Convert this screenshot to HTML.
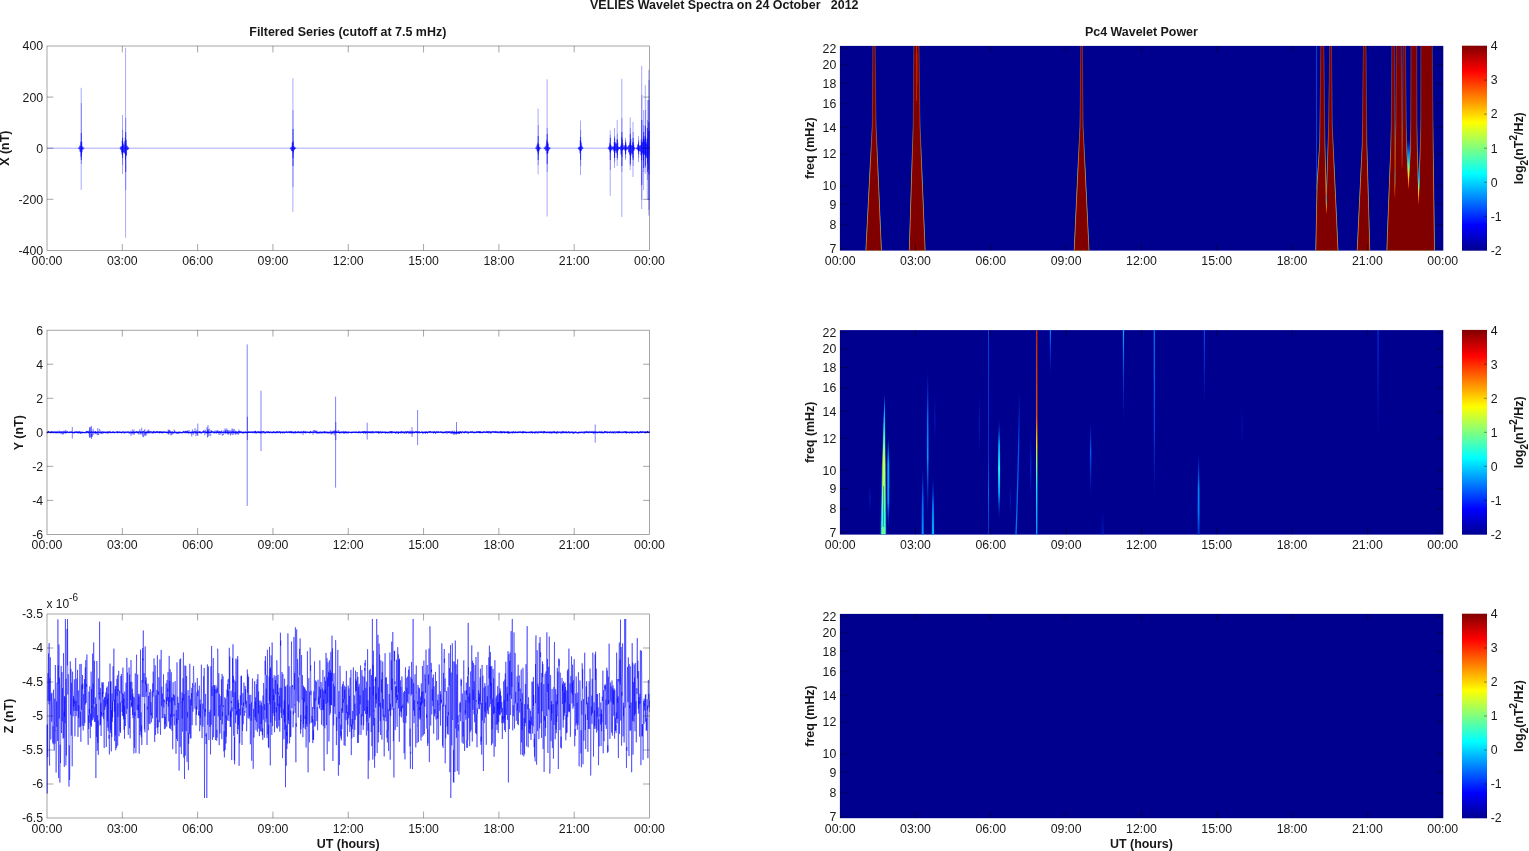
<!DOCTYPE html>
<html lang="en"><head><meta charset="utf-8"><title>VELIES Wavelet Spectra on 24 October 2012</title>
<style>html,body{margin:0;padding:0;background:#fff;}body{width:1529px;height:851px;overflow:hidden;}svg{display:block;}text{font-family:'Liberation Sans', Arial, Helvetica, sans-serif;fill:#181818;}</style>
</head><body>
<svg width="1529" height="851" viewBox="0 0 1529 851">
<rect width="1529" height="851" fill="#fff"/>
<defs>
<linearGradient id="jet" x1="0" y1="1" x2="0" y2="0">
<stop offset="0" stop-color="#00008f"/>
<stop offset="0.125" stop-color="#0000ff"/>
<stop offset="0.375" stop-color="#00ffff"/>
<stop offset="0.625" stop-color="#ffff00"/>
<stop offset="0.875" stop-color="#ff0000"/>
<stop offset="1" stop-color="#800000"/>
</linearGradient>
</defs>
<text x="724.3" y="9.2" text-anchor="middle" font-size="12.45" font-weight="bold">VELIES Wavelet Spectra on 24 October&#160;&#160; 2012</text>
<text x="347.8" y="36.4" text-anchor="middle" font-size="12.45" font-weight="bold">Filtered Series (cutoff at 7.5 mHz)</text>
<text x="1141.4" y="36.4" text-anchor="middle" font-size="12.45" font-weight="bold">Pc4 Wavelet Power</text>
<path d="M47 148.2H649.5M81.2 87.8V189.9M122.5 115V174M125.6 47.8V237.7M292.9 78.2V211.8M538.1 108.5V174.4M547.1 79.3V216.5M580.5 120.6V175.1M610.2 130.4V195.8M614.5 128V168M617.2 120V166M621.8 78.8V217M625.5 138V160M630.2 117.5V170M633 122V177M638.5 136V162M641.7 65.8V209M643.6 110V190M645.3 85V174M647.3 100V200M648.8 69.7V215.7" fill="none" stroke="#0000ff" stroke-width="0.5" stroke-opacity="0.68"/><path d="M81.35 103V164M122.65 130V165M125.75 118V190M293.05 110V187M538.25 125V165M547.25 128V172M580.65 130V166M610.35 135V170M614.65 136V162M617.35 134V160M621.95 118V172M625.65 140V158M630.35 128V166M633.15 132V166M638.65 140V158M641.85 95V200M643.75 125V172M645.45 110V168M647.45 120V180M648.95 80V210" fill="none" stroke="#0000ff" stroke-width="0.55" stroke-opacity="0.6"/><path d="M81.3 133V160M122.6 138V158M125.7 132V172M293 129V166M538.2 136V160M547.2 134V164M580.6 137V160M610.3 138V160M614.6 138V158M617.3 140V158M621.9 132V166M625.6 142V154M630.3 134V164M633.1 138V160M638.6 142V154M641.8 120V185M643.7 132V168M645.4 126V166M647.4 128V172M648.9 100V200" fill="none" stroke="#0000ff" stroke-width="0.75" stroke-opacity="0.85"/><path d="M78.25 148.2L78.5 148.57L78.75 147.52L79 149.29L79.25 147.44L79.5 149.09L79.75 145.57L80 151.8L80.25 145.99L80.5 152.14L80.75 141.7L81 156.91L81.25 143.76L81.5 155.17L81.75 141.77L82 152.22L82.25 146.32L82.5 149.31L82.75 146.93L83 149.82L83.25 147.75L83.5 148.5L83.75 147.82L84 148.37L84.25 148.2M119.75 148.2L120 148.39L120.25 147.65L120.5 149.33L120.75 146.83L121 150.05L121.25 146.07L121.5 152.22L121.75 146.09L122 154.51L122.25 140.76L122.5 154.98L122.75 141.68L123 152.11L123.25 145.46L123.5 152.64L123.75 143.66L124 152.2L124.25 145.16L124.5 153.11L124.75 141.14L125 154.01L125.25 137.52L125.5 159.46L125.75 143.2L126 155.6L126.25 139.86L126.5 155.34L126.75 145.92L127 149.96L127.25 145.83L127.5 150.08L127.75 147.16L128 149.72L128.25 147.64L128.5 148.92L128.75 147.65L129 148.2M290 148.2L290.25 147.91L290.5 148.96L290.75 147.53L291 149.76L291.25 147.29L291.5 150.79L291.75 146.43L292 151.23L292.25 142.24L292.5 151.19L292.75 143.03L293 158.05L293.25 141.22L293.5 152.38L293.75 146.3L294 150.2L294.25 147.2L294.5 149.93L294.75 146.71L295 148.84L295.25 147.87L295.5 148.65L295.75 147.78L296 148.2M535.25 148.2L535.5 148.56L535.75 147.64L536 148.67L536.25 147.62L536.5 149.03L536.75 145.74L537 150.61L537.25 144.34L537.5 152.39L537.75 142.86L538 150.98L538.25 144.63L538.5 154.44L538.75 144.03L539 151.28L539.25 146.91L539.5 149.81L539.75 146.89L540 148.56L540.25 147.91L540.5 148.59L540.75 147.95L541 148.2M543.75 148.2L544 148.46L544.25 147.6L544.5 149L544.75 147.74L545 149.24L545.25 146.18L545.5 150.65L545.75 146.76L546 149.73L546.25 144.39L546.5 150.7L546.75 139.72L547 153.94L547.25 142.42L547.5 153.75L547.75 141.79L548 152.93L548.25 143.71L548.5 150.91L548.75 146.97L549 149.65L549.25 147.53L549.5 149.29L549.75 147.45L550 148.57L550.25 147.88L550.5 148.2M577.75 148.2L578 148.44L578.25 147.86L578.5 149.2L578.75 147.25L579 149.68L579.25 146.74L579.5 150.55L579.75 146.66L580 153.46L580.25 140.31L580.5 151.67L580.75 141.34L581 150.61L581.25 143.17L581.5 150.46L581.75 145.6L582 149.21L582.25 146.82L582.5 148.97L582.75 147.51L583 148.56L583.25 148.2M607.75 148.2L608 148.4L608.25 147.7L608.5 148.67L608.75 147.06L609 149.99L609.25 145.92L609.5 149.7L609.75 143.16L610 151.88L610.25 144.34L610.5 152.96L610.75 145.12L611 150.94L611.25 145.84L611.5 149.81L611.75 147.28L612 149.45L612.25 146.81L612.5 148.67L612.75 146.58L613 150.3L613.25 146.8L613.5 149.93L613.75 146.19L614 151.66L614.25 142.19L614.5 157.77L614.75 142.54L615 153.04L615.25 142.16L615.5 150.58L615.75 143.97L616 150.83L616.25 143.3L616.5 152.91L616.75 144.42L617 151.52L617.25 139.16L617.5 154.74L617.75 142.86L618 150.6L618.25 146.67L618.5 149.82L618.75 147.4L619 148.81L619.25 146.99L619.5 148.97L619.75 147.09L620 148.87L620.25 146.94L620.5 150.03L620.75 145.65L621 154.48L621.25 144.52L621.5 153.28L621.75 136.94L622 157.15L622.25 139.52L622.5 150.59L622.75 142.88L623 149.8L623.25 145.23L623.5 149.26L623.75 147.39L624 149.19L624.25 146.91L624.5 149.45L624.75 145.25L625 150.78L625.25 145.15L625.5 154.06L625.75 143.28L626 149.6L626.25 145.41L626.5 150.24L626.75 147.24L627 149.07L627.25 146.84L627.5 149.49L627.75 147.58L628 148.97L628.25 145.98L628.5 151.81L628.75 145.23L629 152.71L629.25 145.21L629.5 154.75L629.75 143.15L630 152.29L630.25 141.27L630.5 159.75L630.75 138.86L631 155.58L631.25 145.01L631.5 153.47L631.75 145.63L632 152.89L632.25 145.41L632.5 154.23L632.75 142.29L633 157.89L633.25 142.34L633.5 150.77L633.75 144.73L634 150.78L634.25 147.37L634.5 149.19L634.75 147.49L635 148.53L635.25 148.2M635.75 148.2L636 148.46L636.25 147.96L636.5 148.69L636.75 147.67L637 149.61L637.25 146.91L637.5 149.43L637.75 144.48L638 150.59L638.25 144.48L638.5 151.33L638.75 145.31L639 151.51L639.25 146.22L639.5 150.94L639.75 145.64L640 150.71L640.25 145.06L640.5 151.73L640.75 145.68L641 155.21L641.25 139.54L641.5 160.25L641.75 143.3L642 154.79L642.25 142.41L642.5 152.78L642.75 141.53L643 153.56L643.25 138.74L643.5 160.4L643.75 136.63L644 154L644.25 141.71L644.5 154.62L644.75 138.86L645 154.6L645.25 135.95L645.5 157.05L645.75 139.31L646 155.39L646.25 142.4L646.5 158.14L646.75 144.05L647 156.21L647.25 137.83L647.5 163.72L647.75 139.4L648 158.31L648.25 131.07L648.5 169.51L648.75 122.08L649 174.61L649.2 130.91L649.2 155.23" fill="none" stroke="#0000ff" stroke-width="0.4" stroke-linejoin="bevel" stroke-opacity="0.9"/>
<path d="M47 432.79L47.5 432.22L48 432.16L48.5 431.56L49 432.3L49.5 432.21L50 432.15L50.5 432.39L51 432.42L51.5 432L52 432.05L52.5 432.17L53 432.49L53.5 432.46L54 431.93L54.5 431.99L55 432.51L55.5 432.74L56 432.29L56.5 432.11L57 432.61L57.5 432.21L58 432.5L58.5 432.73L59 432.48L59.5 432.32L60 432.51L60.5 432.12L61 432.25L61.5 432.14L62 432.24L62.5 432.16L63 432.25L63.5 432.19L64 432.32L64.5 432.32L65 432.38L65.5 432.69L66 431.87L66.5 432.66L67 432.23L67.5 431.95L68 432.25L68.5 432.33L69 432.6L69.5 432L70 432.36L70.5 432.33L71 431.83L71.5 431.97L72 432.47L72.5 432.49L73 432.6L73.5 432.45L74 432.41L74.5 432.33L75 432.64L75.5 432.06L76 432.26L76.5 432.41L77 431.86L77.5 432.67L78 432.08L78.5 432.28L79 432.9L79.5 432.07L80 432.15L80.5 432.74L81 432L81.5 432.18L82 432.44L82.5 432.43L83 432.47L83.5 432.4L84 432.68L84.5 432.58L85 432.47L85.5 432.11L86 432.1L86.5 431.77L87 432.49L87.5 431.79L88 432.55L88.5 432.82L89 432L89.5 432.11L90 432.17L90.5 432.53L91 432.06L91.5 432.26L92 432.15L92.5 432.23L93 432.66L93.5 432.03L94 432.32L94.5 432.38L95 432.54L95.5 431.95L96 432.61L96.5 432.42L97 432.54L97.5 432.32L98 431.84L98.5 432.12L99 432.53L99.5 432.31L100 432.29L100.5 432.8L101 432.92L101.5 432.29L102 432.84L102.5 431.74L103 431.73L103.5 432.54L104 432.23L104.5 432.46L105 432.44L105.5 432.27L106 432.49L106.5 432.34L107 431.87L107.5 432.36L108 432.35L108.5 432.81L109 431.98L109.5 432.3L110 432.18L110.5 432.26L111 432.76L111.5 432.41L112 432.17L112.5 432.34L113 432.51L113.5 432.02L114 432.23L114.5 432.73L115 432.54L115.5 432.29L116 432.17L116.5 432.26L117 431.87L117.5 432.56L118 432.4L118.5 432.34L119 431.94L119.5 432.1L120 432.44L120.5 432.37L121 432.16L121.5 432.44L122 432.56L122.5 432.11L123 432.15L123.5 432.06L124 431.98L124.5 432.52L125 432.44L125.5 432.39L126 431.97L126.5 432.01L127 432.28L127.5 432.18L128 432.33L128.5 432.1L129 432.48L129.5 432.8L130 432.73L130.5 432.75L131 432.32L131.5 432.56L132 432.19L132.5 432.56L133 432.19L133.5 432.16L134 432.12L134.5 432.5L135 432.38L135.5 432.35L136 431.98L136.5 432.34L137 431.9L137.5 432.71L138 432.26L138.5 432.35L139 432.27L139.5 431.86L140 431.92L140.5 432.29L141 432.72L141.5 431.99L142 432.1L142.5 432.29L143 431.83L143.5 431.82L144 432.18L144.5 432.29L145 432.19L145.5 432.73L146 432.25L146.5 432.4L147 432.75L147.5 432.78L148 431.85L148.5 432.19L149 432.63L149.5 431.91L150 432.04L150.5 431.94L151 431.92L151.5 431.98L152 432.35L152.5 432.66L153 432.73L153.5 432.3L154 431.75L154.5 432.28L155 432.21L155.5 432.4L156 432.26L156.5 431.8L157 432.42L157.5 431.72L158 432.11L158.5 432.39L159 432.4L159.5 432.74L160 431.64L160.5 432.4L161 432.49L161.5 432.21L162 432.48L162.5 431.99L163 432.48L163.5 432.45L164 432.03L164.5 432.11L165 432.25L165.5 432.12L166 432.59L166.5 432.35L167 432.67L167.5 432.63L168 432.32L168.5 432.25L169 432.03L169.5 432.07L170 432.08L170.5 432.4L171 432.05L171.5 432.32L172 432.35L172.5 432.16L173 432.25L173.5 432.7L174 432.75L174.5 432.08L175 432.25L175.5 432.2L176 432.22L176.5 432.73L177 432.49L177.5 432.65L178 432.8L178.5 432.18L179 432.25L179.5 432.31L180 432.59L180.5 432.27L181 432.48L181.5 432.63L182 432.63L182.5 432.43L183 432.08L183.5 431.86L184 432.61L184.5 432.43L185 432.04L185.5 432.16L186 432.17L186.5 431.83L187 432.37L187.5 432.08L188 432.22L188.5 432.51L189 432.27L189.5 432.45L190 432.42L190.5 432.31L191 432.31L191.5 432.82L192 432.25L192.5 432.76L193 432.04L193.5 432.5L194 432.35L194.5 432.1L195 431.56L195.5 432.75L196 431.98L196.5 432.03L197 432.34L197.5 432.32L198 432.38L198.5 432.23L199 431.88L199.5 432.54L200 432.05L200.5 432.36L201 432.46L201.5 432.63L202 432.24L202.5 432.21L203 432.23L203.5 431.78L204 432.09L204.5 432.02L205 431.98L205.5 432.35L206 432.21L206.5 432.75L207 432.72L207.5 431.77L208 432.33L208.5 432.02L209 432.46L209.5 432.34L210 432.56L210.5 432.39L211 432.51L211.5 432.22L212 431.6L212.5 431.97L213 432.06L213.5 432.16L214 432.02L214.5 432.76L215 432.25L215.5 432.66L216 432.21L216.5 432.76L217 431.96L217.5 432.47L218 431.93L218.5 432.42L219 432.74L219.5 431.84L220 432.06L220.5 432.37L221 432.25L221.5 431.92L222 432.62L222.5 432.31L223 432.66L223.5 432.39L224 431.98L224.5 432.17L225 432.69L225.5 431.91L226 432.17L226.5 432.47L227 432.58L227.5 432.53L228 431.89L228.5 432.88L229 432.25L229.5 432.3L230 432.3L230.5 432.24L231 432.03L231.5 432.21L232 432.67L232.5 431.92L233 431.62L233.5 432.45L234 432.39L234.5 432.5L235 432.78L235.5 432.1L236 432.35L236.5 432.44L237 432.64L237.5 432.59L238 432.06L238.5 431.91L239 432.22L239.5 431.85L240 432.61L240.5 432.19L241 432.2L241.5 432.05L242 432.73L242.5 432.38L243 432.18L243.5 432.47L244 432.28L244.5 432.47L245 432.67L245.5 432.23L246 432.44L246.5 432.43L247 432.62L247.5 432.47L248 432.31L248.5 432.12L249 432.38L249.5 432.01L250 432.48L250.5 432.32L251 432.45L251.5 432.15L252 432.08L252.5 432.04L253 432.61L253.5 432.24L254 432.24L254.5 431.8L255 432.28L255.5 431.33L256 432.68L256.5 432.23L257 432.31L257.5 431.9L258 431.99L258.5 432.47L259 432.24L259.5 432.42L260 432.66L260.5 432.49L261 431.77L261.5 432.02L262 431.98L262.5 432.05L263 431.72L263.5 431.73L264 432.09L264.5 432.13L265 432.44L265.5 432.21L266 432.7L266.5 431.79L267 431.91L267.5 432.37L268 432.22L268.5 432.02L269 432.51L269.5 432.6L270 432.67L270.5 432.19L271 432.3L271.5 432.36L272 432.32L272.5 432.59L273 432.16L273.5 432.4L274 431.68L274.5 432.51L275 432.76L275.5 432.29L276 432.59L276.5 431.83L277 432.21L277.5 431.87L278 432.39L278.5 432.45L279 431.92L279.5 432.06L280 432.14L280.5 432.98L281 432.28L281.5 432.33L282 432.4L282.5 432.38L283 432.23L283.5 431.93L284 432.11L284.5 432.76L285 432.37L285.5 432.2L286 431.92L286.5 432.28L287 432.31L287.5 432.12L288 432.55L288.5 432.13L289 432.25L289.5 432.54L290 432.36L290.5 432.61L291 432.24L291.5 432.18L292 432.43L292.5 432.36L293 432.63L293.5 432.41L294 432.29L294.5 432.43L295 432.48L295.5 431.99L296 432.26L296.5 432.21L297 432.64L297.5 432.16L298 432.6L298.5 431.95L299 432.28L299.5 432.6L300 432.23L300.5 432.62L301 431.73L301.5 432.31L302 432.35L302.5 432.26L303 431.88L303.5 432.49L304 431.65L304.5 432.57L305 432.38L305.5 432.58L306 432.23L306.5 431.99L307 432.16L307.5 432.17L308 432.47L308.5 432.21L309 432.42L309.5 432.44L310 432.7L310.5 431.74L311 432.19L311.5 432.49L312 432.49L312.5 432.15L313 432.23L313.5 432.28L314 432.34L314.5 432.15L315 432.12L315.5 431.99L316 432.2L316.5 432.69L317 432.04L317.5 432.57L318 432.85L318.5 432.36L319 432.97L319.5 432.27L320 432.77L320.5 432.29L321 431.97L321.5 432.41L322 432.84L322.5 432.14L323 432.44L323.5 432.03L324 432.06L324.5 432.44L325 432.26L325.5 432.47L326 432.67L326.5 431.98L327 432.12L327.5 432.33L328 432.96L328.5 432.22L329 432.18L329.5 432.44L330 432.91L330.5 432.15L331 432.23L331.5 432.33L332 432.53L332.5 432.93L333 431.97L333.5 431.85L334 432.36L334.5 432.47L335 431.7L335.5 432.15L336 432.59L336.5 432.18L337 432.46L337.5 432.37L338 432.51L338.5 432.45L339 432.4L339.5 432.67L340 432.17L340.5 432.36L341 432.64L341.5 432.17L342 432.22L342.5 432.12L343 432.07L343.5 432.89L344 432.46L344.5 432.85L345 432.53L345.5 432.35L346 432.25L346.5 432.4L347 432.32L347.5 432.58L348 432.09L348.5 432.38L349 432.46L349.5 432.27L350 432.26L350.5 432.48L351 432.49L351.5 432.3L352 432.33L352.5 432.17L353 432.48L353.5 432.3L354 431.89L354.5 432.24L355 432.5L355.5 432.41L356 432.08L356.5 432.53L357 432.49L357.5 432.49L358 432.75L358.5 432.23L359 432.49L359.5 432.25L360 432.6L360.5 432.64L361 432.46L361.5 432.53L362 432.09L362.5 432.49L363 431.98L363.5 432.92L364 432.64L364.5 431.89L365 431.57L365.5 432.68L366 432.07L366.5 432.46L367 431.95L367.5 432.33L368 432.13L368.5 432.47L369 432.21L369.5 432.72L370 432.09L370.5 432.66L371 432.3L371.5 432.45L372 431.86L372.5 431.81L373 432.6L373.5 431.96L374 432.21L374.5 432.21L375 432.05L375.5 432.36L376 431.91L376.5 431.97L377 432.56L377.5 432.08L378 432.51L378.5 432.49L379 432.73L379.5 432.43L380 431.79L380.5 432.12L381 432.19L381.5 432.64L382 432.4L382.5 432.16L383 432.42L383.5 432.2L384 432.45L384.5 432.34L385 432.61L385.5 432.39L386 432.58L386.5 432.3L387 432.5L387.5 432.26L388 432.48L388.5 432.36L389 432.27L389.5 432.18L390 432.22L390.5 432.43L391 431.66L391.5 432.65L392 431.64L392.5 432.25L393 432.21L393.5 432.51L394 432.37L394.5 432.29L395 432.32L395.5 432.56L396 432.96L396.5 432.41L397 431.72L397.5 432.18L398 432.42L398.5 433.23L399 432.09L399.5 432.2L400 432.46L400.5 432.39L401 431.93L401.5 432.57L402 431.93L402.5 432.23L403 432.67L403.5 431.93L404 432.2L404.5 432.77L405 432.23L405.5 432.01L406 432.14L406.5 432.53L407 431.86L407.5 432.12L408 431.89L408.5 431.98L409 432.66L409.5 432.28L410 432.18L410.5 432.42L411 432.1L411.5 431.96L412 432.62L412.5 432.55L413 432.06L413.5 432.5L414 432.71L414.5 432.44L415 432.44L415.5 431.95L416 432.26L416.5 431.77L417 432.61L417.5 432.25L418 432.67L418.5 432.08L419 432.55L419.5 431.85L420 432.19L420.5 432.45L421 432.4L421.5 432.28L422 431.84L422.5 432.67L423 432.49L423.5 432.62L424 432.62L424.5 432.19L425 432.41L425.5 433.05L426 432.06L426.5 432.41L427 432.14L427.5 432.79L428 432.35L428.5 432.01L429 432.13L429.5 431.9L430 431.65L430.5 431.53L431 432.09L431.5 431.98L432 432.34L432.5 432.07L433 432.36L433.5 432.8L434 431.97L434.5 431.96L435 432.58L435.5 432.96L436 432.05L436.5 431.82L437 432.22L437.5 432.18L438 432.5L438.5 432L439 432.22L439.5 432.21L440 431.85L440.5 431.85L441 432.43L441.5 432.45L442 432.07L442.5 432.74L443 432.56L443.5 432.43L444 432.47L444.5 432.4L445 432.5L445.5 432.54L446 432.32L446.5 431.72L447 432.25L447.5 432.06L448 431.96L448.5 432.47L449 431.79L449.5 432.53L450 432.12L450.5 431.95L451 432.05L451.5 432.96L452 432.72L452.5 432.22L453 432.6L453.5 432.81L454 432.05L454.5 432.22L455 432.56L455.5 432.41L456 432.19L456.5 432.76L457 432.44L457.5 432.52L458 432.98L458.5 432.44L459 433.05L459.5 432.39L460 432.25L460.5 432.33L461 432.55L461.5 432.49L462 432.4L462.5 431.87L463 431.99L463.5 432.22L464 432.51L464.5 432.71L465 431.61L465.5 432.25L466 432.17L466.5 432.27L467 432.36L467.5 432.05L468 431.92L468.5 432.59L469 432.51L469.5 432.18L470 432.26L470.5 432.1L471 431.89L471.5 432.48L472 432.1L472.5 431.97L473 432.12L473.5 432.76L474 432.42L474.5 432.36L475 432.32L475.5 432.54L476 432.5L476.5 431.92L477 432.23L477.5 432.11L478 432.36L478.5 432.28L479 431.72L479.5 432.62L480 432.37L480.5 431.8L481 432.62L481.5 432.33L482 432.43L482.5 432.3L483 432.34L483.5 432.15L484 431.81L484.5 432.11L485 432.34L485.5 432.3L486 432.47L486.5 432.26L487 431.64L487.5 432.5L488 432.05L488.5 431.9L489 432.19L489.5 431.89L490 432.39L490.5 432.02L491 432.84L491.5 432.21L492 432.12L492.5 432.09L493 431.66L493.5 432.03L494 432.06L494.5 432.18L495 431.65L495.5 432.29L496 432.65L496.5 432.16L497 432.27L497.5 432.4L498 432.05L498.5 432.16L499 432.55L499.5 432.34L500 431.93L500.5 431.78L501 432.94L501.5 432.41L502 431.83L502.5 432.33L503 432.48L503.5 432.32L504 431.76L504.5 432.81L505 432.46L505.5 432.24L506 432.49L506.5 432.23L507 432.2L507.5 432.55L508 431.73L508.5 432.58L509 432.41L509.5 432.51L510 432.56L510.5 432.74L511 432.71L511.5 432.55L512 432.19L512.5 432.5L513 432.17L513.5 432.03L514 432.43L514.5 432.41L515 432.64L515.5 431.7L516 432.48L516.5 432.5L517 432.34L517.5 432.73L518 432.06L518.5 432.4L519 432.2L519.5 432.31L520 432.03L520.5 432.27L521 432.5L521.5 432.34L522 432.41L522.5 432.09L523 432.76L523.5 432.11L524 432.32L524.5 432.48L525 432.26L525.5 432.53L526 432.37L526.5 432.8L527 432.47L527.5 432.42L528 432.08L528.5 432.44L529 432.6L529.5 432.43L530 432.05L530.5 432.16L531 432.24L531.5 432.32L532 431.92L532.5 432.84L533 432.28L533.5 432.34L534 432.18L534.5 432.3L535 432.85L535.5 432.04L536 432.16L536.5 432.01L537 432.15L537.5 432.74L538 432.13L538.5 432.18L539 431.79L539.5 432.2L540 432.37L540.5 432.17L541 432.19L541.5 432.53L542 432.45L542.5 432.28L543 432.08L543.5 431.88L544 432.78L544.5 431.87L545 432.49L545.5 432.25L546 432.1L546.5 432.56L547 432.1L547.5 432.66L548 432.02L548.5 432.45L549 432.67L549.5 432.03L550 432.9L550.5 432.55L551 431.68L551.5 432.7L552 432.84L552.5 432.23L553 432.25L553.5 432.41L554 431.77L554.5 432.35L555 432.57L555.5 432.15L556 432.62L556.5 432.93L557 431.75L557.5 431.8L558 432.11L558.5 432.48L559 432.41L559.5 432.05L560 431.99L560.5 432.1L561 432.78L561.5 432.04L562 432.14L562.5 432.57L563 432.23L563.5 432.03L564 432.71L564.5 432.4L565 432.11L565.5 432.2L566 432.57L566.5 432.2L567 432.38L567.5 432.56L568 432.59L568.5 431.79L569 432.17L569.5 432.22L570 432.34L570.5 432.53L571 432.64L571.5 432.18L572 432L572.5 432.37L573 432.14L573.5 432.8L574 432.41L574.5 432.33L575 432.59L575.5 432.13L576 432.22L576.5 432.27L577 432.5L577.5 432.68L578 432.54L578.5 432.53L579 432.25L579.5 432.42L580 432.25L580.5 432.64L581 432.14L581.5 432.3L582 432.38L582.5 432.54L583 432.11L583.5 432.25L584 432.08L584.5 431.94L585 432.62L585.5 432.44L586 431.89L586.5 432.04L587 432.47L587.5 432.14L588 432.02L588.5 432.67L589 432.18L589.5 432.21L590 432.47L590.5 432.11L591 432.32L591.5 432.36L592 432.52L592.5 432.1L593 432.62L593.5 432.41L594 432.82L594.5 432.37L595 432.16L595.5 432.16L596 431.99L596.5 432.31L597 432.29L597.5 432.56L598 432.33L598.5 432.07L599 432.6L599.5 432.19L600 432.38L600.5 432.72L601 432.66L601.5 432.1L602 432.27L602.5 432.68L603 432.58L603.5 432.46L604 432.55L604.5 431.7L605 432.22L605.5 431.9L606 432.12L606.5 432.19L607 432.43L607.5 432.63L608 432.52L608.5 432.37L609 432.2L609.5 432.66L610 432.37L610.5 431.79L611 432.27L611.5 432.43L612 432.02L612.5 432.35L613 432.72L613.5 432.22L614 432.27L614.5 432.27L615 432.01L615.5 432.15L616 432L616.5 432.2L617 432.06L617.5 432.55L618 432.25L618.5 432.52L619 431.92L619.5 432.27L620 432.44L620.5 432.48L621 432.1L621.5 432.25L622 432.31L622.5 432.18L623 432.16L623.5 432.43L624 431.94L624.5 431.77L625 432.14L625.5 432.36L626 431.63L626.5 432.66L627 432.31L627.5 432.44L628 432.04L628.5 432.27L629 432.8L629.5 432.81L630 432.46L630.5 432.2L631 432.25L631.5 432.66L632 432.08L632.5 432.02L633 432.24L633.5 432.54L634 431.98L634.5 432.38L635 432.39L635.5 432.32L636 432.24L636.5 432.54L637 432.44L637.5 431.86L638 432.73L638.5 432.41L639 432.36L639.5 432.17L640 432.19L640.5 431.56L641 432.21L641.5 432.44L642 432.44L642.5 432.08L643 431.6L643.5 431.95L644 432.18L644.5 432.63L645 431.81L645.5 432.27L646 432.43L646.5 432.44L647 432.24L647.5 431.48L648 432.44L648.5 432.3L649 432.42L649.5 432" fill="none" stroke="#0000ff" stroke-width="1.15" stroke-linejoin="round" stroke-opacity="0.92"/><path d="M47 431.9L47.2 433.3L47.5 432.2L47.8 432.2L48 431.7L48.2 433.1L48.5 431L48.8 431.9L49 432.6L49.2 432.2L49.5 432.9L49.8 432.6L50 433.3L50.2 432.1L50.5 432.2L50.8 432.5L51 431L51.2 433.3L51.5 431.6L51.8 433.1L52 433.3L52.2 433L52.5 432.4L52.8 431.8L53 430.9L53.2 432.7L53.5 432.1L53.8 433.5L54 432.1L54.2 432.7L54.5 432L54.8 432.6L55 432L55.2 432.2L55.5 430.9L55.8 431.8L56 432.2L56.2 433.2L56.5 432.5L56.8 431.4L57 433.4L57.2 432.5L57.5 433.1L57.8 431.6L58 430.9L58.2 431.6L58.5 431.3L58.8 432.5L59 430.7L59.2 431.3L59.5 430.8L59.8 432.4L60 431.2L60.2 433.9L60.5 433.3L60.8 433.3L61 432L61.2 432.6L61.5 433.4L61.8 431.1L62 434L62.2 432.2L62.5 434L62.8 435L63 434.5L63.2 430.8L63.5 434L63.8 431.9L64 431.7L64.2 432L64.5 430.7L64.8 432.6L65 431.4L65.2 433.7L65.5 432.7L65.8 429.9L66 431.2L66.2 431.1L66.5 431.5L66.8 431.6L67 432.5L67.2 432.1L67.5 431.3L67.8 432.7L68 433L68.2 432.3L68.5 433.2L68.8 432.6L69 431.9L69.2 432L69.5 432.3L69.8 432.7L70 432.4L70.2 433L70.5 433.1L70.8 431.6L71 431.4L71.2 432.2L71.5 432.6L71.8 433L72 432.8L72.2 432.7L72.5 431.6L72.8 432.6L73 431.8L73.2 432.6L73.5 432.9L73.8 431.8L74 432.1L74.2 433.7L74.5 431.7L74.8 431.9L75 431.5L75.2 431.2L75.5 433L75.8 431.8L76 431.8L76.2 431.7L76.5 430.9L76.8 432.8L77 431.9L77.2 432.3L77.5 433.3L77.8 432.2L78 432.4L78.2 432.4L78.5 433.2L78.8 431.3L79 431.9L79.2 430.9L79.5 432.3L79.8 432.8L80 432L80.2 433.7L80.5 433L80.8 433.7L81 432.4L81.2 433.6L81.5 431.9L81.8 432.6L82 432.4L82.2 432L82.5 433.5L82.8 433.3L83 431.8L83.2 432.8L83.5 432.4L83.8 432.5L84 432.8L84.2 432L84.5 432.5L84.8 432.6L85 431.9L85.2 432L85.5 433L85.8 432.4L86 433.7L86.2 433.7L86.5 431.8L86.8 432.6L87 430.9L87.2 431.9L87.5 431.7L87.8 431.8L88 430.9L88.2 432.7L88.5 432.6L88.8 430.7L89 432.1L89.2 434.7L89.5 436.7L89.8 428.4L90 437.2L90.2 426.8L90.5 429.6L90.8 431L91 437.4L91.2 434.3L91.5 434.2L91.8 437.2L92 433L92.2 431L92.5 436.3L92.8 431.7L93 429.3L93.2 428.7L93.5 432.6L93.8 434.8L94 432.8L94.2 432.3L94.5 433.2L94.8 431.2L95 432.6L95.2 431.7L95.5 434L95.8 431.1L96 433.5L96.2 432.6L96.5 432.3L96.8 433.6L97 432L97.2 435.1L97.5 431.9L97.8 428.3L98 435.2L98.2 435L98.5 433.3L98.8 435L99 433.6L99.2 430.8L99.5 428.9L99.8 430.6L100 431.9L100.2 433L100.5 430.5L100.8 431.4L101 433.4L101.2 431.8L101.5 431.8L101.8 431.6L102 433.5L102.2 432.9L102.5 432.9L102.8 433.5L103 433L103.2 433.3L103.5 432.6L103.8 432.9L104 432.8L104.2 432.8L104.5 431.4L104.8 432.1L105 432L105.2 431.8L105.5 432.3L105.8 433.6L106 433L106.2 432.4L106.5 432.5L106.8 433.3L107 431.4L107.2 432.6L107.5 433.5L107.8 433.6L108 432.9L108.2 432.7L108.5 431L108.8 431.8L109 432.3L109.2 432.6L109.5 432.6L109.8 430.9L110 431.9L110.2 432.5L110.5 431.7L110.8 432.1L111 432.7L111.2 432.5L111.5 432.4L111.8 432.8L112 433.1L112.2 432.1L112.5 431.5L112.8 431.8L113 431.9L113.2 432.3L113.5 431.2L113.8 431.7L114 432.1L114.2 433.3L114.5 432.7L114.8 432.2L115 432.9L115.2 432.4L115.5 432.5L115.8 433.1L116 432.5L116.2 432.4L116.5 432.8L116.8 431.9L117 432.3L117.2 430.9L117.5 432L117.8 433.4L118 432L118.2 432.3L118.5 432L118.8 431.6L119 432.6L119.2 432.3L119.5 433.1L119.8 431.7L120 432.3L120.2 432.1L120.5 431.9L120.8 433.1L121 431.8L121.2 431.8L121.5 433.7L121.8 432.2L122 432.2L122.2 432.6L122.5 431.6L122.8 432.6L123 431.5L123.2 432L123.5 431.9L123.8 433.3L124 432.8L124.2 433.6L124.5 433.5L124.8 431.8L125 432.7L125.2 432L125.5 431.8L125.8 433.2L126 433.3L126.2 432.4L126.5 432.5L126.8 432.5L127 432.5L127.2 432.6L127.5 431.6L127.8 432.7L128 431.8L128.2 431.1L128.5 432.1L128.8 432.7L129 433.6L129.2 432.9L129.5 432.8L129.8 431.1L130 433.1L130.2 432.7L130.5 432.9L130.8 430.7L131 435.9L131.2 433.9L131.5 433.8L131.8 432.5L132 431.7L132.2 434.3L132.5 429.6L132.8 431.4L133 431.7L133.2 433.4L133.5 431.8L133.8 434.6L134 429.6L134.2 434.5L134.5 432.7L134.8 433.3L135 431.9L135.2 433L135.5 432.1L135.8 432.5L136 431.2L136.2 432.7L136.5 432.4L136.8 430.9L137 432.2L137.2 432.1L137.5 432.9L137.8 431.8L138 432.4L138.2 433.6L138.5 431.3L138.8 434.7L139 432.6L139.2 431.9L139.5 430.1L139.8 429.2L140 434L140.2 431.4L140.5 431.1L140.8 434.5L141 433.7L141.2 432.5L141.5 429L141.8 427.8L142 434.5L142.2 432.2L142.5 431.7L142.8 436.9L143 431.3L143.2 433.2L143.5 437.2L143.8 433.8L144 430.9L144.2 430.2L144.5 435.3L144.8 429.2L145 434.3L145.2 436.2L145.5 432.1L145.8 434.3L146 432.5L146.2 435.5L146.5 432.9L146.8 430.8L147 433.1L147.2 432.6L147.5 431.1L147.8 431.9L148 430.1L148.2 430.9L148.5 433.4L148.8 429.5L149 432.7L149.2 432.3L149.5 431.6L149.8 433.7L150 432.8L150.2 431.9L150.5 432.5L150.8 433L151 431.2L151.2 432.5L151.5 432.1L151.8 432.6L152 433.7L152.2 431.8L152.5 432.1L152.8 431.4L153 432.5L153.2 432.8L153.5 430.9L153.8 433.4L154 433.5L154.2 430.9L154.5 431.2L154.8 432.7L155 432.4L155.2 433.2L155.5 432.1L155.8 433.2L156 431.3L156.2 432.6L156.5 432L156.8 432L157 431L157.2 432L157.5 433.3L157.8 431.9L158 432.2L158.2 432.4L158.5 431.6L158.8 432.5L159 432.7L159.2 432.2L159.5 431L159.8 433.4L160 432.4L160.2 432.3L160.5 432.2L160.8 431.9L161 431.1L161.2 432.3L161.5 432.4L161.8 433L162 433.5L162.2 431.8L162.5 433.5L162.8 432.4L163 432.8L163.2 431.6L163.5 432.6L163.8 431.7L164 432.8L164.2 431.4L164.5 432.4L164.8 432L165 432.6L165.2 432.5L165.5 432.5L165.8 432L166 433L166.2 432.9L166.5 431.6L166.8 433.2L167 431.6L167.2 432.5L167.5 432.3L167.8 432.3L168 433.5L168.2 429.8L168.5 434.3L168.8 429.7L169 434.4L169.2 433.3L169.5 430L169.8 433L170 431.9L170.2 430.5L170.5 434.5L170.8 434.4L171 433.1L171.2 435.3L171.5 432.7L171.8 432L172 434.7L172.2 431.3L172.5 433.8L172.8 434.3L173 432.8L173.2 432.6L173.5 433.2L173.8 432.8L174 431.5L174.2 429.6L174.5 431.8L174.8 430.7L175 433.6L175.2 431.9L175.5 432.7L175.8 433.1L176 433.1L176.2 431.7L176.5 433.7L176.8 433.1L177 432.9L177.2 431.7L177.5 433.7L177.8 432.9L178 433.2L178.2 432.2L178.5 433.7L178.8 433.5L179 432.3L179.2 433.7L179.5 431.6L179.8 433L180 432.9L180.2 432.9L180.5 431.9L180.8 432.1L181 433.1L181.2 433.2L181.5 432.3L181.8 432.2L182 432L182.2 433.3L182.5 432.2L182.8 432L183 431L183.2 431L183.5 431.5L183.8 430.9L184 432L184.2 432.1L184.5 431.6L184.8 432L185 432.2L185.2 431L185.5 432.8L185.8 430.9L186 433.7L186.2 430.9L186.5 432.3L186.8 431.9L187 432.8L187.2 431.3L187.5 433L187.8 430L188 433.5L188.2 431.8L188.5 432.9L188.8 434.1L189 430.2L189.2 431.2L189.5 430.9L189.8 432.1L190 432.6L190.2 433.7L190.5 432.7L190.8 432L191 433.4L191.2 434.5L191.5 434.4L191.8 436.5L192 430.9L192.2 432.8L192.5 429.4L192.8 430.8L193 433.7L193.2 435L193.5 431.2L193.8 433.3L194 432.5L194.2 433.4L194.5 432.8L194.8 431.3L195 428.2L195.2 429.2L195.5 433.1L195.8 432.1L196 436.2L196.2 432.4L196.5 434L196.8 430.2L197 429.8L197.2 432.7L197.5 435.1L197.8 433L198 431.8L198.2 432.9L198.5 433.2L198.8 432.9L199 432.3L199.2 431.1L199.5 431.1L199.8 431.8L200 432.2L200.2 431.3L200.5 433.5L200.8 432.7L201 431.9L201.2 432.9L201.5 433.7L201.8 432.5L202 432.5L202.2 433.1L202.5 431.3L202.8 431.9L203 431.7L203.2 433.1L203.5 430.1L203.8 432.8L204 431.5L204.2 431.8L204.5 431.2L204.8 435.3L205 430.5L205.2 429.6L205.5 433L205.8 430.9L206 433.6L206.2 432.2L206.5 432.4L206.8 432.4L207 427.8L207.2 427L207.5 437.6L207.8 429.2L208 433.7L208.2 429.4L208.5 432.1L208.8 431.6L209 435.9L209.2 431.8L209.5 428.7L209.8 429.1L210 432.9L210.2 434.1L210.5 436.1L210.8 435.8L211 430L211.2 432.1L211.5 430.7L211.8 432.6L212 432.9L212.2 431L212.5 432.9L212.8 432.8L213 432.1L213.2 431.9L213.5 433.5L213.8 432.2L214 431.5L214.2 432.4L214.5 433.2L214.8 432.9L215 430.4L215.2 430.9L215.5 431.9L215.8 432.5L216 432.5L216.2 430.8L216.5 433.4L216.8 432.9L217 430.3L217.2 431L217.5 432.1L217.8 430.2L218 432.3L218.2 432.5L218.5 431.7L218.8 433.1L219 435L219.2 431.3L219.5 433L219.8 431.6L220 434.7L220.2 434.3L220.5 432.3L220.8 431.3L221 433.6L221.2 432.2L221.5 430.2L221.8 430.6L222 432L222.2 435.8L222.5 434.2L222.8 434.8L223 434L223.2 434.8L223.5 435.1L223.8 430.3L224 433.4L224.2 433.5L224.5 433.2L224.8 433.1L225 428.5L225.2 432.7L225.5 429.7L225.8 434.2L226 431.3L226.2 431.8L226.5 432.2L226.8 428.4L227 432L227.2 429.8L227.5 434.2L227.8 431.2L228 430L228.2 434.8L228.5 431.7L228.8 430.3L229 432.1L229.2 431.9L229.5 432.8L229.8 430.3L230 434.4L230.2 432.9L230.5 435.5L230.8 433.4L231 430.3L231.2 434.4L231.5 431.8L231.8 432.5L232 428.4L232.2 429.8L232.5 435L232.8 434.5L233 428.9L233.2 432.9L233.5 433L233.8 434.7L234 430.2L234.2 429L234.5 432.9L234.8 431.1L235 431.2L235.2 430.7L235.5 434.6L235.8 430.7L236 434.1L236.2 433.4L236.5 431.2L236.8 434L237 434.5L237.2 432.9L237.5 431.9L237.8 433.6L238 431.1L238.2 433.1L238.5 434.8L238.8 430.2L239 429.5L239.2 433.5L239.5 431L239.8 431.6L240 432.5L240.2 431.4L240.5 432.5L240.8 430.9L241 431.6L241.2 432.2L241.5 433.1L241.8 431.8L242 432.8L242.2 433.1L242.5 432.9L242.8 432.2L243 433.8L243.2 431.5L243.5 433.4L243.8 433.3L244 433.2L244.2 431.8L244.5 433.2L244.8 432.7L245 431.5L245.2 432.1L245.5 431.4L245.8 432.6L246 433.3L246.2 433L246.5 431.6L246.8 431.6L247 432.2L247.2 432.2L247.5 432.9L247.8 432.1L248 433.1L248.2 431.9L248.5 433.1L248.8 431.3L249 431.9L249.2 432.4L249.5 432.9L249.8 432.7L250 431.7L250.2 431.4L250.5 432.3L250.8 432.3L251 432L251.2 432.3L251.5 431.4L251.8 432.7L252 433L252.2 431.7L252.5 431.7L252.8 433.2L253 433.1L253.2 431.8L253.5 431.8L253.8 431.1L254 432.7L254.2 432.5L254.5 432.3L254.8 433.7L255 432.2L255.2 432.2L255.5 432.5L255.8 432.2L256 433.1L256.2 432.2L256.5 432.4L256.8 433.7L257 431.9L257.2 431.5L257.5 432.4L257.8 431.9L258 431.9L258.2 432.5L258.5 432.9L258.8 431.2L259 432.2L259.2 430.9L259.5 433L259.8 431.6L260 432.8L260.2 433.6L260.5 433.3L260.8 432.6L261 430.9L261.2 433.7L261.5 432L261.8 432.9L262 431.9L262.2 432.1L262.5 433.5L262.8 431.1L263 431.4L263.2 432.1L263.5 433.1L263.8 430.9L264 433.2L264.2 432L264.5 432.8L264.8 433.7L265 432.7L265.2 433.1L265.5 433.3L265.8 432.1L266 432.4L266.2 432.2L266.5 432.5L266.8 432.1L267 431.9L267.2 431.9L267.5 432.9L267.8 431.3L268 432.4L268.2 433.3L268.5 431.3L268.8 431L269 432.8L269.2 431.7L269.5 431.8L269.8 432.8L270 432.5L270.2 431.8L270.5 432.1L270.8 431.2L271 431.9L271.2 432.2L271.5 432.7L271.8 432.7L272 433.6L272.2 432.3L272.5 433L272.8 432.5L273 431.6L273.2 432.5L273.5 432.6L273.8 432.8L274 432.7L274.2 432.4L274.5 431.7L274.8 432.1L275 432.5L275.2 432.8L275.5 432.9L275.8 432.6L276 432.8L276.2 433.3L276.5 432.5L276.8 431.9L277 431.3L277.2 432.3L277.5 432.7L277.8 432L278 433.4L278.2 431.7L278.5 432L278.8 432.3L279 431.4L279.2 433L279.5 431.8L279.8 431.4L280 431L280.2 432.9L280.5 433.2L280.8 431.6L281 431.3L281.2 432L281.5 432.3L281.8 431.9L282 432.6L282.2 431.5L282.5 433.7L282.8 432.5L283 433L283.2 432L283.5 433L283.8 433.5L284 431.8L284.2 432.4L284.5 433L284.8 432.6L285 431.7L285.2 432L285.5 432.7L285.8 432.5L286 431.8L286.2 432.5L286.5 430.9L286.8 432.3L287 433L287.2 433L287.5 432L287.8 432.5L288 432.5L288.2 432.2L288.5 431.7L288.8 431.2L289 431.8L289.2 431.4L289.5 430.9L289.8 433.1L290 431.2L290.2 431.7L290.5 431.7L290.8 430.9L291 432.4L291.2 430.9L291.5 433.4L291.8 431.1L292 431.5L292.2 432L292.5 432L292.8 432.1L293 432.9L293.2 433.1L293.5 433.7L293.8 431.4L294 433.1L294.2 432.8L294.5 432.1L294.8 431.4L295 433.7L295.2 433.2L295.5 431.1L295.8 433.5L296 432.7L296.2 432.5L296.5 432.9L296.8 431.9L297 432.3L297.2 433L297.5 431.5L297.8 431.4L298 431.1L298.2 432.9L298.5 431.6L298.8 432.1L299 432L299.2 432.8L299.5 432.6L299.8 431.7L300 433.3L300.2 432.9L300.5 432.9L300.8 431.5L301 431.6L301.2 431.8L301.5 432.4L301.8 433.4L302 433.4L302.2 431.7L302.5 432.1L302.8 434L303 434.9L303.2 434.7L303.5 432.3L303.8 430.7L304 432.4L304.2 432.4L304.5 432.4L304.8 432.7L305 432L305.2 432.4L305.5 430.9L305.8 433.6L306 432.3L306.2 432.1L306.5 432.7L306.8 432.1L307 431.8L307.2 432.9L307.5 432.4L307.8 431.8L308 432.8L308.2 432.6L308.5 432.6L308.8 432.1L309 433.1L309.2 431.7L309.5 432.9L309.8 433.4L310 431.6L310.2 432.5L310.5 431L310.8 432.3L311 431.1L311.2 431.3L311.5 432.4L311.8 433.1L312 432.7L312.2 432.1L312.5 431.5L312.8 432.3L313 434.7L313.2 434.1L313.5 430.5L313.8 431.3L314 430.2L314.2 433.1L314.5 431.8L314.8 429.9L315 432L315.2 431.5L315.5 430.7L315.8 431.8L316 433.6L316.2 431L316.5 431.8L316.8 430.4L317 431.8L317.2 433.8L317.5 432.9L317.8 431.6L318 431.9L318.2 433.2L318.5 432.2L318.8 431.9L319 433.1L319.2 432L319.5 431.8L319.8 432.6L320 431.4L320.2 432L320.5 431.8L320.8 432.4L321 432.3L321.2 433.7L321.5 432.8L321.8 432.4L322 432.8L322.2 432.2L322.5 432.5L322.8 432.8L323 432.7L323.2 433.4L323.5 432.8L323.8 431.9L324 432.6L324.2 431.5L324.5 433.7L324.8 431L325 432.3L325.2 432.7L325.5 431.7L325.8 432L326 433.1L326.2 431.5L326.5 433L326.8 432.2L327 432.1L327.2 433.7L327.5 432.9L327.8 432.6L328 432.2L328.2 432.5L328.5 432.2L328.8 433.7L329 432.5L329.2 431.8L329.5 432L329.8 432.6L330 431.6L330.2 431.7L330.5 430.8L330.8 430.3L331 434.4L331.2 432.1L331.5 434.5L331.8 433.1L332 432.8L332.2 431L332.5 432.4L332.8 432.7L333 431.1L333.2 433.5L333.5 434.2L333.8 433.1L334 432.8L334.2 429.9L334.5 435.3L334.8 433.6L335 430.6L335.2 430.7L335.5 431.4L335.8 430.9L336 432.5L336.2 431.2L336.5 432.6L336.8 431.8L337 432L337.2 430.8L337.5 432.7L337.8 432.8L338 431.4L338.2 430.4L338.5 432.5L338.8 430.3L339 431.5L339.2 432.8L339.5 433.6L339.8 432.1L340 432.6L340.2 433.3L340.5 431.6L340.8 432L341 432.6L341.2 433.3L341.5 431.5L341.8 431.5L342 433L342.2 433.2L342.5 431.9L342.8 432.4L343 433L343.2 432.2L343.5 430.9L343.8 432.5L344 433L344.2 431.4L344.5 433.3L344.8 432.1L345 431L345.2 432.5L345.5 431.2L345.8 433.3L346 432.7L346.2 433.6L346.5 431.1L346.8 432.4L347 433.4L347.2 433.2L347.5 432.8L347.8 432.6L348 432.8L348.2 433.1L348.5 433.6L348.8 431L349 431.6L349.2 431.9L349.5 432.5L349.8 432.6L350 432.1L350.2 432.3L350.5 432.9L350.8 433.2L351 431.7L351.2 432.1L351.5 432.4L351.8 433.7L352 431.8L352.2 432.5L352.5 432.3L352.8 432L353 433L353.2 432.2L353.5 431.9L353.8 432.4L354 432.5L354.2 431.8L354.5 431.8L354.8 433.1L355 431.9L355.2 433L355.5 432.2L355.8 431.7L356 431.5L356.2 431L356.5 432.8L356.8 432.7L357 432L357.2 431.5L357.5 431.9L357.8 432.4L358 433.2L358.2 431.8L358.5 431L358.8 432.4L359 432L359.2 431.6L359.5 430.9L359.8 432.6L360 433.2L360.2 431.5L360.5 431.1L360.8 431.8L361 432L361.2 432.6L361.5 432.3L361.8 431L362 432.4L362.2 432.4L362.5 431.8L362.8 432.4L363 431.2L363.2 431.9L363.5 431.2L363.8 432.2L364 432.7L364.2 430.9L364.5 432.2L364.8 432.7L365 432.4L365.2 433.4L365.5 432.1L365.8 433.7L366 432.3L366.2 431.3L366.5 432.1L366.8 431.7L367 433.1L367.2 433.4L367.5 433.5L367.8 432.8L368 432.1L368.2 431.8L368.5 431.4L368.8 432.7L369 431.3L369.2 432L369.5 432.4L369.8 432.6L370 431.2L370.2 431.3L370.5 431.4L370.8 432.9L371 431.4L371.2 431.6L371.5 432.7L371.8 432.9L372 433.6L372.2 432.2L372.5 432.9L372.8 431L373 432.7L373.2 432.9L373.5 433L373.8 431.9L374 433.3L374.2 433.5L374.5 432.3L374.8 432.3L375 432L375.2 432.1L375.5 432.3L375.8 431.4L376 431.3L376.2 432.1L376.5 431.9L376.8 433L377 432.1L377.2 431.6L377.5 431L377.8 432L378 431.5L378.2 431L378.5 433.7L378.8 430.9L379 433.5L379.2 433.7L379.5 432.4L379.8 432L380 432.8L380.2 431.6L380.5 432.4L380.8 432.9L381 431.4L381.2 433.4L381.5 432.4L381.8 432.5L382 433.3L382.2 431.3L382.5 431.4L382.8 432.5L383 432.6L383.2 432.1L383.5 432.2L383.8 432.1L384 431.6L384.2 431.4L384.5 431.8L384.8 432.4L385 432.6L385.2 431.4L385.5 433.6L385.8 433.7L386 432.5L386.2 431.7L386.5 432.2L386.8 432.9L387 432.2L387.2 433.7L387.5 432.1L387.8 433L388 432.6L388.2 433.7L388.5 432.6L388.8 432.6L389 431.7L389.2 432.1L389.5 431.3L389.8 433.7L390 432.3L390.2 432.2L390.5 432.3L390.8 432.6L391 432.7L391.2 431L391.5 433.2L391.8 432.4L392 432.3L392.2 433.6L392.5 432.5L392.8 431.7L393 431.7L393.2 432.9L393.5 432.4L393.8 432.4L394 431.4L394.2 432.4L394.5 431.8L394.8 431.7L395 433.3L395.2 432.5L395.5 432.1L395.8 433L396 433.7L396.2 431.2L396.5 433L396.8 432.5L397 432.3L397.2 433.3L397.5 432.9L397.8 432L398 433.2L398.2 432.2L398.5 432.3L398.8 431.4L399 432.3L399.2 432.8L399.5 432.1L399.8 432.3L400 433.2L400.2 432.2L400.5 431.9L400.8 433.6L401 431.8L401.2 430.9L401.5 431.4L401.8 432.1L402 431.4L402.2 431.5L402.5 431.9L402.8 432.2L403 432.1L403.2 432.3L403.5 433.1L403.8 433.7L404 433.2L404.2 432.8L404.5 431.8L404.8 432.4L405 431.5L405.2 432.3L405.5 431.5L405.8 433.1L406 433.7L406.2 433L406.5 433.7L406.8 431.5L407 433L407.2 432.2L407.5 432.4L407.8 431.5L408 432.3L408.2 432.2L408.5 431.5L408.8 433.7L409 433.3L409.2 434L409.5 431.5L409.8 431.3L410 430.5L410.2 433.7L410.5 434L410.8 432.3L411 431.1L411.2 432.5L411.5 433.2L411.8 433.2L412 431.9L412.2 434.1L412.5 434.3L412.8 431.1L413 432.8L413.2 432.4L413.5 430.9L413.8 431.8L414 432.5L414.2 433.2L414.5 431.8L414.8 432L415 432.2L415.2 432L415.5 431.3L415.8 432.9L416 432.2L416.2 432.6L416.5 432.8L416.8 432L417 431.6L417.2 431.8L417.5 431.9L417.8 431.7L418 432.1L418.2 431.3L418.5 432L418.8 431.9L419 432.5L419.2 432.7L419.5 433.6L419.8 433.2L420 432.8L420.2 432.3L420.5 432.4L420.8 432.6L421 432.2L421.2 432.4L421.5 431.7L421.8 432.6L422 431.7L422.2 432L422.5 431.9L422.8 433.7L423 432.4L423.2 433.1L423.5 431.4L423.8 432.8L424 432.1L424.2 433L424.5 432.1L424.8 431.5L425 432.9L425.2 432.4L425.5 431.4L425.8 432.3L426 431.7L426.2 432.9L426.5 432.4L426.8 432.6L427 431.7L427.2 433.3L427.5 431.9L427.8 432.6L428 432.2L428.2 432.4L428.5 431.5L428.8 432.4L429 432.6L429.2 431.4L429.5 433.1L429.8 431.6L430 432L430.2 431.9L430.5 433.2L430.8 432L431 432L431.2 432.6L431.5 432.5L431.8 433.2L432 432L432.2 431.9L432.5 431.8L432.8 431.8L433 432.9L433.2 432.7L433.5 432.1L433.8 432.2L434 430.9L434.2 432.9L434.5 432.7L434.8 430.9L435 431.9L435.2 432.3L435.5 433.4L435.8 432.5L436 433.3L436.2 433.5L436.5 432.9L436.8 431.7L437 431.4L437.2 432.1L437.5 432.9L437.8 432.7L438 431.4L438.2 432.9L438.5 431.7L438.8 432.1L439 433.1L439.2 432.4L439.5 432L439.8 431.8L440 432.4L440.2 432.6L440.5 432.2L440.8 431.8L441 432.7L441.2 433L441.5 431.5L441.8 432.8L442 431.9L442.2 432.2L442.5 433.1L442.8 431.5L443 432.3L443.2 433.6L443.5 433.4L443.8 432L444 431.6L444.2 433.3L444.5 432.5L444.8 432.6L445 431.3L445.2 432.4L445.5 431.3L445.8 432.2L446 433.7L446.2 433.3L446.5 433.5L446.8 432.4L447 432.6L447.2 432.1L447.5 433.7L447.8 432L448 431.3L448.2 432L448.5 433.1L448.8 432L449 432.5L449.2 431.3L449.5 431.9L449.8 431.4L450 431.5L450.2 432.1L450.5 432.9L450.8 434.1L451 432.9L451.2 431.2L451.5 431.2L451.8 430.7L452 432.2L452.2 431.2L452.5 432.1L452.8 431L453 434.3L453.2 432L453.5 433.3L453.8 432L454 434.9L454.2 430.5L454.5 433.1L454.8 434.3L455 432.4L455.2 433.7L455.5 432.4L455.8 434L456 432.4L456.2 434.9L456.5 430.4L456.8 433.6L457 431.8L457.2 431.9L457.5 433.3L457.8 431.7L458 431.6L458.2 433.2L458.5 431.1L458.8 432.2L459 433.8L459.2 431.5L459.5 433.9L459.8 431.2L460 432.7L460.2 432.5L460.5 430.9L460.8 433.2L461 431L461.2 433.7L461.5 433.7L461.8 431.9L462 432.4L462.2 432.2L462.5 431.3L462.8 431.7L463 432.3L463.2 432.4L463.5 433.3L463.8 432L464 432L464.2 432.9L464.5 432.9L464.8 432.2L465 432.5L465.2 431.9L465.5 432.3L465.8 430.9L466 431.1L466.2 433L466.5 431.9L466.8 431.6L467 432.7L467.2 433.7L467.5 433.1L467.8 432.7L468 432.4L468.2 433.7L468.5 433.7L468.8 432.6L469 432.2L469.2 432.5L469.5 432.8L469.8 432.3L470 432L470.2 432L470.5 431.3L470.8 432.2L471 432.6L471.2 431.4L471.5 431.7L471.8 433.1L472 431.8L472.2 432.6L472.5 431.5L472.8 430.9L473 432.6L473.2 432.8L473.5 432.5L473.8 432.3L474 433.4L474.2 432.1L474.5 431.7L474.8 432.5L475 433.1L475.2 432.6L475.5 433.1L475.8 433.4L476 431.7L476.2 432.2L476.5 432.1L476.8 432.7L477 431.1L477.2 433L477.5 431.3L477.8 432.6L478 432.1L478.2 432L478.5 432.7L478.8 431.4L479 432.7L479.2 432.1L479.5 431.3L479.8 433L480 431.4L480.2 432.7L480.5 432L480.8 432L481 433.3L481.2 432.5L481.5 432.1L481.8 432.9L482 432L482.2 433.4L482.5 431.8L482.8 432.7L483 431.9L483.2 432.8L483.5 431.7L483.8 432.2L484 432.8L484.2 431.3L484.5 432.1L484.8 432.6L485 431.9L485.2 432L485.5 432.8L485.8 432.9L486 431.1L486.2 431.6L486.5 430.9L486.8 432.2L487 432.7L487.2 431.6L487.5 431.4L487.8 432.5L488 431.8L488.2 433.7L488.5 433.3L488.8 430.9L489 432.7L489.2 432.7L489.5 432.7L489.8 432.2L490 431.2L490.2 432.3L490.5 431.8L490.8 433.5L491 432.6L491.2 433.1L491.5 431.5L491.8 432.2L492 432.1L492.2 431.6L492.5 431.9L492.8 431.1L493 432.3L493.2 431.5L493.5 432.3L493.8 432.5L494 432L494.2 431.7L494.5 432.8L494.8 432.7L495 431.8L495.2 432.9L495.5 430.9L495.8 432.3L496 432.5L496.2 432.1L496.5 431L496.8 432.2L497 432.9L497.2 432.4L497.5 431.2L497.8 432.2L498 433.4L498.2 433.1L498.5 433.3L498.8 432.2L499 432.8L499.2 432.2L499.5 432.2L499.8 431.5L500 432.3L500.2 433L500.5 432.3L500.8 430.9L501 432.7L501.2 431.5L501.5 432.6L501.8 431.7L502 433.4L502.2 432.1L502.5 433L502.8 431.2L503 432.1L503.2 432.4L503.5 431.2L503.8 431.8L504 431.9L504.2 432.3L504.5 432.3L504.8 431.1L505 433.1L505.2 432.7L505.5 431.8L505.8 433L506 432.1L506.2 431.8L506.5 431.3L506.8 430.9L507 432.5L507.2 433.1L507.5 432.7L507.8 432.7L508 433.7L508.2 431.2L508.5 432.8L508.8 433.7L509 432.2L509.2 433.7L509.5 432.1L509.8 431.9L510 430.9L510.2 432.7L510.5 432.9L510.8 432.7L511 432.5L511.2 432.9L511.5 432.2L511.8 431.1L512 432.5L512.2 432.7L512.5 433.7L512.8 432L513 432.4L513.2 431.1L513.5 431.1L513.8 431.5L514 433.4L514.2 432.4L514.5 432.4L514.8 431.9L515 432.5L515.2 433L515.5 432.7L515.8 432.3L516 432.5L516.2 432.6L516.5 432.8L516.8 432.6L517 432.1L517.2 431.3L517.5 432.4L517.8 432.3L518 432.2L518.2 432L518.5 431.5L518.8 433.1L519 431.8L519.2 432.2L519.5 431.9L519.8 431.4L520 432.8L520.2 431.2L520.5 432.3L520.8 432L521 432.3L521.2 431.5L521.5 433L521.8 433.2L522 432.8L522.2 431.9L522.5 431.3L522.8 433.7L523 430.9L523.2 431.4L523.5 432.5L523.8 432.6L524 431.4L524.2 432.6L524.5 431.2L524.8 432.8L525 432.6L525.2 432.3L525.5 433.1L525.8 432.5L526 430.9L526.2 432.9L526.5 432.5L526.8 433L527 432.1L527.2 432.8L527.5 432.1L527.8 432.6L528 433L528.2 431.9L528.5 431.9L528.8 432.4L529 432.9L529.2 432.6L529.5 432.4L529.8 432.8L530 432.6L530.2 431.6L530.5 433.3L530.8 433.2L531 433.1L531.2 431.1L531.5 433.2L531.8 431.5L532 432.3L532.2 432.2L532.5 433.5L532.8 433L533 432.3L533.2 432.7L533.5 431.9L533.8 431.6L534 432.8L534.2 432.9L534.5 432.4L534.8 433.5L535 433.6L535.2 432L535.5 432.5L535.8 432.7L536 431L536.2 433.2L536.5 433.1L536.8 432.7L537 432.4L537.2 432.1L537.5 433.4L537.8 431.9L538 432.7L538.2 432.3L538.5 433.3L538.8 433.4L539 432.5L539.2 432.4L539.5 431.5L539.8 431.6L540 432.6L540.2 432.7L540.5 432.4L540.8 431.5L541 431.7L541.2 430.9L541.5 432.2L541.8 430.9L542 430.9L542.2 431.6L542.5 432.9L542.8 431.4L543 432.7L543.2 433.6L543.5 432.7L543.8 432.6L544 431.3L544.2 432L544.5 431L544.8 432.6L545 432.6L545.2 433.2L545.5 432.2L545.8 432.4L546 431.6L546.2 432.5L546.5 433.1L546.8 432.6L547 432.8L547.2 432.3L547.5 432.6L547.8 432.3L548 431.6L548.2 432.2L548.5 432.8L548.8 432.5L549 432.2L549.2 431.6L549.5 432.6L549.8 431.9L550 432.1L550.2 432.7L550.5 433L550.8 431.9L551 432L551.2 432.8L551.5 432.1L551.8 433.5L552 433L552.2 432.3L552.5 431.5L552.8 432.9L553 432.4L553.2 431.2L553.5 431.6L553.8 432.2L554 432.8L554.2 430.9L554.5 432.2L554.8 432.4L555 433.7L555.2 432.4L555.5 432.4L555.8 432.2L556 432.5L556.2 432.7L556.5 432.1L556.8 432.6L557 433.6L557.2 432.1L557.5 432.7L557.8 433.6L558 431.7L558.2 432.2L558.5 431.8L558.8 432.9L559 433.1L559.2 432.6L559.5 432.2L559.8 432.2L560 432.4L560.2 433.1L560.5 432.5L560.8 433.4L561 433.7L561.2 432.1L561.5 433.5L561.8 433.2L562 432.3L562.2 430.9L562.5 431.6L562.8 432.8L563 431L563.2 433.2L563.5 431.7L563.8 432.5L564 431.8L564.2 432L564.5 432.4L564.8 431.4L565 432.1L565.2 431.9L565.5 432.8L565.8 431.5L566 433.7L566.2 433.5L566.5 431.4L566.8 431.3L567 431.9L567.2 432.5L567.5 432.7L567.8 432.7L568 432.9L568.2 432.2L568.5 431.4L568.8 431.6L569 432L569.2 431.7L569.5 433.7L569.8 432L570 433.2L570.2 432.8L570.5 431.7L570.8 431.3L571 432L571.2 432.5L571.5 432L571.8 433.1L572 431.8L572.2 431.8L572.5 432.5L572.8 433.7L573 432.9L573.2 433.6L573.5 432L573.8 433.1L574 432.7L574.2 433.7L574.5 432.1L574.8 432.5L575 431.7L575.2 431.5L575.5 432.9L575.8 432.8L576 431.7L576.2 433.1L576.5 432.3L576.8 432.4L577 433.7L577.2 433L577.5 433.2L577.8 433.6L578 432.7L578.2 432.2L578.5 433.5L578.8 433.7L579 431.4L579.2 431.9L579.5 431.9L579.8 431.9L580 433.4L580.2 432.3L580.5 432.3L580.8 432.6L581 432.9L581.2 432.5L581.5 432.8L581.8 431.5L582 432.6L582.2 431.9L582.5 432.4L582.8 433.4L583 432.7L583.2 432.4L583.5 433.4L583.8 433.7L584 432.9L584.2 431.9L584.5 433.5L584.8 432.5L585 431.8L585.2 432.8L585.5 431.9L585.8 432L586 431.5L586.2 431.6L586.5 432.8L586.8 430.9L587 432.7L587.2 432.9L587.5 432.8L587.8 432.2L588 431.4L588.2 432.2L588.5 432.7L588.8 433.2L589 432.3L589.2 430.9L589.5 431.7L589.8 431.5L590 432.7L590.2 432.5L590.5 432.3L590.8 432.1L591 430.9L591.2 432L591.5 432.9L591.8 431.5L592 431.6L592.2 431.2L592.5 431.9L592.8 432.4L593 430.9L593.2 432.4L593.5 431.5L593.8 433.7L594 431.9L594.2 432.5L594.5 430.9L594.8 432.9L595 432.3L595.2 431.9L595.5 433.3L595.8 432.1L596 431.9L596.2 433.3L596.5 431.9L596.8 432.7L597 431.8L597.2 431.5L597.5 433.4L597.8 432.5L598 433L598.2 432.9L598.5 432.3L598.8 432.6L599 431.9L599.2 431.9L599.5 432.5L599.8 430.9L600 432.2L600.2 431.5L600.5 432.2L600.8 431.5L601 433.2L601.2 432.7L601.5 431.8L601.8 432.7L602 430.9L602.2 431.2L602.5 432.7L602.8 433.5L603 432.2L603.2 432.8L603.5 432.4L603.8 433.5L604 431.9L604.2 431.1L604.5 431.7L604.8 432.3L605 432.7L605.2 431.8L605.5 433.1L605.8 431.2L606 432.4L606.2 431.5L606.5 432L606.8 431.9L607 433.1L607.2 433.4L607.5 430.9L607.8 432L608 432.5L608.2 431.6L608.5 432.2L608.8 432.2L609 432.8L609.2 431.7L609.5 432.9L609.8 432.1L610 432.3L610.2 431.8L610.5 432.2L610.8 432.4L611 433.7L611.2 433L611.5 432.6L611.8 432.4L612 431.8L612.2 433.1L612.5 431.5L612.8 431.8L613 432.9L613.2 431.9L613.5 431.6L613.8 433.7L614 431.6L614.2 432.1L614.5 431.3L614.8 432.4L615 433.1L615.2 433.7L615.5 433.3L615.8 432.7L616 432.3L616.2 433.2L616.5 432.3L616.8 432.8L617 431.3L617.2 432.8L617.5 431.4L617.8 432.1L618 431.1L618.2 431.5L618.5 433.4L618.8 432.6L619 431.6L619.2 433.2L619.5 430.9L619.8 432.3L620 431.4L620.2 432.8L620.5 433L620.8 432.1L621 432L621.2 431.8L621.5 433.1L621.8 432.5L622 433.7L622.2 432.6L622.5 432.5L622.8 431.6L623 431.6L623.2 432.8L623.5 432.1L623.8 433.1L624 432.8L624.2 431.9L624.5 432L624.8 433.1L625 433L625.2 433L625.5 431.7L625.8 432.5L626 431.8L626.2 433.7L626.5 432.1L626.8 432.4L627 432.2L627.2 431.7L627.5 432.8L627.8 432L628 432.4L628.2 432.7L628.5 432.4L628.8 432.1L629 432.8L629.2 432.4L629.5 431.5L629.8 430.9L630 431.4L630.2 432.4L630.5 433.2L630.8 431.8L631 432.4L631.2 431.5L631.5 432.8L631.8 433.5L632 431.6L632.2 432.3L632.5 433.7L632.8 431.9L633 431.7L633.2 432.3L633.5 432.5L633.8 432.1L634 432.3L634.2 433.1L634.5 431.6L634.8 433.1L635 431.9L635.2 433L635.5 433.2L635.8 432.4L636 432L636.2 431.5L636.5 431.3L636.8 432.8L637 431.1L637.2 432.3L637.5 432L637.8 433L638 431.9L638.2 433.2L638.5 432.2L638.8 433.7L639 432L639.2 432L639.5 431.6L639.8 433.1L640 432L640.2 433L640.5 432L640.8 431.3L641 433.3L641.2 433.1L641.5 432L641.8 433L642 430.9L642.2 432.8L642.5 432.1L642.8 432.5L643 432.1L643.2 432.4L643.5 432.1L643.8 431.9L644 432.2L644.2 432.4L644.5 432.9L644.8 432.4L645 431.8L645.2 432.2L645.5 432L645.8 433.6L646 431.4L646.2 432.4L646.5 431.5L646.8 432.7L647 431.9L647.2 432.3L647.5 431.9L647.8 432.9L648 433.2L648.2 432.7L648.5 432.9L648.8 432.6L649 430.9L649.2 431.5L649.5 432.5" fill="none" stroke="#0000ff" stroke-width="0.3" stroke-linejoin="bevel"/><path d="M247.2 344.4V506M247.4 416.7V440M261 390.7V451M335.6 396.6V487.7M335.8 422V440M367.2 422.7V439.6M417.6 410V445M456.5 422V433.7M595.2 424.5V442.8M72.3 427V438.7M197.8 423.6V436M208 425V437M91.5 426V439M412 427V437M89.8 427V438" fill="none" stroke="#0000ff" stroke-width="0.5"/>
<path d="M47 725.4L47.2 793.5L47.3 724.5L47.5 724.4L47.7 756.9L47.8 680.7L48 673.2L48.1 701L48.3 680.4L48.5 653.5L48.6 679.4L48.8 695.6L49 704.3L49.1 643.1L49.3 673.9L49.4 757.5L49.6 765.6L49.8 678.1L49.9 700.9L50.1 669.2L50.3 657.3L50.4 663L50.6 691.9L50.7 739.4L50.9 737.2L51.1 709.6L51.2 693.7L51.4 700.2L51.6 708.5L51.7 721.6L51.9 692.7L52 697.8L52.2 701L52.4 704.2L52.5 712.8L52.7 723.4L52.9 742.7L53 726.2L53.2 744.3L53.4 705L53.5 689.7L53.7 706.2L53.8 717.1L54 725.1L54.2 750.8L54.3 749.6L54.5 724.3L54.7 698.6L54.8 710.4L55 743.6L55.1 711.3L55.3 665L55.5 670.1L55.6 692.4L55.8 730.6L56 730L56.1 772.5L56.3 743.3L56.4 709.9L56.6 701.4L56.8 726.9L56.9 698.6L57.1 682.7L57.3 714.3L57.4 721L57.6 741L57.8 686.2L57.9 619.4L58.1 683.8L58.2 665.3L58.4 755.6L58.6 778L58.7 696.5L58.9 644.5L59.1 651.8L59.2 718.5L59.4 700.1L59.5 677.8L59.7 711.9L59.9 782.6L60 748.8L60.2 744.7L60.4 753.2L60.5 763.1L60.7 747.5L60.8 687.4L61 680L61.2 665.9L61.3 682.4L61.5 733L61.7 697.7L61.8 688.5L62 672.1L62.1 684.2L62.3 721.4L62.5 691.9L62.6 688L62.8 721.8L63 735.1L63.1 738.6L63.3 700.4L63.5 653.2L63.6 713L63.8 737.7L63.9 734.8L64.1 711.6L64.3 766.9L64.4 696L64.6 716.5L64.8 708.3L64.9 697.1L65.1 723.3L65.2 680.8L65.4 619L65.6 649.4L65.7 729.1L65.9 765.4L66.1 678.8L66.2 703.6L66.4 755.5L66.5 733.5L66.7 685.1L66.9 640.1L67 629L67.2 661.3L67.4 665.3L67.5 619L67.7 634.7L67.8 694.5L68 687.9L68.2 674.2L68.3 678L68.5 684.7L68.7 739.5L68.8 779.9L69 786.5L69.2 750.2L69.3 745.3L69.5 768.6L69.6 780L69.8 771.9L70 746.2L70.1 683.1L70.3 661.4L70.5 714.8L70.6 708.7L70.8 694.8L70.9 668.9L71.1 673.2L71.3 735.6L71.4 719.7L71.6 682.8L71.8 708.8L71.9 719.7L72.1 738L72.2 766.3L72.4 710.9L72.6 671.7L72.7 690.7L72.9 692.6L73.1 714.9L73.2 716.3L73.4 710.4L73.5 696.1L73.7 706.6L73.9 698.9L74 711L74.2 692.9L74.4 679.3L74.5 703.3L74.7 701.5L74.9 736.3L75 728.1L75.2 719L75.3 709.6L75.5 687.4L75.7 657.9L75.8 710.4L76 700.8L76.2 716.2L76.3 695.6L76.5 695.4L76.6 691.5L76.8 678.6L77 696.9L77.1 711.1L77.3 690L77.5 669.9L77.6 685L77.8 713.8L77.9 736.9L78.1 732.4L78.3 709.7L78.4 690.4L78.6 718L78.8 709.4L78.9 705.3L79.1 726.9L79.3 727.3L79.4 711.9L79.6 678.3L79.7 672.1L79.9 664.1L80.1 697.6L80.2 712.5L80.4 726.6L80.6 712.9L80.7 711.7L80.9 741.8L81 686.8L81.2 663.9L81.4 685.5L81.5 709.7L81.7 697.2L81.9 684.8L82 686.3L82.2 725.7L82.3 693.1L82.5 675L82.7 688.8L82.8 683.7L83 702.7L83.2 730.4L83.3 703L83.5 697.6L83.6 694.2L83.8 703.1L84 726L84.1 720.3L84.3 693.6L84.5 679.1L84.6 700.6L84.8 723.1L85 709.1L85.1 688.3L85.3 667.4L85.4 704.5L85.6 666.6L85.8 660.1L85.9 686.4L86.1 702.9L86.3 700.3L86.4 684.1L86.6 687L86.7 674.4L86.9 654.5L87.1 680.2L87.2 688.9L87.4 708.5L87.6 710.9L87.7 731.6L87.9 734.6L88 739.7L88.2 744.8L88.4 728.5L88.5 715.2L88.7 729L88.9 691.6L89 703.1L89.2 722.8L89.3 708.9L89.5 713.8L89.7 686.3L89.8 689.5L90 718.9L90.2 734.4L90.3 738.2L90.5 713.7L90.7 715.8L90.8 725.4L91 710.9L91.1 671.6L91.3 691.4L91.5 726.7L91.6 689L91.8 707.6L92 706L92.1 720.5L92.3 692.9L92.4 684.6L92.6 653.6L92.8 696.2L92.9 719.8L93.1 683.7L93.3 717.6L93.4 695L93.6 676.8L93.7 642.4L93.9 704L94.1 686.5L94.2 674.7L94.4 660.8L94.6 678.5L94.7 721.9L94.9 707L95.1 721.8L95.2 709.4L95.4 708L95.5 697.5L95.7 731L95.9 778L96 744.4L96.2 718.6L96.4 703.9L96.5 736.8L96.7 733.7L96.8 661L97 672.4L97.2 750.7L97.3 732.3L97.5 715.3L97.7 728.1L97.8 742.7L98 731.4L98.1 720.5L98.3 754.9L98.5 713.7L98.6 678.4L98.8 683L99 694.2L99.1 692.7L99.3 699.4L99.4 686.8L99.6 621.7L99.8 669L99.9 725.5L100.1 719.6L100.3 688.1L100.4 693.1L100.6 724.6L100.8 703.1L100.9 703.5L101.1 736L101.2 712.2L101.4 715.4L101.6 707.8L101.7 699.7L101.9 682.2L102.1 690.8L102.2 716.8L102.4 692.1L102.5 696.8L102.7 683.4L102.9 693.7L103 694L103.2 682.1L103.4 714.5L103.5 713.2L103.7 719.1L103.8 699.5L104 726.3L104.2 748.1L104.3 716.2L104.5 697.3L104.7 709.7L104.8 708L105 701.1L105.1 698.7L105.3 696.5L105.5 706.6L105.6 696L105.8 692.5L106 712.9L106.1 719L106.3 747L106.5 710.1L106.6 687.9L106.8 693L106.9 704.4L107.1 687L107.3 686.4L107.4 721.1L107.6 698.8L107.8 727.6L107.9 710L108.1 693.9L108.2 731.2L108.4 704.3L108.6 681.6L108.7 707.8L108.9 738.7L109.1 735L109.2 741.3L109.4 754.4L109.5 725.5L109.7 713.8L109.9 690.4L110 663.6L110.2 701.9L110.4 732.9L110.5 681.4L110.7 729.5L110.8 715.4L111 681.4L111.2 713.8L111.3 751.4L111.5 710.2L111.7 732.5L111.8 736.9L112 693.5L112.2 720L112.3 721.8L112.5 701.2L112.6 717.4L112.8 694.7L113 673.2L113.1 666.3L113.3 701.1L113.5 690.4L113.6 674.4L113.8 654.6L113.9 648.6L114.1 676.6L114.3 711.5L114.4 699.9L114.6 741.1L114.8 728.8L114.9 702.3L115.1 689.1L115.2 735.2L115.4 686.2L115.6 720.2L115.7 750.3L115.9 707.1L116.1 685.8L116.2 705.7L116.4 736.4L116.6 747.9L116.7 720.8L116.9 679L117 682.9L117.2 695.7L117.4 675.3L117.5 705.5L117.7 745.7L117.9 703.6L118 716.8L118.2 689.4L118.3 690.5L118.5 690.9L118.7 670.8L118.8 700.8L119 736.3L119.2 732.7L119.3 718.9L119.5 690.7L119.6 697.4L119.8 712.2L120 729L120.1 731.3L120.3 702.6L120.5 732.9L120.6 707.7L120.8 689.2L120.9 676L121.1 693.5L121.3 690.9L121.4 674L121.6 690.8L121.8 702.5L121.9 701.4L122.1 712.1L122.3 693L122.4 715.9L122.6 708.6L122.7 699.3L122.9 667.6L123.1 694.8L123.2 710L123.4 716.7L123.6 693.8L123.7 719.3L123.9 698.4L124 729.7L124.2 720.6L124.4 706L124.5 738.8L124.7 691.5L124.9 694.3L125 711.2L125.2 718.5L125.3 717.8L125.5 726L125.7 719.6L125.8 702.1L126 682.7L126.2 697L126.3 713.9L126.5 686.3L126.6 686.5L126.8 657.8L127 666.8L127.1 673.9L127.3 708.9L127.5 672.6L127.6 692.5L127.8 722.1L128 726.7L128.1 731.3L128.3 734.8L128.4 726.5L128.6 724.9L128.8 708.5L128.9 692.2L129.1 667.5L129.3 704.9L129.4 728.2L129.6 688.7L129.7 674.4L129.9 706.2L130.1 738.4L130.2 729L130.4 681.8L130.6 700L130.7 694.4L130.9 690.6L131 660.1L131.2 707.4L131.4 703.1L131.5 705.2L131.7 694.1L131.9 681.9L132 706.2L132.2 691.4L132.4 688.8L132.5 715L132.7 702.1L132.8 693.5L133 718.1L133.2 696.6L133.3 704.7L133.5 729.2L133.7 741.6L133.8 752.6L134 753.5L134.1 711.7L134.3 697.5L134.5 747.7L134.6 746.7L134.8 712.1L135 716L135.1 689.8L135.3 673.3L135.4 719.8L135.6 720.2L135.8 721L135.9 752.9L136.1 743.6L136.3 692.3L136.4 662.7L136.6 654.7L136.7 689.3L136.9 698.3L137.1 710.1L137.2 702.7L137.4 686.9L137.6 680.1L137.7 674.5L137.9 718.3L138.1 704.9L138.2 710.4L138.4 693.8L138.5 705.9L138.7 718L138.9 696.5L139 699.6L139.2 753.7L139.4 720.9L139.5 716.5L139.7 700.9L139.8 694.2L140 735.1L140.2 727.3L140.3 698.6L140.5 649.7L140.7 700.6L140.8 731.3L141 717.5L141.1 712.3L141.3 737.3L141.5 725.4L141.6 730.5L141.8 745.1L142 729.1L142.1 680L142.3 696.8L142.4 671.1L142.6 648.1L142.8 682.7L142.9 658.5L143.1 660.3L143.3 630.5L143.4 657.2L143.6 685.5L143.8 697L143.9 685.2L144.1 673.1L144.2 688.2L144.4 729.3L144.6 703.6L144.7 711.4L144.9 732.3L145.1 667.7L145.2 646.4L145.4 669.9L145.5 684.4L145.7 680.4L145.9 696.8L146 694.2L146.2 677.4L146.4 691.7L146.5 684.4L146.7 710L146.8 722.3L147 745L147.2 727.1L147.3 706.6L147.5 709.4L147.7 704.7L147.8 686.8L148 683.6L148.1 721.4L148.3 730.3L148.5 703L148.6 696L148.8 700.3L149 723.1L149.1 723.6L149.3 694.8L149.5 692.4L149.6 695.2L149.8 708.8L149.9 722.8L150.1 724.1L150.3 700.2L150.4 689.2L150.6 711.4L150.8 715.4L150.9 702.2L151.1 707.3L151.2 716.2L151.4 722.4L151.6 713.1L151.7 714.6L151.9 705L152.1 691.3L152.2 712.8L152.4 716.3L152.5 718.4L152.7 683.5L152.9 685.7L153 696.6L153.2 671.6L153.4 688.9L153.5 692.2L153.7 691.9L153.9 683.5L154 658.4L154.2 692.3L154.3 712.5L154.5 734.7L154.7 741.9L154.8 725.8L155 710.7L155.2 665.3L155.3 707.6L155.5 735L155.6 729.8L155.8 712.2L156 696.6L156.1 695.2L156.3 705.3L156.5 716.5L156.6 717.7L156.8 698.5L156.9 689.9L157.1 727.8L157.3 682.4L157.4 655.2L157.6 722.6L157.8 733.7L157.9 719.8L158.1 727.1L158.2 713.9L158.4 691.5L158.6 694.6L158.7 677.3L158.9 679.5L159.1 684.7L159.2 708.6L159.4 722.3L159.6 700.8L159.7 697.2L159.9 659.4L160 674.2L160.2 714.2L160.4 731.8L160.5 734.8L160.7 721.3L160.9 675.6L161 669.5L161.2 649.9L161.3 687.6L161.5 706.1L161.7 693.7L161.8 686.7L162 710.6L162.2 718.2L162.3 706.6L162.5 693.6L162.6 702.2L162.8 708L163 713.9L163.1 718.1L163.3 699.1L163.5 674.3L163.6 692.7L163.8 707.5L163.9 699.3L164.1 702.1L164.3 700.2L164.4 729.1L164.6 721.1L164.8 714L164.9 724.6L165.1 724.4L165.3 716.6L165.4 728.6L165.6 724.6L165.7 712.6L165.9 699.2L166.1 683.5L166.2 702.7L166.4 704.1L166.6 697L166.7 726.8L166.9 706.1L167 680.2L167.2 689.2L167.4 700.8L167.5 698.7L167.7 688.5L167.9 691.4L168 672.1L168.2 689.3L168.3 706.6L168.5 697.2L168.7 718.7L168.8 721.5L169 681.9L169.2 655.9L169.3 716.3L169.5 728.3L169.7 680.8L169.8 700.9L170 702.4L170.1 669.2L170.3 690.9L170.5 728.9L170.6 717.4L170.8 713.9L171 725.5L171.1 688.7L171.3 672.3L171.4 717L171.6 697.3L171.8 707.4L171.9 730.7L172.1 719.1L172.3 706.8L172.4 697.7L172.6 726.6L172.7 749.2L172.9 700.6L173.1 682.2L173.2 700.8L173.4 694.1L173.6 704L173.7 709.7L173.9 716.2L174 713.9L174.2 719.6L174.4 725.3L174.5 695.4L174.7 703.2L174.9 705.3L175 681.1L175.2 681.2L175.4 692.4L175.5 700.6L175.7 722.8L175.8 728.5L176 753.8L176.2 712.6L176.3 710L176.5 738.8L176.7 718.6L176.8 723.8L177 662.3L177.1 686.6L177.3 733.3L177.5 741.1L177.6 718.1L177.8 696.8L178 704.3L178.1 719.8L178.3 720L178.4 720L178.6 702.9L178.8 723.3L178.9 748.6L179.1 770.5L179.3 739.1L179.4 718.3L179.6 687.8L179.7 664.9L179.9 659.3L180.1 713.7L180.2 747L180.4 702L180.6 658.5L180.7 694.4L180.9 701.4L181.1 708.6L181.2 749L181.4 754.1L181.5 742.3L181.7 701.9L181.9 702.6L182 692.4L182.2 718.5L182.4 697.9L182.5 731.6L182.7 724.7L182.8 704.4L183 678.2L183.2 700.7L183.3 655.7L183.5 652.5L183.7 689.1L183.8 757.5L184 722.3L184.1 694L184.3 737.1L184.5 779L184.6 714.7L184.8 665.9L185 665.4L185.1 711.1L185.3 755.6L185.4 716.3L185.6 690.5L185.8 666L185.9 674.3L186.1 731.2L186.3 730.5L186.4 710.5L186.6 676L186.8 714.4L186.9 734.3L187.1 761.9L187.2 747.6L187.4 712.1L187.6 716.7L187.7 717.5L187.9 699.8L188.1 690.2L188.2 740.7L188.4 770.2L188.5 733.5L188.7 743.8L188.9 708.1L189 695.8L189.2 701.3L189.4 706L189.5 733.9L189.7 721.3L189.8 663.8L190 709.7L190.2 730.2L190.3 738.5L190.5 699.5L190.7 710.5L190.8 735.2L191 738.3L191.2 734.8L191.3 696.5L191.5 693L191.6 705.5L191.8 687.8L192 711.2L192.1 725.2L192.3 709.4L192.5 683.1L192.6 688.7L192.8 700L192.9 711.7L193.1 709.3L193.3 692.4L193.4 670.1L193.6 666.2L193.8 677.6L193.9 682.7L194.1 686.5L194.2 685.8L194.4 695.3L194.6 696.1L194.7 704.8L194.9 708L195.1 708.9L195.2 689.4L195.4 682.6L195.5 684.9L195.7 704.2L195.9 720.7L196 725.5L196.2 711.5L196.4 706.5L196.5 714.8L196.7 702.6L196.9 692.3L197 709.5L197.2 694.4L197.3 678L197.5 690.3L197.7 689.8L197.8 696.1L198 690.5L198.2 692.1L198.3 691.6L198.5 702.1L198.6 715.3L198.8 711.9L199 711.4L199.1 715.8L199.3 685.6L199.5 706.5L199.6 731.2L199.8 728.8L199.9 724.5L200.1 699.5L200.3 717.8L200.4 704.1L200.6 725.2L200.8 722.4L200.9 719.5L201.1 691.7L201.2 682.5L201.4 664.7L201.6 705.3L201.7 726.5L201.9 726.3L202.1 738.1L202.2 728.5L202.4 717L202.6 716.1L202.7 703.6L202.9 726.5L203 722.1L203.2 715.6L203.4 701.2L203.5 684L203.7 676.3L203.9 697.9L204 709.3L204.2 668L204.3 723.8L204.5 798L204.7 739.9L204.8 708.9L205 716.4L205.2 709.1L205.3 712.1L205.5 706.5L205.6 693.9L205.8 736.2L206 734.9L206.1 744.1L206.3 733.1L206.5 742.1L206.6 746.8L206.8 798L206.9 780.8L207.1 758.3L207.3 707.9L207.4 664.4L207.6 693.8L207.8 724.9L207.9 715.2L208.1 690.3L208.3 675.1L208.4 666.4L208.6 693.3L208.7 730.4L208.9 740L209.1 732.4L209.2 712L209.4 713.7L209.6 714.6L209.7 723.5L209.9 725.7L210 727L210.2 709.8L210.4 716.7L210.5 754.4L210.7 736L210.9 666.3L211 702.9L211.2 724.8L211.3 714.2L211.5 647.4L211.7 645.9L211.8 683.4L212 696L212.2 686.3L212.3 729.5L212.5 739.8L212.7 731.4L212.8 719.2L213 682.5L213.1 677.3L213.3 658L213.5 717.1L213.6 737.2L213.8 713L214 685L214.1 704L214.3 716.2L214.4 685.3L214.6 705.1L214.8 715.2L214.9 688.8L215.1 694.8L215.3 729.8L215.4 736L215.6 740L215.7 712.6L215.9 685.4L216.1 693.3L216.2 689.4L216.4 698.2L216.6 722.7L216.7 740.8L216.9 729.8L217 737.6L217.2 687.7L217.4 692.8L217.5 690.9L217.7 648.7L217.9 653.8L218 688.1L218.2 708.6L218.4 716.4L218.5 708.2L218.7 690.2L218.8 673.2L219 708.2L219.2 745.2L219.3 721.9L219.5 694L219.7 707L219.8 725L220 733.5L220.1 705.4L220.3 717.4L220.5 720L220.6 702.2L220.8 698.8L221 696.2L221.1 706.3L221.3 704.1L221.4 679.3L221.6 704.8L221.8 739.2L221.9 703.4L222.1 673.9L222.3 724.3L222.4 711.7L222.6 711.8L222.7 716.2L222.9 694L223.1 676.3L223.2 685.2L223.4 707L223.6 705.6L223.7 713.6L223.9 751.4L224.1 731.1L224.2 741.4L224.4 757.4L224.5 719.8L224.7 697.3L224.9 699.3L225 718.3L225.2 750L225.4 737.5L225.5 705.3L225.7 698.4L225.8 728.9L226 743.5L226.2 715.3L226.3 736.6L226.5 722.6L226.7 707.6L226.8 698.2L227 689.5L227.1 701.2L227.3 720.5L227.5 683.9L227.6 689.7L227.8 696.6L228 680.7L228.1 681.5L228.3 678.9L228.5 714.8L228.6 715.3L228.8 690.8L228.9 721.1L229.1 681.9L229.3 647.8L229.4 658.5L229.6 688.9L229.8 656.5L229.9 689.3L230.1 716.6L230.2 726.9L230.4 712.3L230.6 726.8L230.7 710.2L230.9 716.8L231.1 690.7L231.2 703.1L231.4 701L231.5 723.2L231.7 760.1L231.9 721.7L232 707.4L232.2 711.3L232.4 698.1L232.5 658.1L232.7 697L232.8 661.2L233 644.3L233.2 682.8L233.3 675.8L233.5 710.1L233.7 735.8L233.8 706.3L234 679.6L234.2 715.9L234.3 760.4L234.5 737.1L234.6 764.3L234.8 748.7L235 692.2L235.1 708.9L235.3 681.3L235.5 714L235.6 723.1L235.8 692L235.9 658.5L236.1 679.9L236.3 697L236.4 714.3L236.6 710.9L236.8 715.3L236.9 687.7L237.1 659.5L237.2 702L237.4 734.1L237.6 685.1L237.7 656.1L237.9 660.9L238.1 729.2L238.2 699.7L238.4 724.8L238.5 715.7L238.7 703L238.9 719.7L239 765.4L239.2 765.8L239.4 727.2L239.5 708.8L239.7 743.3L239.9 733.8L240 716.6L240.2 712.7L240.3 695.3L240.5 715.3L240.7 701.9L240.8 688.9L241 676.1L241.2 702L241.3 705.1L241.5 675.6L241.6 705L241.8 726L242 745L242.1 735L242.3 707.5L242.5 731L242.6 722.4L242.8 698.7L242.9 693.1L243.1 723.7L243.3 724.2L243.4 702.5L243.6 706.1L243.8 694.3L243.9 682.6L244.1 686.8L244.2 713L244.4 715.9L244.6 714.4L244.7 711.2L244.9 711.8L245.1 712.5L245.2 686L245.4 704.3L245.6 689.1L245.7 696.5L245.9 705.6L246 707.7L246.2 707.6L246.4 700.8L246.5 731.2L246.7 731.2L246.9 720.7L247 716L247.2 694L247.3 669.5L247.5 675.7L247.7 692.9L247.8 674.3L248 718.1L248.2 713.8L248.3 689.6L248.5 684.4L248.6 676.8L248.8 696.9L249 715.4L249.1 719.1L249.3 695L249.5 716.4L249.6 712.7L249.8 704.2L250 706.3L250.1 719.7L250.3 744.3L250.4 742.8L250.6 722.2L250.8 694.8L250.9 701.3L251.1 720.9L251.3 711.6L251.4 702.2L251.6 746.2L251.7 760.7L251.9 725.5L252.1 701.1L252.2 697.1L252.4 679L252.6 678.5L252.7 703L252.9 707.5L253 737.8L253.2 768.8L253.4 730.9L253.5 708.9L253.7 711.1L253.9 723.4L254 737.5L254.2 722.7L254.3 717.4L254.5 685.7L254.7 681.1L254.8 702.4L255 717.3L255.2 701.5L255.3 720.2L255.5 697.4L255.7 704.5L255.8 715.6L256 730.1L256.1 693.2L256.3 684.2L256.5 701L256.6 722L256.8 716.3L257 684.4L257.1 679.4L257.3 689.1L257.4 731.9L257.6 726.2L257.8 708.8L257.9 674.2L258.1 698.2L258.3 708.6L258.4 713.5L258.6 691.5L258.7 725.9L258.9 728.7L259.1 715.1L259.2 700.6L259.4 736.1L259.6 724.1L259.7 715.3L259.9 709.4L260 705L260.2 711.1L260.4 718.2L260.5 731.3L260.7 720.4L260.9 700.6L261 714L261.2 724L261.4 702.7L261.5 710.4L261.7 731.7L261.8 720.9L262 705.9L262.2 723.3L262.3 735.2L262.5 729.7L262.7 728.4L262.8 739.9L263 695.5L263.1 712.2L263.3 719.6L263.5 689.9L263.6 683L263.8 690.1L264 707.2L264.1 711.6L264.3 729.3L264.4 737.6L264.6 704.3L264.8 710.2L264.9 705.2L265.1 660.8L265.3 674.7L265.4 656.1L265.6 665.6L265.8 683.7L265.9 722.2L266.1 692.7L266.2 688.7L266.4 718.6L266.6 695.7L266.7 675L266.9 731.5L267.1 738L267.2 689.7L267.4 649.8L267.5 663L267.7 685.5L267.9 734.3L268 703.2L268.2 729.2L268.4 746.9L268.5 724.9L268.7 725.6L268.8 748.1L269 723.3L269.2 676.6L269.3 701.1L269.5 646.9L269.7 673.9L269.8 704.2L270 668.8L270.1 732.4L270.3 765.4L270.5 700.1L270.6 667.4L270.8 722.5L271 681.2L271.1 655.4L271.3 660.7L271.5 674.9L271.6 694.6L271.8 734.9L271.9 679.9L272.1 642.5L272.3 647.7L272.4 690L272.6 726.1L272.8 677.8L272.9 690.5L273.1 713.2L273.2 696L273.4 688.9L273.6 691.5L273.7 700.2L273.9 695.1L274.1 716L274.2 675.1L274.4 717.3L274.5 732.2L274.7 706.6L274.9 702.1L275 720.7L275.2 684.9L275.4 682L275.5 680L275.7 694.3L275.8 676.1L276 683.5L276.2 712.3L276.3 707L276.5 718.5L276.7 727.6L276.8 660.3L277 672.8L277.2 708.1L277.3 728.6L277.5 684.2L277.6 694.4L277.8 706L278 674.8L278.1 681.9L278.3 694.2L278.5 692.5L278.6 719.5L278.8 726.4L278.9 703.5L279.1 720L279.3 719.6L279.4 700L279.6 695.7L279.8 731.6L279.9 687.8L280.1 707.3L280.2 707L280.4 632.7L280.6 645.7L280.7 640.5L280.9 685.5L281.1 712.9L281.2 687.8L281.4 704.4L281.5 718L281.7 684L281.9 677.1L282 672L282.2 706.1L282.4 712.6L282.5 758.1L282.7 743.3L282.9 674L283 698.4L283.2 713.5L283.3 714.2L283.5 714.7L283.7 709.2L283.8 739.3L284 738.8L284.2 718.2L284.3 700.6L284.5 722.3L284.6 678.7L284.8 729.7L285 725.9L285.1 686.3L285.3 733.9L285.5 787.2L285.6 722.9L285.8 686.5L285.9 710.3L286.1 742.8L286.3 765.7L286.4 724.9L286.6 735.8L286.8 732L286.9 749L287.1 719.9L287.3 684.8L287.4 728.3L287.6 743.5L287.7 690.3L287.9 633.4L288.1 660L288.2 703.7L288.4 720.4L288.6 704.6L288.7 724.1L288.9 687.2L289 666.2L289.2 699.7L289.4 700.3L289.5 743.3L289.7 741.1L289.9 697.5L290 686.4L290.2 714.3L290.3 737.1L290.5 715.8L290.7 710.6L290.8 736.7L291 724.9L291.2 687.3L291.3 665.6L291.5 641.5L291.6 678.4L291.8 696.3L292 708.1L292.1 687.2L292.3 685.2L292.5 686.9L292.6 685.5L292.8 687.9L293 695.5L293.1 727.3L293.3 711.3L293.4 714.6L293.6 707.3L293.8 665.1L293.9 637L294.1 656.7L294.3 685.2L294.4 689.6L294.6 672.9L294.7 705.3L294.9 704.5L295.1 712.8L295.2 663.3L295.4 627.3L295.6 697.3L295.7 734.3L295.9 762.3L296 723.2L296.2 723.2L296.4 726.8L296.5 634.3L296.7 629.4L296.9 643.9L297 693.1L297.2 701.1L297.3 700.2L297.5 659.1L297.7 669.4L297.8 691.7L298 692.1L298.2 698.1L298.3 717.5L298.5 684.8L298.7 677.3L298.8 686.9L299 702.5L299.1 669.7L299.3 657.7L299.5 654.3L299.6 648.8L299.8 675.4L300 664.8L300.1 638.4L300.3 668.9L300.4 705L300.6 733.7L300.8 715L300.9 729.3L301.1 720.3L301.3 720.8L301.4 668.3L301.6 655L301.7 680L301.9 688.4L302.1 698.7L302.2 699.6L302.4 675.1L302.6 690.4L302.7 699.6L302.9 737.1L303.1 703.7L303.2 698.3L303.4 724.1L303.5 685.7L303.7 727.7L303.9 715.4L304 689.2L304.2 687.3L304.4 699.3L304.5 701.8L304.7 687.5L304.8 708L305 718.9L305.2 715.6L305.3 729.1L305.5 689.3L305.7 702.9L305.8 727.6L306 729.2L306.1 747.5L306.3 727.3L306.5 690.9L306.6 724.4L306.8 705.7L307 726.6L307.1 720.6L307.3 712.9L307.4 651.3L307.6 700.7L307.8 716.5L307.9 757.5L308.1 772.3L308.3 754.7L308.4 711.1L308.6 696L308.8 678.1L308.9 694.8L309.1 711L309.2 733.2L309.4 742.4L309.6 691.7L309.7 707.5L309.9 723.5L310.1 689.8L310.2 647.6L310.4 669.4L310.5 671L310.7 665.3L310.9 695.1L311 690.7L311.2 692.7L311.4 702.7L311.5 705.2L311.7 720.6L311.8 722.9L312 715.8L312.2 720.8L312.3 722.1L312.5 707L312.7 736.8L312.8 743.1L313 719.4L313.1 739.6L313.3 730.4L313.5 731.9L313.6 739.9L313.8 691.3L314 708.9L314.1 695.1L314.3 688.3L314.5 661.4L314.6 714.4L314.8 726.8L314.9 698.3L315.1 725.2L315.3 698.8L315.4 688.2L315.6 680.4L315.8 700.5L315.9 694L316.1 694L316.2 693.3L316.4 681.6L316.6 700.5L316.7 703.3L316.9 721.2L317.1 706.9L317.2 708.9L317.4 714.8L317.5 729.7L317.7 730.3L317.9 700.9L318 679.7L318.2 688.9L318.4 693.1L318.5 704.6L318.7 696.8L318.8 702.2L319 703.6L319.2 697.4L319.3 686.8L319.5 708.5L319.7 685.1L319.8 660.4L320 671.8L320.2 683.4L320.3 688.9L320.5 698L320.6 689.4L320.8 702.6L321 710.2L321.1 682L321.3 688.2L321.5 724.6L321.6 720.8L321.8 717.7L321.9 700.8L322.1 696.8L322.3 691.4L322.4 688.6L322.6 709.9L322.8 677.4L322.9 670L323.1 681.6L323.2 725.9L323.4 699.3L323.6 710.1L323.7 690.4L323.9 753.5L324.1 770.9L324.2 726.6L324.4 725.9L324.6 676.8L324.7 689.1L324.9 728.3L325 708L325.2 689.3L325.4 693.8L325.5 680.9L325.7 685.1L325.9 703.8L326 652.9L326.2 669.2L326.3 702.1L326.5 725.1L326.7 707.7L326.8 670.8L327 658.2L327.2 754.2L327.3 707.8L327.5 701.5L327.6 677.5L327.8 702.6L328 662.4L328.1 671.4L328.3 686.3L328.5 671.8L328.6 712.3L328.8 718.1L328.9 741.5L329.1 732.5L329.3 686.6L329.4 660.2L329.6 690L329.8 715.2L329.9 673L330.1 704.8L330.3 670L330.4 708.4L330.6 712.9L330.7 667.5L330.9 651.8L331.1 692.5L331.2 704.9L331.4 672.6L331.6 705.3L331.7 701.5L331.9 650.5L332 635.7L332.2 681.6L332.4 678.4L332.5 648.4L332.7 681.5L332.9 760.9L333 743L333.2 715.4L333.3 683.5L333.5 704.2L333.7 725.4L333.8 679.5L334 673.2L334.2 681L334.3 688.3L334.5 706.5L334.6 686.2L334.8 702.1L335 713.3L335.1 713.9L335.3 698.8L335.5 654.6L335.6 640.1L335.8 644L336 697L336.1 722.8L336.3 732.2L336.4 745.1L336.6 717L336.8 730.8L336.9 723L337.1 721.4L337.3 691.4L337.4 689.9L337.6 674.3L337.7 654.2L337.9 649.9L338.1 714.6L338.2 740.4L338.4 775.7L338.6 729L338.7 706.8L338.9 691.1L339 718.6L339.2 711.9L339.4 765L339.5 761.1L339.7 673L339.9 667.4L340 665.8L340.2 670L340.4 674.5L340.5 713.1L340.7 735.7L340.8 724.6L341 738.2L341.2 730.9L341.3 740.4L341.5 738.4L341.7 708.3L341.8 729.3L342 692.5L342.1 686.4L342.3 711.2L342.5 686.5L342.6 684L342.8 712.9L343 701L343.1 687.8L343.3 681.4L343.4 683.6L343.6 702.7L343.8 699.1L343.9 703.5L344.1 745.2L344.3 722L344.4 685.7L344.6 699.1L344.7 689.9L344.9 701.4L345.1 745.9L345.2 742.5L345.4 724.3L345.6 719.4L345.7 686.9L345.9 714.7L346.1 720.1L346.2 685.3L346.4 670.9L346.5 707.9L346.7 713.1L346.9 704.8L347 705.8L347.2 712.2L347.4 732L347.5 736.6L347.7 712L347.8 724.8L348 698.7L348.2 685.6L348.3 698.6L348.5 718.4L348.7 717.8L348.8 700.1L349 688.5L349.1 715.2L349.3 702.8L349.5 695.9L349.6 697.5L349.8 732L350 697.3L350.1 677.6L350.3 711.5L350.4 713.1L350.6 726.5L350.8 715.4L350.9 669.8L351.1 701.6L351.3 755.1L351.4 732.9L351.6 724.6L351.8 737.5L351.9 738.3L352.1 719L352.2 729.2L352.4 728.9L352.6 714.9L352.7 711L352.9 724.3L353.1 711.7L353.2 676.4L353.4 667.4L353.5 693.6L353.7 712L353.9 737.1L354 713.7L354.2 700.2L354.4 695.5L354.5 708.8L354.7 723L354.8 729.9L355 703.6L355.2 719.7L355.3 717.6L355.5 670.6L355.7 691.6L355.8 679.3L356 681.5L356.1 690.6L356.3 687.4L356.5 681.1L356.6 705.2L356.8 715.8L357 692.6L357.1 672L357.3 696.5L357.5 742.9L357.6 725L357.8 688.1L357.9 676.9L358.1 702.9L358.3 724.4L358.4 742.9L358.6 686.5L358.8 709.2L358.9 734.8L359.1 724L359.2 683.9L359.4 705L359.6 710.9L359.7 714L359.9 710.2L360.1 695.3L360.2 704.4L360.4 680.6L360.5 665.5L360.7 684.4L360.9 714.1L361 734.9L361.2 714.1L361.4 725.1L361.5 691.7L361.7 677.1L361.9 670L362 692.4L362.2 706.4L362.3 716.4L362.5 700.2L362.7 695.4L362.8 675.8L363 699.8L363.2 729.9L363.3 690.3L363.5 700.9L363.6 725.4L363.8 720.7L364 697.5L364.1 679L364.3 677L364.5 711L364.6 667.9L364.8 670.8L364.9 663.1L365.1 665.7L365.3 660L365.4 692.2L365.6 714L365.8 687.9L365.9 692.8L366.1 698.1L366.2 702.2L366.4 735.5L366.6 681.6L366.7 682.1L366.9 721.6L367.1 711L367.2 706.9L367.4 713.7L367.6 649.2L367.7 702.1L367.9 730.7L368 700.3L368.2 778.9L368.4 742.7L368.5 723L368.7 723.6L368.9 731.4L369 760.5L369.2 678L369.3 670.3L369.5 718.1L369.7 717.5L369.8 687L370 716.2L370.2 671.5L370.3 668.8L370.5 683.7L370.6 700.1L370.8 700.9L371 716.1L371.1 732L371.3 722.1L371.5 675.1L371.6 689.4L371.8 746.2L371.9 742L372.1 720.6L372.3 643L372.4 619L372.6 704.8L372.8 759.6L372.9 664.8L373.1 695.3L373.3 690.9L373.4 650.7L373.6 725.6L373.7 715.2L373.9 686.2L374.1 711.4L374.2 710.2L374.4 749.6L374.6 767.8L374.7 717.8L374.9 739L375 756.2L375.2 678.8L375.4 681.4L375.5 676.8L375.7 707.7L375.9 677.4L376 699.1L376.2 693.4L376.3 703.5L376.5 668.8L376.7 619L376.8 635.3L377 738.3L377.2 753.1L377.3 705.9L377.5 696.6L377.7 657.8L377.8 641.7L378 634.8L378.1 691L378.3 742.4L378.5 687.4L378.6 723L378.8 732.1L379 709.6L379.1 643.6L379.3 659.4L379.4 706.6L379.6 654.6L379.8 677.2L379.9 688.5L380.1 702.5L380.3 721L380.4 702.8L380.6 735L380.7 721.3L380.9 660.3L381.1 685.2L381.2 690.6L381.4 692.5L381.6 679.4L381.7 703.9L381.9 739.6L382 706.9L382.2 672.3L382.4 701.9L382.5 708.4L382.7 661.6L382.9 672.7L383 692L383.2 716.5L383.4 699.1L383.5 699.3L383.7 718.6L383.8 720.5L384 714.9L384.2 756.4L384.3 739.4L384.5 729L384.7 703.4L384.8 686.8L385 659.3L385.1 653.2L385.3 717.4L385.5 704.3L385.6 677.7L385.8 696L386 721.3L386.1 720.4L386.3 720.7L386.4 677.3L386.6 691.9L386.8 708.2L386.9 737.7L387.1 730L387.3 731.9L387.4 742.5L387.6 717.3L387.7 684.1L387.9 730.4L388.1 727.9L388.2 709.2L388.4 724.9L388.6 750.9L388.7 734.2L388.9 712.7L389.1 712.5L389.2 694L389.4 710.6L389.5 710.6L389.7 701.1L389.9 652.5L390 674.9L390.2 759.7L390.4 718.2L390.5 703.7L390.7 715.9L390.8 705.5L391 698.2L391.2 660.3L391.3 690.3L391.5 689.5L391.7 641.7L391.8 654.8L392 709.9L392.1 681.3L392.3 678.7L392.5 706.8L392.6 677.9L392.8 632L393 669.6L393.1 687.4L393.3 701L393.4 741.1L393.6 720.5L393.8 708L393.9 777.5L394.1 712.5L394.3 650.8L394.4 661.1L394.6 651L394.8 663.8L394.9 684.2L395.1 681.3L395.2 730.1L395.4 717L395.6 688L395.7 686.4L395.9 697.2L396.1 694.7L396.2 686.4L396.4 702.9L396.5 659.7L396.7 697L396.9 718L397 723.5L397.2 726.9L397.4 694.7L397.5 700L397.7 647.2L397.8 650.3L398 665.9L398.2 692.5L398.3 654.4L398.5 708.2L398.7 705.5L398.8 676.7L399 660L399.2 701.8L399.3 741.8L399.5 658.6L399.6 673.8L399.8 711.8L400 716.4L400.1 708.4L400.3 691.5L400.5 687.9L400.6 680.3L400.8 711.3L400.9 687.1L401.1 686.9L401.3 712.4L401.4 706.4L401.6 717.4L401.8 689.3L401.9 676.5L402.1 684L402.2 685.6L402.4 689.7L402.6 707.1L402.7 708.2L402.9 704.7L403.1 717.5L403.2 721.3L403.4 722.5L403.5 700.1L403.7 692.1L403.9 711.3L404 753.2L404.2 750.7L404.4 713.2L404.5 691L404.7 723.1L404.9 753L405 759.4L405.2 723.5L405.3 674.4L405.5 667.3L405.7 690.6L405.8 723.1L406 704.8L406.2 702.6L406.3 677.9L406.5 715.7L406.6 715.9L406.8 687.6L407 688.5L407.1 691.1L407.3 701.8L407.5 687.9L407.6 676.5L407.8 684.2L407.9 685.6L408.1 703.4L408.3 688.4L408.4 670.9L408.6 669.7L408.8 680.8L408.9 694L409.1 687.8L409.2 666.1L409.4 678.2L409.6 701.4L409.7 733.5L409.9 746.3L410.1 728.7L410.2 756.7L410.4 768.7L410.6 751.9L410.7 753.6L410.9 677.1L411 695.4L411.2 694.1L411.4 679L411.5 661.9L411.7 667.4L411.9 693.9L412 679.1L412.2 684.9L412.3 695.5L412.5 769.2L412.7 721L412.8 656.6L413 619L413.2 619L413.3 654.8L413.5 710.6L413.6 683.2L413.8 687.2L414 723.1L414.1 701.8L414.3 700.6L414.5 700.3L414.6 715.9L414.8 699.3L415 674.3L415.1 688.3L415.3 731.7L415.4 734L415.6 737.8L415.8 747.4L415.9 707.2L416.1 706.4L416.3 665.6L416.4 692.5L416.6 692.1L416.7 694.3L416.9 703.2L417.1 743.1L417.2 725L417.4 725.6L417.6 701.4L417.7 704.1L417.9 695L418 685L418.2 699.3L418.4 726.1L418.5 741.9L418.7 709.2L418.9 687.5L419 718.7L419.2 707.7L419.3 709.8L419.5 688.5L419.7 703.1L419.8 714.1L420 714.5L420.2 719.7L420.3 701.9L420.5 717.4L420.7 696.7L420.8 735.4L421 740.5L421.1 715.2L421.3 683.4L421.5 705L421.6 694.8L421.8 692L422 713.3L422.1 736.8L422.3 700.1L422.4 666L422.6 677.1L422.8 703.3L422.9 691.2L423.1 702.9L423.3 735.4L423.4 709.3L423.6 689.4L423.7 667.1L423.9 660.6L424.1 673.9L424.2 710.4L424.4 733.9L424.6 698.8L424.7 704.3L424.9 706.6L425 674.4L425.2 680.1L425.4 679.5L425.5 692.9L425.7 679.7L425.9 666L426 649.7L426.2 686.8L426.4 709.9L426.5 717.9L426.7 714.3L426.8 728.7L427 672.2L427.2 665.1L427.3 666.4L427.5 718.2L427.7 746L427.8 729.2L428 743.4L428.1 730L428.3 675L428.5 674.5L428.6 684.6L428.8 673.1L429 648.6L429.1 673.4L429.3 760.7L429.4 762.1L429.6 714L429.8 684.7L429.9 626.3L430.1 632.6L430.3 650.1L430.4 680.6L430.6 711.6L430.7 725.6L430.9 685.8L431.1 677.7L431.2 662.9L431.4 671.9L431.6 669.6L431.7 714.4L431.9 713.6L432.1 696L432.2 689.3L432.4 700.6L432.5 694.8L432.7 677.8L432.9 685.7L433 706.1L433.2 687L433.4 674.6L433.5 711.1L433.7 733.7L433.8 710.7L434 686.4L434.2 693.2L434.3 712.4L434.5 716.4L434.7 710.9L434.8 709.2L435 713.5L435.1 707.7L435.3 684.5L435.5 671.9L435.6 697.1L435.8 714L436 719.5L436.1 697.8L436.3 689.2L436.5 681L436.6 689.4L436.8 721.4L436.9 740.3L437.1 717.7L437.3 716L437.4 717.6L437.6 700.1L437.8 711.6L437.9 718.7L438.1 694.5L438.2 721.7L438.4 739.5L438.6 738L438.7 724.8L438.9 703.8L439.1 704.4L439.2 664.5L439.4 674.2L439.5 706.6L439.7 710.8L439.9 710L440 709.2L440.2 704.4L440.4 691.3L440.5 725.6L440.7 709.6L440.8 694.3L441 702.1L441.2 699.6L441.3 703.5L441.5 679.3L441.7 663.6L441.8 643.3L442 655L442.2 673.1L442.3 694.5L442.5 745.7L442.6 722.7L442.8 704.6L443 732L443.1 747.9L443.3 719.4L443.5 672.9L443.6 682.7L443.8 706.6L443.9 658.9L444.1 653.2L444.3 649L444.4 662.8L444.6 658.6L444.8 678L444.9 692L445.1 678.5L445.2 763.3L445.4 733.5L445.6 704.9L445.7 738.3L445.9 730.3L446.1 718L446.2 710.5L446.4 701.5L446.5 691.1L446.7 702.4L446.9 720.4L447 720.6L447.2 726.4L447.4 716.3L447.5 733.9L447.7 733.3L447.9 692.6L448 687.1L448.2 734.7L448.3 712.1L448.5 715.2L448.7 693.3L448.8 653.4L449 653.3L449.2 685.7L449.3 672.7L449.5 668.2L449.6 701.5L449.8 772.2L450 765.5L450.1 750.4L450.3 700.6L450.5 645.2L450.6 738L450.8 798L450.9 769.7L451.1 745.8L451.3 672.5L451.4 706.3L451.6 734.6L451.8 745.4L451.9 716L452.1 706.1L452.3 643.3L452.4 651.4L452.6 683.7L452.7 720L452.9 712.5L453.1 661.2L453.2 724.4L453.4 781.8L453.6 749.8L453.7 778.6L453.9 782.8L454 766.4L454.2 717.5L454.4 661.7L454.5 683L454.7 751.4L454.9 772L455 735.4L455.2 729.7L455.3 640.5L455.5 677.4L455.7 728.5L455.8 724.5L456 688.3L456.2 664.3L456.3 675.6L456.5 710.4L456.6 737.7L456.8 693L457 674.5L457.1 726L457.3 771.1L457.5 696.5L457.6 659.3L457.8 701.8L458 722.7L458.1 715.5L458.3 730.9L458.4 724.4L458.6 729.4L458.8 765.6L458.9 774.6L459.1 762.5L459.3 739.7L459.4 715.2L459.6 715.7L459.7 712.1L459.9 703.4L460.1 712.2L460.2 701.9L460.4 721.2L460.6 715.4L460.7 709.7L460.9 696.8L461 678.6L461.2 685.7L461.4 680L461.5 710.8L461.7 714.2L461.9 724L462 741.4L462.2 742.6L462.3 693.5L462.5 701.5L462.7 710.6L462.8 725.5L463 736.5L463.2 721.7L463.3 743.8L463.5 724.1L463.7 664.2L463.8 660.3L464 689L464.1 711.6L464.3 729.6L464.5 746.1L464.6 751L464.8 731L465 690.7L465.1 714.7L465.3 713.5L465.4 710.5L465.6 712.9L465.8 700.1L465.9 719.7L466.1 705.2L466.3 682.6L466.4 694.7L466.6 690.2L466.7 709.8L466.9 747.7L467.1 739.9L467.2 747.7L467.4 716.8L467.6 676.3L467.7 740L467.9 720.7L468 673.4L468.2 622.9L468.4 674.9L468.5 667.2L468.7 718.1L468.9 696.7L469 702.9L469.2 694.3L469.4 686.8L469.5 713L469.7 746.2L469.8 693.4L470 700.2L470.2 732.1L470.3 685.2L470.5 675.1L470.7 671.4L470.8 680.3L471 723.4L471.1 730.2L471.3 707.6L471.5 687.7L471.6 652.7L471.8 645.4L472 671.2L472.1 710.2L472.3 741.5L472.4 722.2L472.6 660.7L472.8 690.8L472.9 709.7L473.1 689.6L473.3 699.9L473.4 663L473.6 668.6L473.8 681.4L473.9 714.2L474.1 714.3L474.2 681.1L474.4 707L474.6 722.2L474.7 705.9L474.9 683.6L475.1 665L475.2 683.7L475.4 700.6L475.5 733.2L475.7 702.7L475.9 680.1L476 657L476.2 701.5L476.4 700.2L476.5 734.1L476.7 714.1L476.8 733.6L477 747.3L477.2 736.5L477.3 708.6L477.5 713.9L477.7 706.4L477.8 677.1L478 651.9L478.1 655.6L478.3 679.4L478.5 704.1L478.6 690.4L478.8 705.9L479 708.8L479.1 697.3L479.3 709.1L479.5 701.3L479.6 693.5L479.8 700.7L479.9 694.1L480.1 677.4L480.3 704.4L480.4 668.7L480.6 703.9L480.8 733.1L480.9 744.8L481.1 736.6L481.2 741.5L481.4 722.1L481.6 703L481.7 754.6L481.9 722.7L482.1 664.9L482.2 689.2L482.4 720.4L482.5 698.3L482.7 692.8L482.9 675.7L483 712.2L483.2 753.6L483.4 771L483.5 768.4L483.7 724.7L483.8 711.7L484 687.7L484.2 707.1L484.3 723.1L484.5 705.6L484.7 695.4L484.8 683.1L485 711.7L485.2 711.4L485.3 686.2L485.5 717.3L485.6 709.5L485.8 702.2L486 730.6L486.1 730.6L486.3 744.8L486.5 703.1L486.6 696.4L486.8 688.3L486.9 665L487.1 713.6L487.3 705.8L487.4 696.2L487.6 710.3L487.8 710.3L487.9 696L488.1 685.4L488.2 707.6L488.4 712.2L488.6 714.2L488.7 692.5L488.9 657.3L489.1 678.5L489.2 667.3L489.4 645.6L489.6 678.9L489.7 707.2L489.9 666.6L490 668.4L490.2 685.8L490.4 652.1L490.5 700.7L490.7 704.2L490.9 666.4L491 698.6L491.2 684.3L491.3 682.8L491.5 745.2L491.7 686.6L491.8 666.1L492 710.8L492.2 729.3L492.3 698.6L492.5 714.7L492.6 743.5L492.8 731.3L493 718.8L493.1 668.9L493.3 690.4L493.5 714.3L493.6 678.3L493.8 679.2L493.9 706.2L494.1 756.7L494.3 718.8L494.4 706.7L494.6 713L494.8 670.5L494.9 660.2L495.1 695L495.3 746.7L495.4 734.7L495.6 725.4L495.7 718.8L495.9 700.9L496.1 697.6L496.2 724.7L496.4 721L496.6 706.1L496.7 695.6L496.9 706.7L497 730.1L497.2 711.9L497.4 702.8L497.5 724.2L497.7 686.1L497.9 709.7L498 694.4L498.2 732.3L498.3 733.1L498.5 702L498.7 717.2L498.8 722.2L499 676.8L499.2 672.7L499.3 714.1L499.5 693.1L499.6 699.1L499.8 715.4L500 688.4L500.1 702.4L500.3 714.4L500.5 691.3L500.6 703.2L500.8 708.5L501 701.6L501.1 695.7L501.3 702.8L501.4 704.8L501.6 712.5L501.8 702.1L501.9 723.2L502.1 715.8L502.3 739L502.4 737.4L502.6 707.9L502.7 719.3L502.9 718.1L503.1 716.4L503.2 722.3L503.4 706.5L503.6 681.4L503.7 687.6L503.9 710L504 723.3L504.2 699.9L504.4 724.9L504.5 730.1L504.7 679.9L504.9 679.5L505 719.4L505.2 702.8L505.3 673.5L505.5 732L505.7 713.8L505.8 661.8L506 672.4L506.2 697L506.3 702.9L506.5 714.8L506.7 702.7L506.8 695L507 686.8L507.1 691.3L507.3 701.4L507.5 693.7L507.6 719.9L507.8 694.5L508 651.2L508.1 706.2L508.3 748.2L508.4 782.5L508.6 733.8L508.8 681.8L508.9 654.1L509.1 684L509.3 725.2L509.4 729.1L509.6 672L509.7 660.8L509.9 695.2L510.1 652.4L510.2 654.2L510.4 706.1L510.6 715.1L510.7 710.3L510.9 688.5L511.1 631.1L511.2 669.6L511.4 691.1L511.5 698.9L511.7 672.1L511.9 687L512 673.9L512.2 619L512.4 619.1L512.5 706.7L512.7 729.1L512.8 730.4L513 719L513.2 705.2L513.3 716.1L513.5 696.6L513.7 693.4L513.8 668.3L514 632.4L514.1 647.4L514.3 700L514.5 728.5L514.6 702.5L514.8 700.6L515 675.9L515.1 653L515.3 685L515.4 703.3L515.6 695.1L515.8 691.9L515.9 708L516.1 713.7L516.3 720.9L516.4 716.5L516.6 708.6L516.8 701.2L516.9 684.3L517.1 676.3L517.2 710.5L517.4 703.1L517.6 724.1L517.7 718L517.9 700.9L518.1 667.5L518.2 664.7L518.4 725.2L518.5 682.3L518.7 683.7L518.9 691L519 684.9L519.2 675.4L519.4 676L519.5 709.4L519.7 712.6L519.8 703.8L520 700.3L520.2 688.6L520.3 701L520.5 699.1L520.7 744.3L520.8 754.6L521 718.3L521.1 672.1L521.3 669.6L521.5 714.4L521.6 742.4L521.8 702.6L522 714.2L522.1 730.1L522.3 693.5L522.5 736.6L522.6 755.1L522.8 706.7L522.9 667.8L523.1 669.1L523.3 710.2L523.4 712.5L523.6 748.8L523.8 756.3L523.9 739.5L524.1 722.1L524.2 718L524.4 737.3L524.6 754.2L524.7 704.1L524.9 726.3L525.1 710.5L525.2 709.2L525.4 684L525.5 723L525.7 691.8L525.9 680.3L526 664.2L526.2 683.3L526.4 684.2L526.5 711.1L526.7 746.3L526.8 710.1L527 644.2L527.2 626.2L527.3 671.3L527.5 674.9L527.7 709.2L527.8 704.4L528 721.1L528.2 747.4L528.3 735.3L528.5 702.6L528.6 697.3L528.8 733.1L529 722.6L529.1 720.5L529.3 720.2L529.5 733.2L529.6 714.2L529.8 708.6L529.9 729L530.1 721L530.3 734L530.4 732L530.6 711L530.8 731.8L530.9 738.5L531.1 739.9L531.2 716.9L531.4 716.6L531.6 723.5L531.7 725L531.9 681.7L532.1 687.6L532.2 707.9L532.4 721.7L532.6 733.5L532.7 721.4L532.9 681.7L533 704.9L533.2 726.3L533.4 677.1L533.5 705.8L533.7 695L533.9 699.8L534 725.9L534.2 747L534.3 738.9L534.5 756.7L534.7 743.1L534.8 733.9L535 759.5L535.2 761.4L535.3 711.6L535.5 664.1L535.6 703.3L535.8 641.2L536 635.4L536.1 662.1L536.3 688.3L536.5 752L536.6 764.7L536.8 748.3L536.9 716.8L537.1 650.2L537.3 653.2L537.4 711.8L537.6 731.1L537.8 704.4L537.9 683.6L538.1 706.2L538.3 713.6L538.4 704.6L538.6 686.5L538.7 706.3L538.9 739.1L539.1 721.3L539.2 642.9L539.4 683.1L539.6 727.3L539.7 728.4L539.9 665.4L540 637.1L540.2 642.9L540.4 657L540.5 652.5L540.7 652.5L540.9 696.1L541 723.1L541.2 683L541.3 682.4L541.5 737.9L541.7 684.6L541.8 673L542 697.5L542.2 711.3L542.3 708L542.5 661.5L542.6 677.1L542.8 664L543 668.1L543.1 749.1L543.3 727L543.5 722.5L543.6 708.1L543.8 684.2L544 709.8L544.1 771.9L544.3 731.2L544.4 716.2L544.6 720.4L544.8 700.7L544.9 683.5L545.1 673.7L545.3 736.2L545.4 716.5L545.6 722.4L545.7 727.9L545.9 688L546.1 671.4L546.2 697.5L546.4 711.6L546.6 716L546.7 650.8L546.9 632.3L547 679.1L547.2 691.8L547.4 687.2L547.5 659L547.7 690L547.9 753L548 712.8L548.2 683.6L548.4 709L548.5 705.8L548.7 666.8L548.8 696.8L549 710.2L549.2 652.6L549.3 636.6L549.5 693.6L549.7 741.8L549.8 773.6L550 767L550.1 764.1L550.3 710.7L550.5 701.2L550.6 675.1L550.8 705.7L551 741.2L551.1 713.3L551.3 704.8L551.4 720.5L551.6 701L551.8 711.8L551.9 713.3L552.1 688.9L552.3 738.4L552.4 748L552.6 725.9L552.7 716.4L552.9 708L553.1 704.1L553.2 720.2L553.4 758.7L553.6 751.3L553.7 723.6L553.9 687.1L554.1 724.9L554.2 710.1L554.4 645.5L554.5 642.2L554.7 686.7L554.9 690.5L555 692.8L555.2 739.3L555.4 721.8L555.5 716.8L555.7 689.1L555.8 721.8L556 729.6L556.2 701.2L556.3 733.2L556.5 715.5L556.7 722L556.8 718.2L557 694.3L557.1 716.1L557.3 667.8L557.5 704.4L557.6 698.3L557.8 682.9L558 671.6L558.1 709.5L558.3 769L558.4 763.4L558.6 710.1L558.8 658.4L558.9 666.2L559.1 664.2L559.3 659.5L559.4 687.6L559.6 687.4L559.8 702.1L559.9 730.1L560.1 721.4L560.2 672.7L560.4 681.7L560.6 718.6L560.7 747.5L560.9 741.3L561.1 736.6L561.2 742.5L561.4 748.5L561.5 723.9L561.7 717.2L561.9 697.1L562 678L562.2 688.4L562.4 704.1L562.5 685L562.7 691.1L562.8 683.5L563 702.1L563.2 727.6L563.3 697.3L563.5 681.3L563.7 719.8L563.8 714.4L564 705.2L564.1 692.4L564.3 715.7L564.5 683.3L564.6 684.1L564.8 712.8L565 685L565.1 682.6L565.3 702.7L565.5 687.1L565.6 716.7L565.8 740.3L565.9 726.8L566.1 723.6L566.3 714.9L566.4 733.3L566.6 710.2L566.8 690.3L566.9 728.7L567.1 732.5L567.2 722.7L567.4 670.7L567.6 687.6L567.7 716.8L567.9 683.3L568.1 668.9L568.2 682.8L568.4 711.5L568.5 709.3L568.7 689.8L568.9 648.6L569 686.5L569.2 712.3L569.4 704.2L569.5 711.4L569.7 709.3L569.9 692.3L570 683.4L570.2 698.3L570.3 736.8L570.5 735.4L570.7 714.6L570.8 676.2L571 676.2L571.2 692.7L571.3 677.2L571.5 656.4L571.6 664L571.8 682.9L572 703.4L572.1 701.2L572.3 682.6L572.5 695L572.6 664.7L572.8 699L572.9 708.7L573.1 695.4L573.3 680.1L573.4 688.8L573.6 702.7L573.8 706.5L573.9 692.3L574.1 674.3L574.2 659.2L574.4 702.5L574.6 742.6L574.7 746.3L574.9 733L575.1 729L575.2 729.2L575.4 735.7L575.6 718.1L575.7 693.5L575.9 717.7L576 725.6L576.2 676.5L576.4 690.7L576.5 717.3L576.7 723.2L576.9 718.3L577 703.1L577.2 702.7L577.3 729.8L577.5 725.1L577.7 713.1L577.8 692.6L578 724.7L578.2 720.7L578.3 674.9L578.5 672.2L578.6 684.6L578.8 696.8L579 731.8L579.1 766.3L579.3 737.9L579.5 686.6L579.6 683.8L579.8 680.5L579.9 680.4L580.1 681.2L580.3 687L580.4 688.6L580.6 699L580.8 716.4L580.9 753.5L581.1 730.3L581.3 754.7L581.4 767.3L581.6 700.6L581.7 711.5L581.9 714.8L582.1 713.8L582.2 663.3L582.4 674.7L582.6 688.6L582.7 669.2L582.9 724L583 764.3L583.2 728.6L583.4 727.7L583.5 699L583.7 721.3L583.9 740.8L584 732.3L584.2 719.2L584.3 706.7L584.5 699.7L584.7 652.7L584.8 679.3L585 710.9L585.2 721.2L585.3 730.1L585.5 714.4L585.7 749L585.8 743.6L586 718L586.1 687.6L586.3 686.4L586.5 704.3L586.6 681.2L586.8 695L587 706.1L587.1 708L587.3 708.2L587.4 720L587.6 702.5L587.8 743.6L587.9 751.9L588.1 733.6L588.3 696.8L588.4 711.4L588.6 728.8L588.7 719.8L588.9 706.5L589.1 693.6L589.2 681.3L589.4 696.6L589.6 729L589.7 725L589.9 693.8L590 668.6L590.2 676.9L590.4 683.2L590.5 705.4L590.7 775.5L590.9 752.3L591 719.3L591.2 706.5L591.4 709.8L591.5 715.3L591.7 710.6L591.8 695.6L592 723.8L592.2 678.8L592.3 692.3L592.5 713.2L592.7 677.9L592.8 652.7L593 665.3L593.1 687.1L593.3 715.1L593.5 756.6L593.6 743.2L593.8 736.9L594 720.6L594.1 702.3L594.3 724L594.4 728.7L594.6 710.6L594.8 725.7L594.9 716.9L595.1 654.4L595.3 669.7L595.4 679.9L595.6 651.7L595.7 699L595.9 728.9L596.1 693.4L596.2 668.6L596.4 697.3L596.6 732.6L596.7 703.1L596.9 694.2L597.1 709.6L597.2 716.9L597.4 693.9L597.5 701.5L597.7 722.1L597.9 726.3L598 730.5L598.2 707.4L598.4 741.2L598.5 765.2L598.7 750.4L598.8 719.3L599 735.7L599.2 746.3L599.3 696.2L599.5 693.1L599.7 697.7L599.8 716.2L600 715.2L600.1 714.7L600.3 720.1L600.5 724.5L600.6 713L600.8 702.5L601 733.9L601.1 746L601.3 714.3L601.4 709.5L601.6 731.2L601.8 713.8L601.9 722.4L602.1 702.2L602.3 696.7L602.4 701L602.6 698.1L602.8 680.4L602.9 670.7L603.1 734.1L603.2 753.3L603.4 717.8L603.6 690.1L603.7 726.7L603.9 733.3L604.1 741.2L604.2 715.7L604.4 711.3L604.5 705.3L604.7 684.9L604.9 688.6L605 686.4L605.2 690.5L605.4 684.4L605.5 697.6L605.7 724.8L605.8 713.2L606 699.8L606.2 721.5L606.3 728.9L606.5 695.6L606.7 672.3L606.8 667.7L607 705L607.2 700.6L607.3 670.5L607.5 724.6L607.6 752.8L607.8 745.4L608 751.7L608.1 705.5L608.3 676.8L608.5 704.2L608.6 700.2L608.8 703.2L608.9 684.7L609.1 643.7L609.3 664.2L609.4 686.3L609.6 707L609.8 729.6L609.9 738.9L610.1 723.1L610.2 711.7L610.4 695.6L610.6 682.5L610.7 696.9L610.9 701.5L611.1 686.3L611.2 686.4L611.4 709L611.5 715.9L611.7 732.7L611.9 700.4L612 680.5L612.2 697.1L612.4 735.6L612.5 712.3L612.7 688.5L612.9 703.4L613 685.3L613.2 686.2L613.3 698.7L613.5 704.6L613.7 690.6L613.8 715.8L614 699L614.2 688.5L614.3 706.6L614.5 731.5L614.6 738.6L614.8 690L615 693.3L615.1 699.2L615.3 723.2L615.5 730.8L615.6 718.2L615.8 730.3L615.9 724.9L616.1 733.1L616.3 712.5L616.4 719L616.6 652.6L616.8 661.9L616.9 714.9L617.1 723.3L617.2 679L617.4 685.6L617.6 702.7L617.7 698.1L617.9 718.6L618.1 696.3L618.2 741.8L618.4 758L618.6 718.1L618.7 679L618.9 681.6L619 667.2L619.2 646.5L619.4 642.5L619.5 733.9L619.7 697.6L619.9 668L620 659.7L620.2 684.5L620.3 669.6L620.5 619.7L620.7 719.1L620.8 720.5L621 690.8L621.2 647L621.3 673.5L621.5 700L621.6 745.7L621.8 691.9L622 695.7L622.1 681.5L622.3 674.6L622.5 667.3L622.6 643.4L622.8 701.6L623 736.4L623.1 734L623.3 722.4L623.4 702.7L623.6 716.3L623.8 706.5L623.9 718L624.1 742.5L624.3 732.9L624.4 706L624.6 640.9L624.7 619L624.9 679.5L625.1 707.5L625.2 707.3L625.4 701L625.6 654.2L625.7 619L625.9 698.9L626 728.1L626.2 736.8L626.4 762.8L626.5 767.9L626.7 747L626.9 750.9L627 725.7L627.2 685.2L627.3 679.8L627.5 666.9L627.7 680.8L627.8 702.2L628 701.7L628.2 693.2L628.3 657.4L628.5 664.8L628.7 705.4L628.8 745.6L629 756.1L629.1 666L629.3 664.2L629.5 707.8L629.6 705.5L629.8 722.4L630 730.9L630.1 677.2L630.3 666.2L630.4 690.8L630.6 715.1L630.8 729.9L630.9 730.2L631.1 702.6L631.3 717L631.4 727.8L631.6 772.2L631.7 772.2L631.9 740.5L632.1 683L632.2 643.1L632.4 720.8L632.6 668.4L632.7 662.5L632.9 725.2L633 754.6L633.2 708.1L633.4 682.1L633.5 684.2L633.7 713.1L633.9 721.6L634 706.5L634.2 664.5L634.4 715.6L634.5 677.6L634.7 681.1L634.8 717.3L635 731.3L635.2 691.7L635.3 663L635.5 714.1L635.7 713.8L635.8 708.7L636 701.3L636.1 723.5L636.3 742.4L636.5 725.4L636.6 712.1L636.8 688.1L637 693.9L637.1 662.5L637.3 638.1L637.4 678.4L637.6 676.4L637.8 660.6L637.9 661.8L638.1 693.3L638.3 695.9L638.4 708.7L638.6 671.1L638.7 713.6L638.9 701.1L639.1 704.4L639.2 697L639.4 710.2L639.6 736.6L639.7 723.7L639.9 693.7L640.1 703.5L640.2 678.8L640.4 650.2L640.5 687.2L640.7 730.4L640.9 765.1L641 753.4L641.2 689.5L641.4 659.8L641.5 650.9L641.7 668.7L641.8 678.2L642 736.5L642.2 724.4L642.3 735.9L642.5 733.1L642.7 724.1L642.8 738.9L643 759.9L643.1 759.6L643.3 751.4L643.5 707.7L643.6 701.1L643.8 714.3L644 724.1L644.1 698.7L644.3 710.5L644.5 709.5L644.6 703L644.8 706.2L644.9 700L645.1 702.4L645.3 695.7L645.4 695L645.6 721.8L645.8 694L645.9 709.6L646.1 716.2L646.2 730.4L646.4 724.1L646.6 718.2L646.7 730.7L646.9 709.2L647.1 699.2L647.2 710.1L647.4 708.6L647.5 705.7L647.7 738.1L647.9 758.2L648 724.8L648.2 685.8L648.4 679.9L648.5 693.4L648.7 699.5L648.8 693.7L649 707.5L649.2 700.2L649.3 709.1L649.5 712.1" fill="none" stroke="#0000ff" stroke-width="0.46" stroke-linejoin="bevel"/>
<clipPath id="c1"><rect x="839.9" y="45.9" width="603.4" height="204.7"/></clipPath>
<linearGradient id="hmg" gradientUnits="userSpaceOnUse" x1="0" y1="45.9" x2="0" y2="250.6"><stop offset="0" stop-color="#555"/><stop offset="0.35" stop-color="#777"/><stop offset="0.6" stop-color="#fff"/><stop offset="1" stop-color="#fff"/></linearGradient>
<mask id="hm" maskUnits="userSpaceOnUse" x="838.2" y="43.9" width="606.5" height="208.7"><rect x="838.2" y="43.9" width="606.5" height="208.7" fill="url(#hmg)"/></mask>
<rect x="839.9" y="45.9" width="603.4" height="204.7" fill="#00008f"/>
<g clip-path="url(#c1)">
<g mask="url(#hm)">
<polygon points="866.2,250.6 872.6,125.4 873.1,45.9 874.9,45.9 875.7,125.4 881.1,250.6" fill="#20b8ff" stroke="#20b8ff" stroke-width="1.5" stroke-linejoin="round" stroke-opacity="0.75"/>
<polygon points="866.2,250.6 872.6,125.4 873.1,45.9 874.9,45.9 875.7,125.4 881.1,250.6" fill="#ffd800" stroke="#ffd800" stroke-width="0.8" stroke-linejoin="round" stroke-opacity="0.95"/>
</g>
<polygon points="866.2,250.6 872.6,125.4 873.1,45.9 874.9,45.9 875.7,125.4 881.1,250.6" fill="#800000" stroke="#d01800" stroke-width="0.3" stroke-linejoin="round"/>
</g>
<g clip-path="url(#c1)">
<g mask="url(#hm)">
<polygon points="909.6,250.6 913.5,125.4 914,45.9 918.7,45.9 919.7,125.4 924.8,250.6" fill="#20b8ff" stroke="#20b8ff" stroke-width="1.5" stroke-linejoin="round" stroke-opacity="0.75"/>
<polygon points="909.6,250.6 913.5,125.4 914,45.9 918.7,45.9 919.7,125.4 924.8,250.6" fill="#ffd800" stroke="#ffd800" stroke-width="0.8" stroke-linejoin="round" stroke-opacity="0.95"/>
</g>
<polygon points="909.6,250.6 913.5,125.4 914,45.9 918.7,45.9 919.7,125.4 924.8,250.6" fill="#800000" stroke="#d01800" stroke-width="0.3" stroke-linejoin="round"/>
</g>
<rect x="916.0" y="45.9" width="0.9" height="55" fill="#d83000" opacity="0.8"/>
<rect x="917.2" y="53.9" width="0.6" height="30" fill="#c02000" opacity="0.7"/>
<g clip-path="url(#c1)">
<g mask="url(#hm)">
<polygon points="1074.5,250.6 1080.3,125.4 1081,45.9 1082.3,45.9 1082.7,125.4 1088.7,250.6" fill="#20b8ff" stroke="#20b8ff" stroke-width="1.5" stroke-linejoin="round" stroke-opacity="0.75"/>
<polygon points="1074.5,250.6 1080.3,125.4 1081,45.9 1082.3,45.9 1082.7,125.4 1088.7,250.6" fill="#ffd800" stroke="#ffd800" stroke-width="0.8" stroke-linejoin="round" stroke-opacity="0.95"/>
</g>
<polygon points="1074.5,250.6 1080.3,125.4 1081,45.9 1082.3,45.9 1082.7,125.4 1088.7,250.6" fill="#800000" stroke="#d01800" stroke-width="0.3" stroke-linejoin="round"/>
</g>
<rect x="1316.0" y="45.9" width="0.9" height="144.1" fill="#0850e8" opacity="0.85"/>
<g clip-path="url(#c1)">
<g mask="url(#hm)">
<polygon points="1316.1,250.6 1317.4,185 1320,143.6 1321.1,45.9 1323.5,45.9 1324.6,143.6 1326.2,213.5 1328.8,130.6 1330,45.9 1331.3,45.9 1331.9,125.4 1337.7,250.6" fill="#20b8ff" stroke="#20b8ff" stroke-width="1.5" stroke-linejoin="round" stroke-opacity="0.75"/>
<polygon points="1316.1,250.6 1317.4,185 1320,143.6 1321.1,45.9 1323.5,45.9 1324.6,143.6 1326.2,213.5 1328.8,130.6 1330,45.9 1331.3,45.9 1331.9,125.4 1337.7,250.6" fill="#ffd800" stroke="#ffd800" stroke-width="0.8" stroke-linejoin="round" stroke-opacity="0.95"/>
</g>
<polygon points="1316.1,250.6 1317.4,185 1320,143.6 1321.1,45.9 1323.5,45.9 1324.6,143.6 1326.2,213.5 1328.8,130.6 1330,45.9 1331.3,45.9 1331.9,125.4 1337.7,250.6" fill="#800000" stroke="#d01800" stroke-width="0.3" stroke-linejoin="round"/>
</g>
<g clip-path="url(#c1)">
<g mask="url(#hm)">
<polygon points="1357.5,250.6 1362.6,143.6 1363.6,45.9 1365.7,45.9 1366.5,143.6 1369.5,250.6" fill="#20b8ff" stroke="#20b8ff" stroke-width="1.5" stroke-linejoin="round" stroke-opacity="0.75"/>
<polygon points="1357.5,250.6 1362.6,143.6 1363.6,45.9 1365.7,45.9 1366.5,143.6 1369.5,250.6" fill="#ffd800" stroke="#ffd800" stroke-width="0.8" stroke-linejoin="round" stroke-opacity="0.95"/>
</g>
<polygon points="1357.5,250.6 1362.6,143.6 1363.6,45.9 1365.7,45.9 1366.5,143.6 1369.5,250.6" fill="#800000" stroke="#d01800" stroke-width="0.3" stroke-linejoin="round"/>
</g>
<g clip-path="url(#c1)">
<g mask="url(#hm)">
<polygon points="1387.2,250.6 1387.9,230 1391,150 1391.6,124 1392.1,45.9 1394.4,45.9 1394.6,124 1394.9,197 1395.6,150 1396.2,124 1396.7,45.9 1401,45.9 1401.6,124 1402,168 1402.9,124 1403.3,45.9 1405.2,45.9 1405.9,124 1406.4,150 1407.7,174 1408.5,188.5 1409.3,174 1410.8,150 1411.1,124 1411.3,45.9 1416.5,45.9 1416.6,124 1417,150 1418.6,203.6 1420.5,150 1421.1,124 1421.2,45.9 1432,45.9 1432.9,150 1433.9,230 1434.1,250.6" fill="#20b8ff" stroke="#20b8ff" stroke-width="1.5" stroke-linejoin="round" stroke-opacity="0.75"/>
<polygon points="1387.2,250.6 1387.9,230 1391,150 1391.6,124 1392.1,45.9 1394.4,45.9 1394.6,124 1394.9,197 1395.6,150 1396.2,124 1396.7,45.9 1401,45.9 1401.6,124 1402,168 1402.9,124 1403.3,45.9 1405.2,45.9 1405.9,124 1406.4,150 1407.7,174 1408.5,188.5 1409.3,174 1410.8,150 1411.1,124 1411.3,45.9 1416.5,45.9 1416.6,124 1417,150 1418.6,203.6 1420.5,150 1421.1,124 1421.2,45.9 1432,45.9 1432.9,150 1433.9,230 1434.1,250.6" fill="#ffd800" stroke="#ffd800" stroke-width="0.8" stroke-linejoin="round" stroke-opacity="0.95"/>
</g>
<polygon points="1387.2,250.6 1387.9,230 1391,150 1391.6,124 1392.1,45.9 1394.4,45.9 1394.6,124 1394.9,197 1395.6,150 1396.2,124 1396.7,45.9 1401,45.9 1401.6,124 1402,168 1402.9,124 1403.3,45.9 1405.2,45.9 1405.9,124 1406.4,150 1407.7,174 1408.5,188.5 1409.3,174 1410.8,150 1411.1,124 1411.3,45.9 1416.5,45.9 1416.6,124 1417,150 1418.6,203.6 1420.5,150 1421.1,124 1421.2,45.9 1432,45.9 1432.9,150 1433.9,230 1434.1,250.6" fill="#800000" stroke="#d01800" stroke-width="0.3" stroke-linejoin="round"/>
</g>
<linearGradient id="g3" gradientUnits="userSpaceOnUse" x1="0" y1="140" x2="0" y2="188.5"><stop offset="0" stop-color="#0060ff" stop-opacity="0"/><stop offset="0.3" stop-color="#00a0ff" stop-opacity="0.9"/><stop offset="0.55" stop-color="#60ffa0"/><stop offset="0.75" stop-color="#ffe000"/><stop offset="1" stop-color="#ff4000"/></linearGradient>
<polygon points="1406.6,140 1410.6,140 1408.5,189" fill="url(#g3)" clip-path="url(#c1)"/>
<linearGradient id="g4" gradientUnits="userSpaceOnUse" x1="0" y1="165" x2="0" y2="203.6"><stop offset="0" stop-color="#0060ff" stop-opacity="0"/><stop offset="0.3" stop-color="#00a0ff" stop-opacity="0.9"/><stop offset="0.55" stop-color="#60ffa0"/><stop offset="0.75" stop-color="#ffe000"/><stop offset="1" stop-color="#ff4000"/></linearGradient>
<polygon points="1417.4,165 1420.2,165 1418.6,204.1" fill="url(#g4)" clip-path="url(#c1)"/>
<linearGradient id="g1" gradientUnits="userSpaceOnUse" x1="0" y1="165" x2="0" y2="197"><stop offset="0" stop-color="#0060ff" stop-opacity="0"/><stop offset="0.3" stop-color="#00a0ff" stop-opacity="0.9"/><stop offset="0.55" stop-color="#60ffa0"/><stop offset="0.75" stop-color="#ffe000"/><stop offset="1" stop-color="#ff4000"/></linearGradient>
<polygon points="1394.7,165 1395.5,165 1394.9,197.5" fill="url(#g1)" clip-path="url(#c1)"/>
<linearGradient id="gd" gradientUnits="userSpaceOnUse" x1="0" y1="192" x2="0" y2="213.5"><stop offset="0" stop-color="#0060ff" stop-opacity="0"/><stop offset="0.3" stop-color="#00a0ff" stop-opacity="0.9"/><stop offset="0.55" stop-color="#60ffa0"/><stop offset="0.75" stop-color="#ffe000"/><stop offset="1" stop-color="#ff4000"/></linearGradient>
<polygon points="1325.6,192 1326.9,192 1326.2,214" fill="url(#gd)" clip-path="url(#c1)"/>
<rect x="1398.6" y="45.9" width="0.7" height="20" fill="#3010a0" opacity="0.6"/>
<clipPath id="c2"><rect x="839.9" y="330.1" width="603.4" height="204.5"/></clipPath>
<rect x="839.9" y="330.1" width="603.4" height="204.5" fill="#00008f"/>
<g clip-path="url(#c2)">
<linearGradient id="m1h" gradientUnits="userSpaceOnUse" x1="0" y1="390" x2="0" y2="534.6"><stop offset="0" stop-color="#0040ff" stop-opacity="0"/><stop offset="0.15" stop-color="#0070ff" stop-opacity="0.8"/><stop offset="1" stop-color="#00a0ff" stop-opacity="0.9"/></linearGradient>
<polygon points="884.6,389 885.9,467 886.2,534.6 880.6,534.6 881.8,467" fill="url(#m1h)"/>
<linearGradient id="m1" gradientUnits="userSpaceOnUse" x1="0" y1="394" x2="0" y2="534.6"><stop offset="0" stop-color="#0080ff"/><stop offset="0.12" stop-color="#00c8ff"/><stop offset="0.3" stop-color="#60ffa0"/><stop offset="0.48" stop-color="#e0ff20"/><stop offset="0.68" stop-color="#a8ff58"/><stop offset="0.88" stop-color="#40ffc0"/><stop offset="1" stop-color="#70ff90"/></linearGradient>
<polygon points="884.5,394 885.2,467 885.5,534.6 881.3,534.6 882.5,467" fill="url(#m1)"/>
<path d="M883.7 486L883.4 527" stroke="#0070e8" stroke-width="0.8" stroke-opacity="0.85" fill="none"/>
<linearGradient id="s2" gradientUnits="userSpaceOnUse" x1="0" y1="436" x2="0" y2="530"><stop offset="0" stop-color="#00d0ff" stop-opacity="0"/><stop offset="0.3" stop-color="#00d0ff" stop-opacity="0.85"/><stop offset="0.7" stop-color="#00b0ff" stop-opacity="0.85"/><stop offset="1" stop-color="#0050ff" stop-opacity="0"/></linearGradient>
<ellipse cx="888.3" cy="483" rx="1" ry="47" fill="url(#s2)"/>
<linearGradient id="s3" gradientUnits="userSpaceOnUse" x1="0" y1="483" x2="0" y2="513"><stop offset="0" stop-color="#0030e0" stop-opacity="0"/><stop offset="0.5" stop-color="#0030e0" stop-opacity="0.5"/><stop offset="1" stop-color="#0030e0" stop-opacity="0"/></linearGradient>
<ellipse cx="870" cy="498" rx="0.7" ry="15" fill="url(#s3)"/>
<linearGradient id="s4" gradientUnits="userSpaceOnUse" x1="0" y1="368" x2="0" y2="517"><stop offset="0" stop-color="#0050ff" stop-opacity="0"/><stop offset="0.35" stop-color="#0080ff" stop-opacity="0.9"/><stop offset="0.6" stop-color="#00a0ff" stop-opacity="0.95"/><stop offset="1" stop-color="#0050ff" stop-opacity="0"/></linearGradient>
<ellipse cx="927.7" cy="442.5" rx="0.8" ry="74.5" fill="url(#s4)"/>
<linearGradient id="s5" gradientUnits="userSpaceOnUse" x1="0" y1="466" x2="0" y2="534.6"><stop offset="0" stop-color="#0050ff" stop-opacity="0"/><stop offset="0.5" stop-color="#0070ff" stop-opacity="0.9"/><stop offset="1" stop-color="#0098ff" stop-opacity="1"/></linearGradient>
<ellipse cx="922.7" cy="534.6" rx="1" ry="68.6" fill="url(#s5)"/>
<linearGradient id="s6" gradientUnits="userSpaceOnUse" x1="0" y1="476" x2="0" y2="534.6"><stop offset="0" stop-color="#0050ff" stop-opacity="0"/><stop offset="0.5" stop-color="#0080ff" stop-opacity="0.9"/><stop offset="1" stop-color="#00b8ff" stop-opacity="1"/></linearGradient>
<ellipse cx="933" cy="534.6" rx="1.1" ry="58.6" fill="url(#s6)"/>
<linearGradient id="s7" gradientUnits="userSpaceOnUse" x1="0" y1="393" x2="0" y2="446"><stop offset="0" stop-color="#0030e0" stop-opacity="0"/><stop offset="0.5" stop-color="#0030e0" stop-opacity="0.5"/><stop offset="1" stop-color="#0030e0" stop-opacity="0"/></linearGradient>
<ellipse cx="934.8" cy="419.5" rx="0.6" ry="26.5" fill="url(#s7)"/>
<linearGradient id="s8" gradientUnits="userSpaceOnUse" x1="0" y1="391" x2="0" y2="458"><stop offset="0" stop-color="#0030e0" stop-opacity="0"/><stop offset="0.5" stop-color="#0030e0" stop-opacity="0.45"/><stop offset="1" stop-color="#0030e0" stop-opacity="0"/></linearGradient>
<ellipse cx="979.5" cy="424.5" rx="0.6" ry="33.5" fill="url(#s8)"/>
<linearGradient id="s9" gradientUnits="userSpaceOnUse" x1="0" y1="330.1" x2="0" y2="534.6"><stop offset="0" stop-color="#0058ff" stop-opacity="0.75"/><stop offset="0.6" stop-color="#0048f0" stop-opacity="0.65"/><stop offset="0.8" stop-color="#0078ff" stop-opacity="0.85"/><stop offset="1" stop-color="#0040f0" stop-opacity="0.7"/></linearGradient>
<rect x="988" y="330.1" width="1" height="204.5" fill="url(#s9)"/>
<linearGradient id="s10" gradientUnits="userSpaceOnUse" x1="0" y1="418" x2="0" y2="520"><stop offset="0" stop-color="#0050ff" stop-opacity="0"/><stop offset="0.25" stop-color="#00b0ff" stop-opacity="0.9"/><stop offset="0.5" stop-color="#20f0ff" stop-opacity="1"/><stop offset="0.75" stop-color="#00b0ff" stop-opacity="0.9"/><stop offset="1" stop-color="#0050ff" stop-opacity="0"/></linearGradient>
<ellipse cx="999.1" cy="469" rx="1" ry="51" fill="url(#s10)"/>
<linearGradient id="s11" gradientUnits="userSpaceOnUse" x1="0" y1="481" x2="0" y2="517"><stop offset="0" stop-color="#0030e0" stop-opacity="0"/><stop offset="0.5" stop-color="#0030e0" stop-opacity="0.45"/><stop offset="1" stop-color="#0030e0" stop-opacity="0"/></linearGradient>
<ellipse cx="1010.4" cy="499" rx="0.6" ry="18" fill="url(#s11)"/>
<linearGradient id="s13" gradientUnits="userSpaceOnUse" x1="0" y1="431" x2="0" y2="502"><stop offset="0" stop-color="#0030e0" stop-opacity="0"/><stop offset="0.5" stop-color="#0040f0" stop-opacity="0.6"/><stop offset="1" stop-color="#0030e0" stop-opacity="0"/></linearGradient>
<ellipse cx="1030.7" cy="466.5" rx="0.7" ry="35.5" fill="url(#s13)"/>
<linearGradient id="s14" gradientUnits="userSpaceOnUse" x1="0" y1="330.1" x2="0" y2="534.6"><stop offset="0" stop-color="#c82800" stop-opacity="1"/><stop offset="0.42" stop-color="#f04800" stop-opacity="1"/><stop offset="0.56" stop-color="#ffe000" stop-opacity="1"/><stop offset="0.66" stop-color="#80ff80" stop-opacity="1"/><stop offset="0.78" stop-color="#00e0ff" stop-opacity="1"/><stop offset="1" stop-color="#0090ff" stop-opacity="1"/></linearGradient>
<rect x="1036" y="330.1" width="1.4" height="204.5" fill="url(#s14)"/>
<linearGradient id="s15" gradientUnits="userSpaceOnUse" x1="0" y1="330.1" x2="0" y2="376"><stop offset="0" stop-color="#0090ff" stop-opacity="0.95"/><stop offset="0.5" stop-color="#0050ff" stop-opacity="0.6"/><stop offset="1" stop-color="#0050ff" stop-opacity="0"/></linearGradient>
<ellipse cx="1050.4" cy="330.1" rx="0.6" ry="45.9" fill="url(#s15)"/>
<linearGradient id="s16" gradientUnits="userSpaceOnUse" x1="0" y1="421" x2="0" y2="497"><stop offset="0" stop-color="#0050ff" stop-opacity="0"/><stop offset="0.4" stop-color="#0070ff" stop-opacity="0.85"/><stop offset="1" stop-color="#0050ff" stop-opacity="0"/></linearGradient>
<ellipse cx="1090.6" cy="459" rx="0.7" ry="38" fill="url(#s16)"/>
<linearGradient id="s17" gradientUnits="userSpaceOnUse" x1="0" y1="330.1" x2="0" y2="426"><stop offset="0" stop-color="#00b0ff" stop-opacity="1"/><stop offset="0.4" stop-color="#0070ff" stop-opacity="0.7"/><stop offset="1" stop-color="#0050ff" stop-opacity="0"/></linearGradient>
<ellipse cx="1123.5" cy="330.1" rx="0.6" ry="95.9" fill="url(#s17)"/>
<linearGradient id="s18" gradientUnits="userSpaceOnUse" x1="0" y1="509" x2="0" y2="534.6"><stop offset="0" stop-color="#0030e0" stop-opacity="0"/><stop offset="1" stop-color="#0030e0" stop-opacity="0.5"/></linearGradient>
<ellipse cx="1103.2" cy="534.6" rx="0.6" ry="25.6" fill="url(#s18)"/>
<linearGradient id="s19" gradientUnits="userSpaceOnUse" x1="0" y1="330.1" x2="0" y2="502"><stop offset="0" stop-color="#0080ff" stop-opacity="0.95"/><stop offset="0.6" stop-color="#0060ff" stop-opacity="0.8"/><stop offset="1" stop-color="#0050ff" stop-opacity="0"/></linearGradient>
<ellipse cx="1154.3" cy="330.1" rx="0.6" ry="171.9" fill="url(#s19)"/>
<linearGradient id="s20" gradientUnits="userSpaceOnUse" x1="0" y1="330.1" x2="0" y2="408"><stop offset="0" stop-color="#0060ff" stop-opacity="0.8"/><stop offset="0.5" stop-color="#0050ff" stop-opacity="0.5"/><stop offset="1" stop-color="#0050ff" stop-opacity="0"/></linearGradient>
<ellipse cx="1204.4" cy="330.1" rx="0.6" ry="77.9" fill="url(#s20)"/>
<linearGradient id="s21" gradientUnits="userSpaceOnUse" x1="0" y1="451" x2="0" y2="534.6"><stop offset="0" stop-color="#0050ff" stop-opacity="0"/><stop offset="0.45" stop-color="#0090ff" stop-opacity="0.95"/><stop offset="0.75" stop-color="#0080ff" stop-opacity="0.9"/><stop offset="1" stop-color="#0040e0" stop-opacity="0.7"/></linearGradient>
<ellipse cx="1198.6" cy="534.6" rx="1" ry="83.6" fill="url(#s21)"/>
<linearGradient id="s22" gradientUnits="userSpaceOnUse" x1="0" y1="406" x2="0" y2="446"><stop offset="0" stop-color="#0030e0" stop-opacity="0"/><stop offset="0.5" stop-color="#0030e0" stop-opacity="0.35"/><stop offset="1" stop-color="#0030e0" stop-opacity="0"/></linearGradient>
<ellipse cx="1242" cy="426" rx="0.6" ry="20" fill="url(#s22)"/>
<linearGradient id="s23" gradientUnits="userSpaceOnUse" x1="0" y1="330.1" x2="0" y2="441"><stop offset="0" stop-color="#0040e0" stop-opacity="0.8"/><stop offset="0.6" stop-color="#0030e0" stop-opacity="0.5"/><stop offset="1" stop-color="#0030e0" stop-opacity="0"/></linearGradient>
<ellipse cx="1378.1" cy="330.1" rx="0.6" ry="110.9" fill="url(#s23)"/>
<linearGradient id="s24" gradientUnits="userSpaceOnUse" x1="0" y1="505" x2="0" y2="534.6"><stop offset="0" stop-color="#0030e0" stop-opacity="0"/><stop offset="1" stop-color="#0030e0" stop-opacity="0.4"/></linearGradient>
<ellipse cx="1102" cy="534.6" rx="0.6" ry="29.6" fill="url(#s24)"/>
<linearGradient id="s12" gradientUnits="userSpaceOnUse" x1="0" y1="390" x2="0" y2="534.6"><stop offset="0" stop-color="#0050ff" stop-opacity="0"/><stop offset="0.4" stop-color="#0060ff" stop-opacity="0.85"/><stop offset="1" stop-color="#0080ff" stop-opacity="0.95"/></linearGradient>
<path d="M1019.5 390 Q1018.6 470 1016 534.6" stroke="url(#s12)" stroke-width="1.3" fill="none"/>
</g>
<rect x="839.9" y="613.9" width="603.4" height="204.3" fill="#00008f"/>
<rect x="47" y="46" width="602.5" height="204.4" fill="none" stroke="#000" stroke-width="0.7" stroke-opacity="0.5"/>
<text x="47" y="265" text-anchor="middle" font-size="12.3">00:00</text>
<line x1="122.31" y1="250.4" x2="122.31" y2="244" stroke="#000" stroke-width="0.7" stroke-opacity="0.5"/>
<line x1="122.31" y1="46" x2="122.31" y2="52.4" stroke="#000" stroke-width="0.7" stroke-opacity="0.5"/>
<text x="122.31" y="265" text-anchor="middle" font-size="12.3">03:00</text>
<line x1="197.62" y1="250.4" x2="197.62" y2="244" stroke="#000" stroke-width="0.7" stroke-opacity="0.5"/>
<line x1="197.62" y1="46" x2="197.62" y2="52.4" stroke="#000" stroke-width="0.7" stroke-opacity="0.5"/>
<text x="197.62" y="265" text-anchor="middle" font-size="12.3">06:00</text>
<line x1="272.94" y1="250.4" x2="272.94" y2="244" stroke="#000" stroke-width="0.7" stroke-opacity="0.5"/>
<line x1="272.94" y1="46" x2="272.94" y2="52.4" stroke="#000" stroke-width="0.7" stroke-opacity="0.5"/>
<text x="272.94" y="265" text-anchor="middle" font-size="12.3">09:00</text>
<line x1="348.25" y1="250.4" x2="348.25" y2="244" stroke="#000" stroke-width="0.7" stroke-opacity="0.5"/>
<line x1="348.25" y1="46" x2="348.25" y2="52.4" stroke="#000" stroke-width="0.7" stroke-opacity="0.5"/>
<text x="348.25" y="265" text-anchor="middle" font-size="12.3">12:00</text>
<line x1="423.56" y1="250.4" x2="423.56" y2="244" stroke="#000" stroke-width="0.7" stroke-opacity="0.5"/>
<line x1="423.56" y1="46" x2="423.56" y2="52.4" stroke="#000" stroke-width="0.7" stroke-opacity="0.5"/>
<text x="423.56" y="265" text-anchor="middle" font-size="12.3">15:00</text>
<line x1="498.88" y1="250.4" x2="498.88" y2="244" stroke="#000" stroke-width="0.7" stroke-opacity="0.5"/>
<line x1="498.88" y1="46" x2="498.88" y2="52.4" stroke="#000" stroke-width="0.7" stroke-opacity="0.5"/>
<text x="498.88" y="265" text-anchor="middle" font-size="12.3">18:00</text>
<line x1="574.19" y1="250.4" x2="574.19" y2="244" stroke="#000" stroke-width="0.7" stroke-opacity="0.5"/>
<line x1="574.19" y1="46" x2="574.19" y2="52.4" stroke="#000" stroke-width="0.7" stroke-opacity="0.5"/>
<text x="574.19" y="265" text-anchor="middle" font-size="12.3">21:00</text>
<text x="649.5" y="265" text-anchor="middle" font-size="12.3">00:00</text>
<text x="43.1" y="50.4" text-anchor="end" font-size="12.3">400</text>
<line x1="47" y1="97.1" x2="53.4" y2="97.1" stroke="#000" stroke-width="0.7" stroke-opacity="0.5"/>
<line x1="649.5" y1="97.1" x2="643.1" y2="97.1" stroke="#000" stroke-width="0.7" stroke-opacity="0.5"/>
<text x="43.1" y="101.5" text-anchor="end" font-size="12.3">200</text>
<line x1="47" y1="148.2" x2="53.4" y2="148.2" stroke="#000" stroke-width="0.7" stroke-opacity="0.5"/>
<line x1="649.5" y1="148.2" x2="643.1" y2="148.2" stroke="#000" stroke-width="0.7" stroke-opacity="0.5"/>
<text x="43.1" y="152.6" text-anchor="end" font-size="12.3">0</text>
<line x1="47" y1="199.3" x2="53.4" y2="199.3" stroke="#000" stroke-width="0.7" stroke-opacity="0.5"/>
<line x1="649.5" y1="199.3" x2="643.1" y2="199.3" stroke="#000" stroke-width="0.7" stroke-opacity="0.5"/>
<text x="43.1" y="203.7" text-anchor="end" font-size="12.3">-200</text>
<text x="43.1" y="254.8" text-anchor="end" font-size="12.3">-400</text>
<text x="9.4" y="148.2" text-anchor="middle" font-size="12.45" font-weight="bold" transform="rotate(-90 9.4 148.2)">X (nT)</text>
<rect x="47" y="330.2" width="602.5" height="204.2" fill="none" stroke="#000" stroke-width="0.7" stroke-opacity="0.5"/>
<text x="47" y="549" text-anchor="middle" font-size="12.3">00:00</text>
<line x1="122.31" y1="534.4" x2="122.31" y2="528" stroke="#000" stroke-width="0.7" stroke-opacity="0.5"/>
<line x1="122.31" y1="330.2" x2="122.31" y2="336.6" stroke="#000" stroke-width="0.7" stroke-opacity="0.5"/>
<text x="122.31" y="549" text-anchor="middle" font-size="12.3">03:00</text>
<line x1="197.62" y1="534.4" x2="197.62" y2="528" stroke="#000" stroke-width="0.7" stroke-opacity="0.5"/>
<line x1="197.62" y1="330.2" x2="197.62" y2="336.6" stroke="#000" stroke-width="0.7" stroke-opacity="0.5"/>
<text x="197.62" y="549" text-anchor="middle" font-size="12.3">06:00</text>
<line x1="272.94" y1="534.4" x2="272.94" y2="528" stroke="#000" stroke-width="0.7" stroke-opacity="0.5"/>
<line x1="272.94" y1="330.2" x2="272.94" y2="336.6" stroke="#000" stroke-width="0.7" stroke-opacity="0.5"/>
<text x="272.94" y="549" text-anchor="middle" font-size="12.3">09:00</text>
<line x1="348.25" y1="534.4" x2="348.25" y2="528" stroke="#000" stroke-width="0.7" stroke-opacity="0.5"/>
<line x1="348.25" y1="330.2" x2="348.25" y2="336.6" stroke="#000" stroke-width="0.7" stroke-opacity="0.5"/>
<text x="348.25" y="549" text-anchor="middle" font-size="12.3">12:00</text>
<line x1="423.56" y1="534.4" x2="423.56" y2="528" stroke="#000" stroke-width="0.7" stroke-opacity="0.5"/>
<line x1="423.56" y1="330.2" x2="423.56" y2="336.6" stroke="#000" stroke-width="0.7" stroke-opacity="0.5"/>
<text x="423.56" y="549" text-anchor="middle" font-size="12.3">15:00</text>
<line x1="498.88" y1="534.4" x2="498.88" y2="528" stroke="#000" stroke-width="0.7" stroke-opacity="0.5"/>
<line x1="498.88" y1="330.2" x2="498.88" y2="336.6" stroke="#000" stroke-width="0.7" stroke-opacity="0.5"/>
<text x="498.88" y="549" text-anchor="middle" font-size="12.3">18:00</text>
<line x1="574.19" y1="534.4" x2="574.19" y2="528" stroke="#000" stroke-width="0.7" stroke-opacity="0.5"/>
<line x1="574.19" y1="330.2" x2="574.19" y2="336.6" stroke="#000" stroke-width="0.7" stroke-opacity="0.5"/>
<text x="574.19" y="549" text-anchor="middle" font-size="12.3">21:00</text>
<text x="649.5" y="549" text-anchor="middle" font-size="12.3">00:00</text>
<text x="43.1" y="334.6" text-anchor="end" font-size="12.3">6</text>
<line x1="47" y1="364.23" x2="53.4" y2="364.23" stroke="#000" stroke-width="0.7" stroke-opacity="0.5"/>
<line x1="649.5" y1="364.23" x2="643.1" y2="364.23" stroke="#000" stroke-width="0.7" stroke-opacity="0.5"/>
<text x="43.1" y="368.63" text-anchor="end" font-size="12.3">4</text>
<line x1="47" y1="398.27" x2="53.4" y2="398.27" stroke="#000" stroke-width="0.7" stroke-opacity="0.5"/>
<line x1="649.5" y1="398.27" x2="643.1" y2="398.27" stroke="#000" stroke-width="0.7" stroke-opacity="0.5"/>
<text x="43.1" y="402.67" text-anchor="end" font-size="12.3">2</text>
<line x1="47" y1="432.3" x2="53.4" y2="432.3" stroke="#000" stroke-width="0.7" stroke-opacity="0.5"/>
<line x1="649.5" y1="432.3" x2="643.1" y2="432.3" stroke="#000" stroke-width="0.7" stroke-opacity="0.5"/>
<text x="43.1" y="436.7" text-anchor="end" font-size="12.3">0</text>
<line x1="47" y1="466.33" x2="53.4" y2="466.33" stroke="#000" stroke-width="0.7" stroke-opacity="0.5"/>
<line x1="649.5" y1="466.33" x2="643.1" y2="466.33" stroke="#000" stroke-width="0.7" stroke-opacity="0.5"/>
<text x="43.1" y="470.73" text-anchor="end" font-size="12.3">-2</text>
<line x1="47" y1="500.37" x2="53.4" y2="500.37" stroke="#000" stroke-width="0.7" stroke-opacity="0.5"/>
<line x1="649.5" y1="500.37" x2="643.1" y2="500.37" stroke="#000" stroke-width="0.7" stroke-opacity="0.5"/>
<text x="43.1" y="504.77" text-anchor="end" font-size="12.3">-4</text>
<text x="43.1" y="538.8" text-anchor="end" font-size="12.3">-6</text>
<text x="23" y="432.7" text-anchor="middle" font-size="12.45" font-weight="bold" transform="rotate(-90 23 432.7)">Y (nT)</text>
<rect x="47" y="614" width="602.5" height="204" fill="none" stroke="#000" stroke-width="0.7" stroke-opacity="0.5"/>
<text x="47" y="832.6" text-anchor="middle" font-size="12.3">00:00</text>
<line x1="122.31" y1="818" x2="122.31" y2="811.6" stroke="#000" stroke-width="0.7" stroke-opacity="0.5"/>
<line x1="122.31" y1="614" x2="122.31" y2="620.4" stroke="#000" stroke-width="0.7" stroke-opacity="0.5"/>
<text x="122.31" y="832.6" text-anchor="middle" font-size="12.3">03:00</text>
<line x1="197.62" y1="818" x2="197.62" y2="811.6" stroke="#000" stroke-width="0.7" stroke-opacity="0.5"/>
<line x1="197.62" y1="614" x2="197.62" y2="620.4" stroke="#000" stroke-width="0.7" stroke-opacity="0.5"/>
<text x="197.62" y="832.6" text-anchor="middle" font-size="12.3">06:00</text>
<line x1="272.94" y1="818" x2="272.94" y2="811.6" stroke="#000" stroke-width="0.7" stroke-opacity="0.5"/>
<line x1="272.94" y1="614" x2="272.94" y2="620.4" stroke="#000" stroke-width="0.7" stroke-opacity="0.5"/>
<text x="272.94" y="832.6" text-anchor="middle" font-size="12.3">09:00</text>
<line x1="348.25" y1="818" x2="348.25" y2="811.6" stroke="#000" stroke-width="0.7" stroke-opacity="0.5"/>
<line x1="348.25" y1="614" x2="348.25" y2="620.4" stroke="#000" stroke-width="0.7" stroke-opacity="0.5"/>
<text x="348.25" y="832.6" text-anchor="middle" font-size="12.3">12:00</text>
<line x1="423.56" y1="818" x2="423.56" y2="811.6" stroke="#000" stroke-width="0.7" stroke-opacity="0.5"/>
<line x1="423.56" y1="614" x2="423.56" y2="620.4" stroke="#000" stroke-width="0.7" stroke-opacity="0.5"/>
<text x="423.56" y="832.6" text-anchor="middle" font-size="12.3">15:00</text>
<line x1="498.88" y1="818" x2="498.88" y2="811.6" stroke="#000" stroke-width="0.7" stroke-opacity="0.5"/>
<line x1="498.88" y1="614" x2="498.88" y2="620.4" stroke="#000" stroke-width="0.7" stroke-opacity="0.5"/>
<text x="498.88" y="832.6" text-anchor="middle" font-size="12.3">18:00</text>
<line x1="574.19" y1="818" x2="574.19" y2="811.6" stroke="#000" stroke-width="0.7" stroke-opacity="0.5"/>
<line x1="574.19" y1="614" x2="574.19" y2="620.4" stroke="#000" stroke-width="0.7" stroke-opacity="0.5"/>
<text x="574.19" y="832.6" text-anchor="middle" font-size="12.3">21:00</text>
<text x="649.5" y="832.6" text-anchor="middle" font-size="12.3">00:00</text>
<text x="43.1" y="618.4" text-anchor="end" font-size="12.3">-3.5</text>
<line x1="47" y1="648" x2="53.4" y2="648" stroke="#000" stroke-width="0.7" stroke-opacity="0.5"/>
<line x1="649.5" y1="648" x2="643.1" y2="648" stroke="#000" stroke-width="0.7" stroke-opacity="0.5"/>
<text x="43.1" y="652.4" text-anchor="end" font-size="12.3">-4</text>
<line x1="47" y1="682" x2="53.4" y2="682" stroke="#000" stroke-width="0.7" stroke-opacity="0.5"/>
<line x1="649.5" y1="682" x2="643.1" y2="682" stroke="#000" stroke-width="0.7" stroke-opacity="0.5"/>
<text x="43.1" y="686.4" text-anchor="end" font-size="12.3">-4.5</text>
<line x1="47" y1="716" x2="53.4" y2="716" stroke="#000" stroke-width="0.7" stroke-opacity="0.5"/>
<line x1="649.5" y1="716" x2="643.1" y2="716" stroke="#000" stroke-width="0.7" stroke-opacity="0.5"/>
<text x="43.1" y="720.4" text-anchor="end" font-size="12.3">-5</text>
<line x1="47" y1="750" x2="53.4" y2="750" stroke="#000" stroke-width="0.7" stroke-opacity="0.5"/>
<line x1="649.5" y1="750" x2="643.1" y2="750" stroke="#000" stroke-width="0.7" stroke-opacity="0.5"/>
<text x="43.1" y="754.4" text-anchor="end" font-size="12.3">-5.5</text>
<line x1="47" y1="784" x2="53.4" y2="784" stroke="#000" stroke-width="0.7" stroke-opacity="0.5"/>
<line x1="649.5" y1="784" x2="643.1" y2="784" stroke="#000" stroke-width="0.7" stroke-opacity="0.5"/>
<text x="43.1" y="788.4" text-anchor="end" font-size="12.3">-6</text>
<text x="43.1" y="822.4" text-anchor="end" font-size="12.3">-6.5</text>
<text x="12.7" y="716" text-anchor="middle" font-size="12.45" font-weight="bold" transform="rotate(-90 12.7 716)">Z (nT)</text>
<text x="46.4" y="608.2" font-size="12">x 10<tspan dy="-7.6" font-size="10">-6</tspan></text>
<text x="348.2" y="847.8" text-anchor="middle" font-size="12.45" font-weight="bold">UT (hours)</text>
<text x="840.2" y="265" text-anchor="middle" font-size="12.3">00:00</text>
<line x1="915.51" y1="250.4" x2="915.51" y2="244" stroke="#000" stroke-width="0.7" stroke-opacity="0.62"/>
<line x1="915.51" y1="46" x2="915.51" y2="52.4" stroke="#000" stroke-width="0.7" stroke-opacity="0.62"/>
<text x="915.51" y="265" text-anchor="middle" font-size="12.3">03:00</text>
<line x1="990.83" y1="250.4" x2="990.83" y2="244" stroke="#000" stroke-width="0.7" stroke-opacity="0.62"/>
<line x1="990.83" y1="46" x2="990.83" y2="52.4" stroke="#000" stroke-width="0.7" stroke-opacity="0.62"/>
<text x="990.83" y="265" text-anchor="middle" font-size="12.3">06:00</text>
<line x1="1066.14" y1="250.4" x2="1066.14" y2="244" stroke="#000" stroke-width="0.7" stroke-opacity="0.62"/>
<line x1="1066.14" y1="46" x2="1066.14" y2="52.4" stroke="#000" stroke-width="0.7" stroke-opacity="0.62"/>
<text x="1066.14" y="265" text-anchor="middle" font-size="12.3">09:00</text>
<line x1="1141.45" y1="250.4" x2="1141.45" y2="244" stroke="#000" stroke-width="0.7" stroke-opacity="0.62"/>
<line x1="1141.45" y1="46" x2="1141.45" y2="52.4" stroke="#000" stroke-width="0.7" stroke-opacity="0.62"/>
<text x="1141.45" y="265" text-anchor="middle" font-size="12.3">12:00</text>
<line x1="1216.76" y1="250.4" x2="1216.76" y2="244" stroke="#000" stroke-width="0.7" stroke-opacity="0.62"/>
<line x1="1216.76" y1="46" x2="1216.76" y2="52.4" stroke="#000" stroke-width="0.7" stroke-opacity="0.62"/>
<text x="1216.76" y="265" text-anchor="middle" font-size="12.3">15:00</text>
<line x1="1292.08" y1="250.4" x2="1292.08" y2="244" stroke="#000" stroke-width="0.7" stroke-opacity="0.62"/>
<line x1="1292.08" y1="46" x2="1292.08" y2="52.4" stroke="#000" stroke-width="0.7" stroke-opacity="0.62"/>
<text x="1292.08" y="265" text-anchor="middle" font-size="12.3">18:00</text>
<line x1="1367.39" y1="250.4" x2="1367.39" y2="244" stroke="#000" stroke-width="0.7" stroke-opacity="0.62"/>
<line x1="1367.39" y1="46" x2="1367.39" y2="52.4" stroke="#000" stroke-width="0.7" stroke-opacity="0.62"/>
<text x="1367.39" y="265" text-anchor="middle" font-size="12.3">21:00</text>
<text x="1442.7" y="265" text-anchor="middle" font-size="12.3">00:00</text>
<line x1="840.2" y1="48.2" x2="846.6" y2="48.2" stroke="#000" stroke-width="0.7" stroke-opacity="0.62"/>
<line x1="1442.7" y1="48.2" x2="1436.3" y2="48.2" stroke="#000" stroke-width="0.7" stroke-opacity="0.62"/>
<text x="836.3" y="52.6" text-anchor="end" font-size="12.3">22</text>
<line x1="840.2" y1="64.85" x2="846.6" y2="64.85" stroke="#000" stroke-width="0.7" stroke-opacity="0.62"/>
<line x1="1442.7" y1="64.85" x2="1436.3" y2="64.85" stroke="#000" stroke-width="0.7" stroke-opacity="0.62"/>
<text x="836.3" y="69.25" text-anchor="end" font-size="12.3">20</text>
<line x1="840.2" y1="83.25" x2="846.6" y2="83.25" stroke="#000" stroke-width="0.7" stroke-opacity="0.62"/>
<line x1="1442.7" y1="83.25" x2="1436.3" y2="83.25" stroke="#000" stroke-width="0.7" stroke-opacity="0.62"/>
<text x="836.3" y="87.65" text-anchor="end" font-size="12.3">18</text>
<line x1="840.2" y1="103.82" x2="846.6" y2="103.82" stroke="#000" stroke-width="0.7" stroke-opacity="0.62"/>
<line x1="1442.7" y1="103.82" x2="1436.3" y2="103.82" stroke="#000" stroke-width="0.7" stroke-opacity="0.62"/>
<text x="836.3" y="108.22" text-anchor="end" font-size="12.3">16</text>
<line x1="840.2" y1="127.14" x2="846.6" y2="127.14" stroke="#000" stroke-width="0.7" stroke-opacity="0.62"/>
<line x1="1442.7" y1="127.14" x2="1436.3" y2="127.14" stroke="#000" stroke-width="0.7" stroke-opacity="0.62"/>
<text x="836.3" y="131.54" text-anchor="end" font-size="12.3">14</text>
<line x1="840.2" y1="154.06" x2="846.6" y2="154.06" stroke="#000" stroke-width="0.7" stroke-opacity="0.62"/>
<line x1="1442.7" y1="154.06" x2="1436.3" y2="154.06" stroke="#000" stroke-width="0.7" stroke-opacity="0.62"/>
<text x="836.3" y="158.46" text-anchor="end" font-size="12.3">12</text>
<line x1="840.2" y1="185.9" x2="846.6" y2="185.9" stroke="#000" stroke-width="0.7" stroke-opacity="0.62"/>
<line x1="1442.7" y1="185.9" x2="1436.3" y2="185.9" stroke="#000" stroke-width="0.7" stroke-opacity="0.62"/>
<text x="836.3" y="190.3" text-anchor="end" font-size="12.3">10</text>
<line x1="840.2" y1="204.31" x2="846.6" y2="204.31" stroke="#000" stroke-width="0.7" stroke-opacity="0.62"/>
<line x1="1442.7" y1="204.31" x2="1436.3" y2="204.31" stroke="#000" stroke-width="0.7" stroke-opacity="0.62"/>
<text x="836.3" y="208.71" text-anchor="end" font-size="12.3">9</text>
<line x1="840.2" y1="224.88" x2="846.6" y2="224.88" stroke="#000" stroke-width="0.7" stroke-opacity="0.62"/>
<line x1="1442.7" y1="224.88" x2="1436.3" y2="224.88" stroke="#000" stroke-width="0.7" stroke-opacity="0.62"/>
<text x="836.3" y="229.28" text-anchor="end" font-size="12.3">8</text>
<line x1="840.2" y1="248.2" x2="846.6" y2="248.2" stroke="#000" stroke-width="0.7" stroke-opacity="0.62"/>
<line x1="1442.7" y1="248.2" x2="1436.3" y2="248.2" stroke="#000" stroke-width="0.7" stroke-opacity="0.62"/>
<text x="836.3" y="252.6" text-anchor="end" font-size="12.3">7</text>
<text x="813.7" y="148.2" text-anchor="middle" font-size="12.45" font-weight="bold" transform="rotate(-90 813.7 148.2)">freq (mHz)</text>
<rect x="1462" y="45.7" width="25" height="205" fill="url(#jet)"/>
<text x="1490.7" y="50.3" text-anchor="start" font-size="12.3">4</text>
<line x1="1487" y1="80.07" x2="1484" y2="80.07" stroke="#000" stroke-width="0.7" stroke-opacity="0.55"/>
<text x="1490.7" y="84.37" text-anchor="start" font-size="12.3">3</text>
<line x1="1487" y1="114.13" x2="1484" y2="114.13" stroke="#000" stroke-width="0.7" stroke-opacity="0.55"/>
<text x="1490.7" y="118.43" text-anchor="start" font-size="12.3">2</text>
<line x1="1487" y1="148.2" x2="1484" y2="148.2" stroke="#000" stroke-width="0.7" stroke-opacity="0.55"/>
<text x="1490.7" y="152.5" text-anchor="start" font-size="12.3">1</text>
<line x1="1487" y1="182.27" x2="1484" y2="182.27" stroke="#000" stroke-width="0.7" stroke-opacity="0.55"/>
<text x="1490.7" y="186.57" text-anchor="start" font-size="12.3">0</text>
<line x1="1487" y1="216.33" x2="1484" y2="216.33" stroke="#000" stroke-width="0.7" stroke-opacity="0.55"/>
<text x="1490.7" y="220.63" text-anchor="start" font-size="12.3">-1</text>
<text x="1490.7" y="254.7" text-anchor="start" font-size="12.3">-2</text>
<text x="1522.6" y="148.2" text-anchor="middle" font-size="12.45" font-weight="bold" transform="rotate(-90 1522.6 148.2)">log<tspan dy="5.1" font-size="10">2</tspan><tspan dy="-5.1">(nT</tspan><tspan dy="-5.4" font-size="10">2</tspan><tspan dy="5.4">/Hz)</tspan></text>
<text x="840.2" y="549" text-anchor="middle" font-size="12.3">00:00</text>
<line x1="915.51" y1="534.4" x2="915.51" y2="528" stroke="#000" stroke-width="0.7" stroke-opacity="0.62"/>
<line x1="915.51" y1="330.2" x2="915.51" y2="336.6" stroke="#000" stroke-width="0.7" stroke-opacity="0.62"/>
<text x="915.51" y="549" text-anchor="middle" font-size="12.3">03:00</text>
<line x1="990.83" y1="534.4" x2="990.83" y2="528" stroke="#000" stroke-width="0.7" stroke-opacity="0.62"/>
<line x1="990.83" y1="330.2" x2="990.83" y2="336.6" stroke="#000" stroke-width="0.7" stroke-opacity="0.62"/>
<text x="990.83" y="549" text-anchor="middle" font-size="12.3">06:00</text>
<line x1="1066.14" y1="534.4" x2="1066.14" y2="528" stroke="#000" stroke-width="0.7" stroke-opacity="0.62"/>
<line x1="1066.14" y1="330.2" x2="1066.14" y2="336.6" stroke="#000" stroke-width="0.7" stroke-opacity="0.62"/>
<text x="1066.14" y="549" text-anchor="middle" font-size="12.3">09:00</text>
<line x1="1141.45" y1="534.4" x2="1141.45" y2="528" stroke="#000" stroke-width="0.7" stroke-opacity="0.62"/>
<line x1="1141.45" y1="330.2" x2="1141.45" y2="336.6" stroke="#000" stroke-width="0.7" stroke-opacity="0.62"/>
<text x="1141.45" y="549" text-anchor="middle" font-size="12.3">12:00</text>
<line x1="1216.76" y1="534.4" x2="1216.76" y2="528" stroke="#000" stroke-width="0.7" stroke-opacity="0.62"/>
<line x1="1216.76" y1="330.2" x2="1216.76" y2="336.6" stroke="#000" stroke-width="0.7" stroke-opacity="0.62"/>
<text x="1216.76" y="549" text-anchor="middle" font-size="12.3">15:00</text>
<line x1="1292.08" y1="534.4" x2="1292.08" y2="528" stroke="#000" stroke-width="0.7" stroke-opacity="0.62"/>
<line x1="1292.08" y1="330.2" x2="1292.08" y2="336.6" stroke="#000" stroke-width="0.7" stroke-opacity="0.62"/>
<text x="1292.08" y="549" text-anchor="middle" font-size="12.3">18:00</text>
<line x1="1367.39" y1="534.4" x2="1367.39" y2="528" stroke="#000" stroke-width="0.7" stroke-opacity="0.62"/>
<line x1="1367.39" y1="330.2" x2="1367.39" y2="336.6" stroke="#000" stroke-width="0.7" stroke-opacity="0.62"/>
<text x="1367.39" y="549" text-anchor="middle" font-size="12.3">21:00</text>
<text x="1442.7" y="549" text-anchor="middle" font-size="12.3">00:00</text>
<line x1="840.2" y1="332.4" x2="846.6" y2="332.4" stroke="#000" stroke-width="0.7" stroke-opacity="0.62"/>
<line x1="1442.7" y1="332.4" x2="1436.3" y2="332.4" stroke="#000" stroke-width="0.7" stroke-opacity="0.62"/>
<text x="836.3" y="336.8" text-anchor="end" font-size="12.3">22</text>
<line x1="840.2" y1="349.05" x2="846.6" y2="349.05" stroke="#000" stroke-width="0.7" stroke-opacity="0.62"/>
<line x1="1442.7" y1="349.05" x2="1436.3" y2="349.05" stroke="#000" stroke-width="0.7" stroke-opacity="0.62"/>
<text x="836.3" y="353.45" text-anchor="end" font-size="12.3">20</text>
<line x1="840.2" y1="367.45" x2="846.6" y2="367.45" stroke="#000" stroke-width="0.7" stroke-opacity="0.62"/>
<line x1="1442.7" y1="367.45" x2="1436.3" y2="367.45" stroke="#000" stroke-width="0.7" stroke-opacity="0.62"/>
<text x="836.3" y="371.85" text-anchor="end" font-size="12.3">18</text>
<line x1="840.2" y1="388.02" x2="846.6" y2="388.02" stroke="#000" stroke-width="0.7" stroke-opacity="0.62"/>
<line x1="1442.7" y1="388.02" x2="1436.3" y2="388.02" stroke="#000" stroke-width="0.7" stroke-opacity="0.62"/>
<text x="836.3" y="392.42" text-anchor="end" font-size="12.3">16</text>
<line x1="840.2" y1="411.34" x2="846.6" y2="411.34" stroke="#000" stroke-width="0.7" stroke-opacity="0.62"/>
<line x1="1442.7" y1="411.34" x2="1436.3" y2="411.34" stroke="#000" stroke-width="0.7" stroke-opacity="0.62"/>
<text x="836.3" y="415.74" text-anchor="end" font-size="12.3">14</text>
<line x1="840.2" y1="438.26" x2="846.6" y2="438.26" stroke="#000" stroke-width="0.7" stroke-opacity="0.62"/>
<line x1="1442.7" y1="438.26" x2="1436.3" y2="438.26" stroke="#000" stroke-width="0.7" stroke-opacity="0.62"/>
<text x="836.3" y="442.66" text-anchor="end" font-size="12.3">12</text>
<line x1="840.2" y1="470.1" x2="846.6" y2="470.1" stroke="#000" stroke-width="0.7" stroke-opacity="0.62"/>
<line x1="1442.7" y1="470.1" x2="1436.3" y2="470.1" stroke="#000" stroke-width="0.7" stroke-opacity="0.62"/>
<text x="836.3" y="474.5" text-anchor="end" font-size="12.3">10</text>
<line x1="840.2" y1="488.51" x2="846.6" y2="488.51" stroke="#000" stroke-width="0.7" stroke-opacity="0.62"/>
<line x1="1442.7" y1="488.51" x2="1436.3" y2="488.51" stroke="#000" stroke-width="0.7" stroke-opacity="0.62"/>
<text x="836.3" y="492.91" text-anchor="end" font-size="12.3">9</text>
<line x1="840.2" y1="509.08" x2="846.6" y2="509.08" stroke="#000" stroke-width="0.7" stroke-opacity="0.62"/>
<line x1="1442.7" y1="509.08" x2="1436.3" y2="509.08" stroke="#000" stroke-width="0.7" stroke-opacity="0.62"/>
<text x="836.3" y="513.48" text-anchor="end" font-size="12.3">8</text>
<line x1="840.2" y1="532.4" x2="846.6" y2="532.4" stroke="#000" stroke-width="0.7" stroke-opacity="0.62"/>
<line x1="1442.7" y1="532.4" x2="1436.3" y2="532.4" stroke="#000" stroke-width="0.7" stroke-opacity="0.62"/>
<text x="836.3" y="536.8" text-anchor="end" font-size="12.3">7</text>
<text x="813.7" y="432.3" text-anchor="middle" font-size="12.45" font-weight="bold" transform="rotate(-90 813.7 432.3)">freq (mHz)</text>
<rect x="1462" y="329.9" width="25" height="204.8" fill="url(#jet)"/>
<text x="1490.7" y="334.5" text-anchor="start" font-size="12.3">4</text>
<line x1="1487" y1="364.23" x2="1484" y2="364.23" stroke="#000" stroke-width="0.7" stroke-opacity="0.55"/>
<text x="1490.7" y="368.53" text-anchor="start" font-size="12.3">3</text>
<line x1="1487" y1="398.27" x2="1484" y2="398.27" stroke="#000" stroke-width="0.7" stroke-opacity="0.55"/>
<text x="1490.7" y="402.57" text-anchor="start" font-size="12.3">2</text>
<line x1="1487" y1="432.3" x2="1484" y2="432.3" stroke="#000" stroke-width="0.7" stroke-opacity="0.55"/>
<text x="1490.7" y="436.6" text-anchor="start" font-size="12.3">1</text>
<line x1="1487" y1="466.33" x2="1484" y2="466.33" stroke="#000" stroke-width="0.7" stroke-opacity="0.55"/>
<text x="1490.7" y="470.63" text-anchor="start" font-size="12.3">0</text>
<line x1="1487" y1="500.37" x2="1484" y2="500.37" stroke="#000" stroke-width="0.7" stroke-opacity="0.55"/>
<text x="1490.7" y="504.67" text-anchor="start" font-size="12.3">-1</text>
<text x="1490.7" y="538.7" text-anchor="start" font-size="12.3">-2</text>
<text x="1522.6" y="432.3" text-anchor="middle" font-size="12.45" font-weight="bold" transform="rotate(-90 1522.6 432.3)">log<tspan dy="5.1" font-size="10">2</tspan><tspan dy="-5.1">(nT</tspan><tspan dy="-5.4" font-size="10">2</tspan><tspan dy="5.4">/Hz)</tspan></text>
<text x="840.2" y="832.6" text-anchor="middle" font-size="12.3">00:00</text>
<line x1="915.51" y1="818" x2="915.51" y2="811.6" stroke="#000" stroke-width="0.7" stroke-opacity="0.62"/>
<line x1="915.51" y1="614" x2="915.51" y2="620.4" stroke="#000" stroke-width="0.7" stroke-opacity="0.62"/>
<text x="915.51" y="832.6" text-anchor="middle" font-size="12.3">03:00</text>
<line x1="990.83" y1="818" x2="990.83" y2="811.6" stroke="#000" stroke-width="0.7" stroke-opacity="0.62"/>
<line x1="990.83" y1="614" x2="990.83" y2="620.4" stroke="#000" stroke-width="0.7" stroke-opacity="0.62"/>
<text x="990.83" y="832.6" text-anchor="middle" font-size="12.3">06:00</text>
<line x1="1066.14" y1="818" x2="1066.14" y2="811.6" stroke="#000" stroke-width="0.7" stroke-opacity="0.62"/>
<line x1="1066.14" y1="614" x2="1066.14" y2="620.4" stroke="#000" stroke-width="0.7" stroke-opacity="0.62"/>
<text x="1066.14" y="832.6" text-anchor="middle" font-size="12.3">09:00</text>
<line x1="1141.45" y1="818" x2="1141.45" y2="811.6" stroke="#000" stroke-width="0.7" stroke-opacity="0.62"/>
<line x1="1141.45" y1="614" x2="1141.45" y2="620.4" stroke="#000" stroke-width="0.7" stroke-opacity="0.62"/>
<text x="1141.45" y="832.6" text-anchor="middle" font-size="12.3">12:00</text>
<line x1="1216.76" y1="818" x2="1216.76" y2="811.6" stroke="#000" stroke-width="0.7" stroke-opacity="0.62"/>
<line x1="1216.76" y1="614" x2="1216.76" y2="620.4" stroke="#000" stroke-width="0.7" stroke-opacity="0.62"/>
<text x="1216.76" y="832.6" text-anchor="middle" font-size="12.3">15:00</text>
<line x1="1292.08" y1="818" x2="1292.08" y2="811.6" stroke="#000" stroke-width="0.7" stroke-opacity="0.62"/>
<line x1="1292.08" y1="614" x2="1292.08" y2="620.4" stroke="#000" stroke-width="0.7" stroke-opacity="0.62"/>
<text x="1292.08" y="832.6" text-anchor="middle" font-size="12.3">18:00</text>
<line x1="1367.39" y1="818" x2="1367.39" y2="811.6" stroke="#000" stroke-width="0.7" stroke-opacity="0.62"/>
<line x1="1367.39" y1="614" x2="1367.39" y2="620.4" stroke="#000" stroke-width="0.7" stroke-opacity="0.62"/>
<text x="1367.39" y="832.6" text-anchor="middle" font-size="12.3">21:00</text>
<text x="1442.7" y="832.6" text-anchor="middle" font-size="12.3">00:00</text>
<line x1="840.2" y1="616.2" x2="846.6" y2="616.2" stroke="#000" stroke-width="0.7" stroke-opacity="0.62"/>
<line x1="1442.7" y1="616.2" x2="1436.3" y2="616.2" stroke="#000" stroke-width="0.7" stroke-opacity="0.62"/>
<text x="836.3" y="620.6" text-anchor="end" font-size="12.3">22</text>
<line x1="840.2" y1="632.85" x2="846.6" y2="632.85" stroke="#000" stroke-width="0.7" stroke-opacity="0.62"/>
<line x1="1442.7" y1="632.85" x2="1436.3" y2="632.85" stroke="#000" stroke-width="0.7" stroke-opacity="0.62"/>
<text x="836.3" y="637.25" text-anchor="end" font-size="12.3">20</text>
<line x1="840.2" y1="651.25" x2="846.6" y2="651.25" stroke="#000" stroke-width="0.7" stroke-opacity="0.62"/>
<line x1="1442.7" y1="651.25" x2="1436.3" y2="651.25" stroke="#000" stroke-width="0.7" stroke-opacity="0.62"/>
<text x="836.3" y="655.65" text-anchor="end" font-size="12.3">18</text>
<line x1="840.2" y1="671.82" x2="846.6" y2="671.82" stroke="#000" stroke-width="0.7" stroke-opacity="0.62"/>
<line x1="1442.7" y1="671.82" x2="1436.3" y2="671.82" stroke="#000" stroke-width="0.7" stroke-opacity="0.62"/>
<text x="836.3" y="676.22" text-anchor="end" font-size="12.3">16</text>
<line x1="840.2" y1="695.14" x2="846.6" y2="695.14" stroke="#000" stroke-width="0.7" stroke-opacity="0.62"/>
<line x1="1442.7" y1="695.14" x2="1436.3" y2="695.14" stroke="#000" stroke-width="0.7" stroke-opacity="0.62"/>
<text x="836.3" y="699.54" text-anchor="end" font-size="12.3">14</text>
<line x1="840.2" y1="722.06" x2="846.6" y2="722.06" stroke="#000" stroke-width="0.7" stroke-opacity="0.62"/>
<line x1="1442.7" y1="722.06" x2="1436.3" y2="722.06" stroke="#000" stroke-width="0.7" stroke-opacity="0.62"/>
<text x="836.3" y="726.46" text-anchor="end" font-size="12.3">12</text>
<line x1="840.2" y1="753.9" x2="846.6" y2="753.9" stroke="#000" stroke-width="0.7" stroke-opacity="0.62"/>
<line x1="1442.7" y1="753.9" x2="1436.3" y2="753.9" stroke="#000" stroke-width="0.7" stroke-opacity="0.62"/>
<text x="836.3" y="758.3" text-anchor="end" font-size="12.3">10</text>
<line x1="840.2" y1="772.31" x2="846.6" y2="772.31" stroke="#000" stroke-width="0.7" stroke-opacity="0.62"/>
<line x1="1442.7" y1="772.31" x2="1436.3" y2="772.31" stroke="#000" stroke-width="0.7" stroke-opacity="0.62"/>
<text x="836.3" y="776.71" text-anchor="end" font-size="12.3">9</text>
<line x1="840.2" y1="792.88" x2="846.6" y2="792.88" stroke="#000" stroke-width="0.7" stroke-opacity="0.62"/>
<line x1="1442.7" y1="792.88" x2="1436.3" y2="792.88" stroke="#000" stroke-width="0.7" stroke-opacity="0.62"/>
<text x="836.3" y="797.28" text-anchor="end" font-size="12.3">8</text>
<line x1="840.2" y1="816.2" x2="846.6" y2="816.2" stroke="#000" stroke-width="0.7" stroke-opacity="0.62"/>
<line x1="1442.7" y1="816.2" x2="1436.3" y2="816.2" stroke="#000" stroke-width="0.7" stroke-opacity="0.62"/>
<text x="836.3" y="820.6" text-anchor="end" font-size="12.3">7</text>
<text x="813.7" y="716" text-anchor="middle" font-size="12.45" font-weight="bold" transform="rotate(-90 813.7 716)">freq (mHz)</text>
<rect x="1462" y="613.7" width="25" height="204.6" fill="url(#jet)"/>
<text x="1490.7" y="618.3" text-anchor="start" font-size="12.3">4</text>
<line x1="1487" y1="648" x2="1484" y2="648" stroke="#000" stroke-width="0.7" stroke-opacity="0.55"/>
<text x="1490.7" y="652.3" text-anchor="start" font-size="12.3">3</text>
<line x1="1487" y1="682" x2="1484" y2="682" stroke="#000" stroke-width="0.7" stroke-opacity="0.55"/>
<text x="1490.7" y="686.3" text-anchor="start" font-size="12.3">2</text>
<line x1="1487" y1="716" x2="1484" y2="716" stroke="#000" stroke-width="0.7" stroke-opacity="0.55"/>
<text x="1490.7" y="720.3" text-anchor="start" font-size="12.3">1</text>
<line x1="1487" y1="750" x2="1484" y2="750" stroke="#000" stroke-width="0.7" stroke-opacity="0.55"/>
<text x="1490.7" y="754.3" text-anchor="start" font-size="12.3">0</text>
<line x1="1487" y1="784" x2="1484" y2="784" stroke="#000" stroke-width="0.7" stroke-opacity="0.55"/>
<text x="1490.7" y="788.3" text-anchor="start" font-size="12.3">-1</text>
<text x="1490.7" y="822.3" text-anchor="start" font-size="12.3">-2</text>
<text x="1522.6" y="716" text-anchor="middle" font-size="12.45" font-weight="bold" transform="rotate(-90 1522.6 716)">log<tspan dy="5.1" font-size="10">2</tspan><tspan dy="-5.1">(nT</tspan><tspan dy="-5.4" font-size="10">2</tspan><tspan dy="5.4">/Hz)</tspan></text>
<text x="1141.4" y="847.8" text-anchor="middle" font-size="12.45" font-weight="bold">UT (hours)</text>
</svg></body></html>
